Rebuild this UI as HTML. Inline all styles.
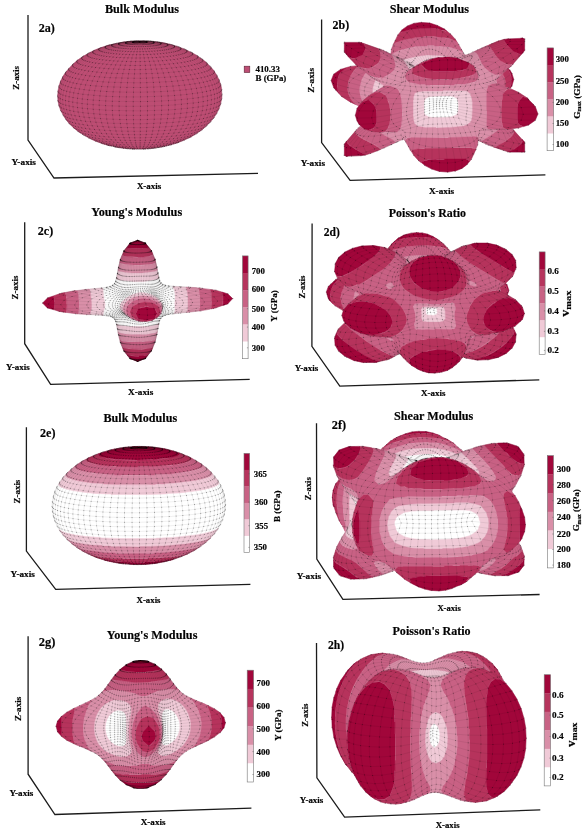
<!DOCTYPE html><html><head><meta charset="utf-8"><style>html,body{margin:0;padding:0;background:#fff}svg{display:block}</style></head><body><svg width="587" height="835" viewBox="0 0 587 835"><rect width="587" height="835" fill="#fff"/><path d="M60.6 81.1 59.1 85.4 57.9 91.1 57.9 93.6 57.6 93.9 57.9 100.9 58.9 105.4 60.6 110.4 64.9 118.1 68.6 122.9 73.6 127.9 79.4 132.4 88.9 138.1 94.9 140.9 103.1 143.9 110.1 145.9 112.4 146.1 117.1 147.4 126.1 148.6 133.9 148.9 134.1 149.1 143.1 149.1 143.4 148.9 150.9 148.6 161.4 147.1 170.1 145.1 177.4 142.9 184.4 140.1 191.1 136.9 196.6 133.6 202.6 129.4 210.4 122.1 213.6 118.1 216.6 113.6 219.1 108.6 220.6 104.1 221.9 97.6 221.6 88.6 220.9 85.1 218.9 79.4 216.6 74.9 213.9 70.6 211.6 67.9 205.4 61.6 196.9 55.4 191.6 52.4 184.1 48.9 177.4 46.4 169.4 44.1 162.4 42.6 153.4 41.4 145.9 41.1 145.6 40.9 136.4 40.9 136.1 41.1 131.9 41.1 122.9 42.1 108.6 45.1 100.9 47.6 94.6 50.1 83.4 56.1 77.6 60.1 73.1 63.9 68.4 68.9 65.4 72.6 63.1 76.1Z" fill="#bd4d73" stroke="#bd4d73" stroke-width="0.4"/>
<path transform="scale(0.1)" d="M1469 420l-25-7-53-1-47 3-18 7 22 7 53 2 52-4M1540 424l-17-7-34-6-102-3-91 7-31 7-10 7 13 8 30 5 105 5 105-8 27-7M1610 433l-28-12-56-8M1521 412l-23-1M1487 410l-29-1M1360 409l-22 1M1318 411l-17 1M1290 413l-77 12-21 7-7 9 13 9 26 6 85 9 109 1 103-6 71-12 16-8 2-7M1678 445l-16-10-40-9M1615 425l-5-1M1598 422l-5 0M1577 420l-3-1M1212 424l-6 1M1195 427l-3 0M1184 428l-8 2M1171 431l-29 7-22 10-2 10 16 10 72 14 121 8 138-2 116-9 76-15 19-9 2-10M1744 461l-20-12-31-8M1687 440l-3-1M1115 444l-3 1M1104 447l-3 0M1095 449l-34 11-10 11 5 10 28 12 96 16 160 8 150-3 141-12 53-9 42-11 19-13-1-8M1808 481l-13-10-21-7M1770 462l-3 0M1029 469l-3 1M1021 471l-29 14-5 8 1 7 15 10 40 13 121 16 165 8 178-3 162-14 68-11 49-13 19-12 5-8-2-5M1868 505l-21-14M1843 489l-8-2M951 499l-24 16 1 10 6 7 21 10 58 15 152 17 195 6 203-5 171-17 75-15 34-10 25-16 0-12M1925 531l-13-10M1908 519l-7-3M895 526l-2 1M888 529l-17 14-1 8 8 11 36 16 53 12 170 19 219 7 227-6 192-19 83-16 39-12 24-14 6-11-2-7M1978 561l-13-10M837 559l-4 2M829 564l-11 10-2 7 9 14 37 16 62 15 187 21 240 8 250-7 212-21 73-14 60-17 26-14 8-14-2-7M2026 594l-12-9M778 599l-11 17 11 15 29 14 77 19 92 13 111 10 260 9 271-8 229-23 70-12 75-21 16-7 19-15-1-16M2069 630l-8-8M733 637l-7 8-1 11 10 13 13 8 45 16 92 18 122 14 110 8 247 6 269-9 245-24 96-18 59-18 34-20 5-12-3-8M2108 668l-2-1M2101 661l-2-1M694 677l-9 16 3 8 23 17 53 18 91 18 89 11 157 12 302 6 301-13 132-12 111-16 71-15 61-20 22-13 8-9 2-8-3-9M2141 709l-3-3M657 722l-5 12 3 9 24 17 65 22 86 16 144 16 113 8 316 6 315-13 233-26 96-19 54-17 19-9 19-14 5-12-3-9M2168 751l-3-3M630 765l-6 12 4 9 24 18 74 24 83 15 114 14 153 11 327 7 327-14 125-11 139-20 77-16 69-23 21-12 8-10 3-9-4-9M607 810l-4 11 3 10 25 18 76 25 86 16 98 12 176 13 165 6 172 1 205-6 130-8 138-13 134-19 78-16 58-18 21-9 23-20 2-9-3-10M590 857l-3 10 4 9 23 18 24 10 61 17 114 20 248 22 179 6 164 0 298-11 166-14 107-14 97-17 90-25 35-20 9-9 2-12M2206 841l-1-2M580 906l2 17 9 9 38 19 88 22 105 17 110 11 180 11 292 4 189-5 157-9 232-25 91-16 98-27 36-20 8-9 2-12M575 957l3 12 10 10 38 18 62 17 132 22 246 21 195 6 143 0 325-13 255-26 92-17 98-27 36-19 9-10 2-12M578 1004l4 11 9 10 38 18 75 20 118 19 257 21 325 6 302-11 167-15 109-13 91-17 71-17 50-21 21-18 3-10M587 1051l4 10 10 9 42 20 94 23 92 14 232 20 190 6 153 1 331-14 240-25 90-16 70-18 48-19 14-9 10-13M2208 1036l1-3M603 1098l13 17 15 9 49 17 70 16 90 14 227 19 187 6 150 1 293-11 162-14 105-14 89-15 68-17 47-19 14-9 9-13M627 1146l10 12 15 9 47 17 68 15 88 14 231 19 317 6 327-14 219-23 86-16 66-16 46-18 22-20M654 1188l10 12 15 9 45 16 66 15 84 13 234 19 295 5 255-9 118-9 145-17 91-16 64-16 44-17 22-18M688 1232l23 16 43 16 63 14 88 13 254 19 244 3 244-8 213-20 158-28 52-16 18-8 18-14M731 1274l35 19 50 14 152 23 204 14 231 3 230-8 202-18 149-27 49-15 32-19M775 1310l32 17 47 13 142 22 191 13 215 3 216-8 189-17 139-25 46-14 29-16M824 1344l48 21 117 21 167 14 195 5 202-4 182-14 142-21 50-13 36-14M1967 1336l6-4M883 1378l59 20 119 18 160 11 181 2 181-6 158-15 117-20 55-20M945 1407l68 19 117 15 136 7 135 2 129-4 142-11 115-17 64-20M1005 1430l4 2M1012 1433l62 14 90 11 107 7 130 1 118-4 117-9 101-15 52-15M1070 1450l2 1M1078 1453l55 12 67 7 200 7 183-9 83-11 48-11M1718 1446l2 0M1144 1468l2 0M1153 1470l9 2M1166 1473l93 11 141 3 141-6 91-13M1636 1467l7-2M1648 1464l4-1M1219 1480l2 1M1234 1483l8 1M1251 1485l149 7 141-9M1550 1482l8-2M1568 1478l4 0M1324 1490l15 1M1432 1491l22-1M1481 1488l1 0M1398 419l142 5 93 13 111 24 124 44 101 51 57 38 43 36 39 38 37 48M2154 730l14 21M2186 787l4 7M2203 832l2 7M1398 419l94 1 116 10 132 27 63 19 115 49 53 30 69 50M2054 616l45 44M1398 419l138 2 89 10 108 22 120 41M1872 502l9 4M1899 515l35 19M1998 575l8 5M1398 419l123 0 77 6 95 17 91 25M1822 481l27 11M1876 505l9 4M1398 419l97-2 95 6 122 22 58 17M1398 419l123-3 61 5 78 13M1689 440l27 7M1398 419l117-4 57 4 65 10M1664 435l9 2M1398 419l109-5 71 5M1398 419l100-7 66 5M1398 419l91-8 52 4M1398 419l41-6 80-1M1398 419l35-7 47-2M1497 411l12 1M1398 419l40-8 49-1M1398 419l48-11 27 2M1398 419l18-7 24-4M1398 419l12-7 16-4M1398 419l12-11M1398 419l-1-11M1398 419l-16-11M1398 419l-13-7-19-3M1362 409l-5 1M1398 419l-29-8-28-1M1398 419l-25-7-33-2M1398 419l-41-7-50 0M1398 419l-36-6-54-1M1290 413l-6 1M1398 419l-83-7-40 3M1398 419l-93-6-45 4M1398 419l-102-4-90 10M1398 419l-110-3-107 13M1398 419l-118-2-57 6-66 11M1398 419l-62-2-123 8-60 10-85 22M1398 419l-76-1-118 9-62 11-99 27M1398 419l-135 3-66 8-127 26-69 23M982 487l-19 7M908 520l-9 4M1398 419l-138 5-134 20-126 36-68 28M913 517l-36 18M1398 419l-71 1-139 15-133 30-63 20-78 33-90 49-48 34-62 55M1398 419l-142 8-139 24-129 39-108 48-62 36-92 71-39 39-33 41-27 43-22 44M592 849l-2 8M1398 419l-155 12-127 23-66 19-64 22-98 45-72 41-49 35-43 37-61 67-39 57-21 44-16 46-9 46-3 46 6 62M584 1036l8 30M1398 419l-95 7-117 16-123 32-75 26-88 41-82 47-91 73-39 40-51 71-31 59-15 45-8 39-5 54 5 54 8 38 15 45 22 43 49 69M688 1232l7 6M1398 419l-94 8-116 18-132 36-112 46-66 35-100 69-43 38-38 40-33 43-27 43-21 45-15 46-10 46-3 47 3 46 10 45 15 45 21 43 27 42 33 40 38 38 75 57M825 1345l27 15M1398 419l-138 15-78 16-119 35-120 52-106 65-82 68-44 48-32 42-27 44-21 45-15 46-9 54-3 39 3 46 9 46 15 44 21 43 27 42 32 39 37 37 42 35 47 32 60 33M915 1394l9 4M1398 419l-134 17-130 32-122 46-65 34-95 60-86 76-36 42-31 43-26 44-20 45-15 46-9 47-2 54 2 38 9 46 15 44 20 43 26 41 31 39 36 37 41 34 95 60 72 32M1012 1433l10 3M1062 1448l20 5M1398 419l-129 18-125 34-118 47-106 62-92 72-74 81-30 44-25 44-22 53-20 86-3 46 3 46 9 45 14 44 19 43 25 41 30 39 35 36 83 65 99 52 113 38M1124 1463l20 5M1398 419l-123 20-120 34-112 50-101 62-88 73-71 82-52 89-19 46-13 46-8 47-3 46 3 46 8 46 13 44 19 42 24 41 28 38 33 36 38 33 88 58 101 44 64 18M1136 1466l19 5M1398 419l-117 21-112 36-106 51-96 63-83 74-67 83-50 89-30 93-7 47-3 46 3 46 7 45 13 44 17 42 23 41 27 38 67 68 83 57 96 43 106 27M1398 419l-109 22-105 38-99 51-90 65-77 75-63 84-46 89-28 93-10 94 10 91 28 85 46 78 63 68 77 56 90 41 48 16 68 13M1398 419l-100 23-98 39-91 53-83 65-71 76-58 85-42 90-26 93-9 93 9 91 26 86 42 77 58 67 71 55 83 41 45 14 86 17M1398 419l-91 25-88 39-83 54-75 66-65 77-52 85-39 90-25 102-7 85 2 46 16 89 31 81 46 72 59 61 70 47 79 32 86 16M1398 419l-81 25-40 19-58 35-55 41-34 32-62 73-53 82-41 88-27 93-15 94 0 93 15 88 27 81 41 71 53 60 62 47 70 31 38 10 52 6M1398 419l-71 26-68 41-64 56-63 74-45 71-22 43-35 89-25 93-12 94 0 92 12 88 25 81 35 71 46 60 54 45 61 31 33 10 40 5M1322 1490l5 0M1398 419l-59 27-58 42-54 56-26 32-42 68-42 89-30 89-20 93-10 95 0 92 10 88 20 81 14 36 28 55 27 38 22 25 49 38 54 22 58 6M1398 419l-48 27-46 43-44 56-48 88-40 102-24 90-17 93-8 95 0 92 8 88 17 80 24 71 31 59 37 44 41 30 23 9 34 5M1398 419l-36 28-35 43-33 56-32 76-34 115-18 90-12 93-7 95 0 92 7 88 12 80 18 71 23 58 28 45 31 29 17 9 23 5M1398 419l-24 28-23 43-22 57-21 76-22 115-12 90-13 188 4 180 9 81 12 70 15 58 18 44 21 30 11 8 15 5M1398 419l-23 71-24 165-13 174-6 188 2 180 10 150 16 103 10 29 13 13M1398 419l6 597-5 476M1398 419l18 41 15 56 22 138 15 173 7 188-2 180-11 151-20 103-11 29-15 14M1398 419l26 28 25 42 23 56 28 95 20 96 13 89 13 188-4 180-9 81-13 70-17 59-20 45-22 29-12 9-21 5M1398 419l38 27 37 42 34 56 36 81 34 108 19 90 13 93 7 94 0 93-8 94-21 111-21 65-27 52-32 38-34 22-18 5-22 1M1398 419l50 26 48 42 46 55 41 68 50 120 25 89 17 93 9 95 0 92-9 88-17 81-25 71-32 59-38 46-44 30-23 10-28 5M1456 1490l-8 0M1398 419l61 26 60 40 56 55 50 67 50 92 43 116 21 93 11 94 0 93-11 88-21 81-31 71-39 60-47 46-54 32-28 9-40 7M1398 419l72 25 71 39 65 54 64 73 47 71 22 41 37 88 24 93 13 94 0 92-13 89-24 81-37 72-46 60-56 47-63 32-33 11-41 6M1488 1488l-6 0M1398 419l83 24 80 38 81 58 63 61 30 37 54 80 41 88 29 92 14 94 0 92-14 89-29 82-41 72-54 61-63 48-72 33-39 11-53 7M1398 419l93 23 90 37 84 52 76 64 66 76 53 84 39 89 25 93 8 94-8 91-25 85-39 78-53 68-66 55-76 42-41 15-58 14M1536 1483l-7 1M1398 419l102 21 98 37 93 50 84 64 72 74 59 83 43 90 15 46 16 77 4 63-2 46-18 88-35 83-51 74-65 62-79 50-88 35-96 20M1398 419l110 20 107 35 100 49 91 63 78 73 63 83 47 88 29 93 9 93-9 91-29 86-47 79-63 69-78 58-91 43-49 17-60 14M1398 419l118 18 114 34 107 48 97 61 83 73 68 81 50 89 30 91 8 47 3 46-3 46-8 46-12 44-18 42-23 41-27 39-68 70-83 58-97 45-107 30M1398 419l124 17 121 32 113 47 102 60 88 71 72 81 53 87 18 46 14 46 8 46 3 47-3 46-8 45-14 44-18 43-24 41-29 39-34 37-38 34-88 60-102 46-113 31M1398 419l130 15 126 31 118 45 64 33 91 60 84 75 65 84 25 44 20 45 14 46 9 46 3 47-3 46-9 45-14 45-20 43-25 41-30 40-35 37-84 66-100 54-93 35M1714 1448l-10 2M1398 419l68 5 133 21 127 37 117 51 103 63 87 74 37 41 31 42 26 44 20 45 15 46 9 46 3 46-3 46-9 46-15 44-20 44-26 42-31 39-37 38-41 35-95 62-64 30M1795 1421l-29 10M1398 419l138 12 101 20 98 27 120 49 55 30 98 68 43 37 37 40 32 42 27 44 21 45 15 45 9 54 3 39-3 46-9 45-15 45-30 58-50 68-37 38-43 36-72 48M1919 1365l-36 18M1398 419l129 9 81 12 133 34 83 30 96 46 100 67 43 37 38 40 33 41 30 51 18 37 15 45 10 46 3 47-8 69-20 68-21 44-27 42-46 53-68 62M2004 1310l-16 12M1972 1333l-9 5M1398 419l95 5 117 14 69 14 119 35 71 29 56 28 102 66 43 36 44 46 28 35 27 42 22 44 15 46 9 46 3 54-3 38-9 46-15 45-26 51M2155 1154l-30 42M1398 419l72 2 129 13 81 14 66 17 124 45 57 28 61 36 84 64 39 39 33 41 28 42 24 51 13 38 9 46 3 46-3 46M2210 1026l-1 7" fill="none" stroke="#000" stroke-opacity="0.13" stroke-width="0.5" vector-effect="non-scaling-stroke"/>
<path transform="scale(0.1)" d="M1246 418h1m13-1h1m13 2h1m0-4h1m4 2h1m7-1h1m1-3h1m5 2h1m8-2h1m1-1h1m7 0h1m10-1h1m2 9h1m0-1h1m2-1h1m2-1h1m0-7h1m1 6h1m1-6h1m1 6h1m3-1h1m0-5h1m2 4h1m4 0h1m3-5h1m-1 0h1m1 4h1m4 0h1m4-5h1m0 4h1m5 0h1m5-4h1m-1 4h1m5 0h1m5-4h1m-1 4h1m0 7h1m5-7h1m4-4h1m0 4h1m5 0h1m5-4h1m-1 4h1m5 0h1m4 0h1m0-4h1m4 5h1m4 0h1m1-5h1m1 6h1m4 0h1m2 1h1m0-6h1m2 7h1m2 1h1m1 0h1m1 1h1m1 1h1m-1-9h1m-1 10h1m-1-11h1m9 1h1m7 0h1m1 1h1m8 1h1m4-1h1m3 3h1m7 1h1m3-3h1m1 4h1m5 2h1m4 1h1m1-5h1m13 1h1m11 2h1m11 2h1m4 1h1m-508 36h1m11-4h1m12-3h1m16-4h1m3 9h1m0-3h1m0 7h1m1-10h1m5-4h1m6-3h1m8-3h1m10-3h1m12-3h1m14-3h1m3 11h1m0-3h1m-1 5h1m1-7h1m-1 10h1m3-13h1m0 15h1m3-17h1m0 20h1m5-23h1m1 25h1m6-27h1m0 29h1m8-31h1m0 33h1m9-36h1m1 38h1m11 2h1m6-31h1m0-2h1m-1 4h1m0-5h1m-1 6h1m2-8h1m-1 10h1m2-12h1m0 14h1m3-15h1m0 16h1m5 2h1m5 1h1m7 1h1m8 1h1m8 2h1m9 0h1m8-22h1m-1-1h1m0 2h1m-1-3h1m-1 25h1m-1-21h1m1 1h1m1 1h1m1 0h1m2 1h1m2 19h1m0-18h1m2 0h1m4 1h1m1 17h1m1-17h1m4 1h1m4 17h1m0-17h1m4 1h1m5 0h1m-1 16h1m5-16h1m5 0h1m0 16h1m4-16h1m6 0h1m-1 16h1m5-16h1m5 0h1m-1 16h1m5-16h1m5-1h1m0 17h1m4-17h1m4 0h1m1 16h1m3-17h1m4-1h1m2 17h1m0-17h1m3-1h1m3-1h1m1 19h1m0-19h1m2-1h1m2-1h1m0-1h1m1-1h1m0-1h1m-1 0h1m-1 23h1m10-1h1m9-1h1m8-2h1m7-1h1m7-2h1m5-1h1m5-2h1m4-1h1m2-12h1m-1 37h1m-1-27h1m2-8h1m-1 6h1m0-5h1m-1 4h1m0-2h1m8 31h1m11-2h1m10-3h1m8-31h1m0 29h1m6-27h1m1 25h1m3-26h1m1 3h1m0 20h1m3-17h1m0 15h1m3-13h1m-1 10h1m1-7h1m-1 5h1m0-3h1m0-11h1m14 3h1m13 2h1m10 3h1m9 3h1m6 3h1m0 20h1m4-16h1m0 13h1m1-10h1m0 7h1m0-4h1m17-6h1m13 3h1m11 4h1m8 4h1m6 4h1m-755 38h1m1-5h1m-1 10h1m3-15h1m7-5h1m9-5h1m39-2h1m0-4h1m0 8h1m2-12h1m0 16h1m4-21h1m1 25h1m8 4h1m11 4h1m13 3h1m15 4h1m6-39h1m5 3h1m6 4h1m9 3h1m10 2h1m13 3h1m14 3h1m15 2h1m18 2h1m18 2h1m20 1h1m2-25h1m14 2h1m3 25h1m11-24h1m10 25h1m4-24h1m17 1h1m-1 24h1m16-24h1m6 24h1m10-23h1m12 23h1m5-23h1m18 0h1m-1 23h1m17-24h1m6 24h1m10-24h1m12 23h1m5-24h1m16-1h1m0 24h1m15-25h1m6 24h1m9-25h1m12 23h1m1-25h1m19 23h1m19-2h1m19-2h1m16-2h1m16-3h1m14-3h1m12-3h1m10-3h1m8-3h1m2 35h1m17-4h1m16-3h1m12-4h1m11-4h1m8-4h1m5-4h1m2-13h1m0 8h1m0-4h1m23-3h1m13 5h1m10 4h1m7 5h1m0 20h1m3-15h1m-1 10h1m1-5h1m30 2h1m11 6h1m8 5h1m-987 38h1m9-7h1m12-6h1m26-3h1m0-6h1m0 11h1m3-17h1m1 23h1m6-28h1m1 33h1m49-32h1m7 4h1m10 5h1m13 4h1m16 5h1m19 4h1m21 3h1m23 4h1m23-31h1m2 34h1m17-31h1m9 33h1m11-31h1m23 2h1m25 2h1m26 2h1m27 1h1m28 1h1m29 1h1m29 0h1m29 0h1m30-1h1m29 0h1m28-2h1m28-1h1m27-2h1m26-2h1m0 31h1m24-34h1m5 31h1m17-34h1m11 31h1m9-34h1m18 31h1m25-4h1m23-4h1m21-4h1m18-4h1m15-5h1m13-4h1m9-5h1m30 37h1m15-5h1m11-6h1m8-5h1m3-17h1m0 11h1m0-6h1m37 9h1m9 6h1m6 6h1m1 7h1m-1110 36h1m5-7h1m10-7h1m33-11h1m1-6h1m-1 13h1m6 6h1m9 6h1m13 6h1m17 6h1m34-38h1m15 5h1m19 5h1m21 5h1m24 4h1m27 4h1m30 3h1m32 3h1m34 3h1m29-32h1m5 34h1m25-32h1m12 34h1m19-33h1m18 34h1m14-33h1m34 1h1m35 0h1m35 0h1m35-1h1m4 34h1m29-35h1m10 33h1m23-34h1m15 33h1m18-35h1m20 33h1m37-3h1m35-3h1m34-3h1m31-4h1m29-4h1m27-5h1m24-5h1m21-5h1m48 32h1m20-6h1m17-6h1m12-6h1m9-7h1m4-6h1m45 11h1m6 6h1m-1 14h1m1-7h1m25 12h1m-1240 36h1m1-8h1m6-7h1m39-20h1m1 7h1m6 7h1m11 7h1m14 6h1m19 6h1m69-29h1m24 5h1m27 5h1m30 4h1m34 4h1m36 3h1m38 3h1m40 3h1m42 2h1m43 1h1m44 1h1m8-36h1m36 36h1m3-36h1m40 0h1m0 36h1m45-1h1m45-1h1m44-2h1m43-2h1m41-3h1m40-3h1m38-4h1m35-5h1m33-4h1m30-5h1m27-6h1m42 35h1m26-6h1m22-6h1m18-7h1m14-7h1m10-7h1m45 5h1m1 30h1m5-23h1m0 16h1m1-8h1m-1306 51h1m1-8h1m6-8h1m36-14h1m7 8h1m11 7h1m16 7h1m20 7h1m25 6h1m41-38h1m27 6h1m30 5h1m33 5h1m37 4h1m40 4h1m42 3h1m44 3h1m46 2h1m47 2h1m49 1h1m49 0h1m50 0h1m50-1h1m49-2h1m49-2h1m47-2h1m46-3h1m44-4h1m41-4h1m39-5h1m37-5h1m33-6h1m36 38h1m32-6h1m28-7h1m24-7h1m20-7h1m15-7h1m52-3h1m1 32h1m5-24h1m0 16h1m1-8h1m26 22h1m-1415 33h1m1-9h1m39-23h1m7 8h1m12 8h1m17 7h1m22 8h1m26 6h1m67-34h1m33 6h1m36 5h1m40 5h1m43 4h1m46 3h1m48 3h1m50 3h1m51 1h1m53 1h1m53 1h1m54 0h1m54-1h1m54-2h1m53-2h1m51-3h1m50-3h1m47-4h1m45-5h1m43-5h1m39-6h1m70 35h1m34-7h1m30-7h1m26-8h1m21-8h1m17-8h1m49 32h1m6-26h1m0 17h1m1-8h1m-1460 57h1m1-9h1m7-9h1m25-15h1m8 8h1m13 9h1m18 8h1m23 7h1m93-28h1m36 6h1m39 5h1m42 5h1m46 5h1m49 4h1m51 3h1m54 2h1m55 2h1m57 1h1m57 1h1m58-1h1m58-1h1m57-1h1m56-3h1m55-3h1m53-4h1m51-4h1m49-5h1m45-5h1m42-6h1m106 28h1m32-7h1m27-8h1m23-8h1m17-9h1m45 33h1m6-26h1m0 18h1m1-9h1m-1521 59h1m2-9h1m27-25h1m8 9h1m14 8h1m19 9h1m24 8h1m58-37h1m33 7h1m37 7h1m41 6h1m46 5h1m48 4h1m52 4h1m54 4h1m57 2h1m367 1h1m59-3h1m59-3h1m56-4h1m54-4h1m51-6h1m48-5h1m45-7h1m40-6h1m64 36h1m34-8h1m28-8h1m24-9h1m18-9h1m40 35h1m6-28h1m0 18h1m2-9h1m-1568 52h1m22-26h1m8 9h1m14 9h1m20 9h1m81-29h1m34 7h1m39 7h1m43 6h1m47 6h1m51 4h1m55 5h1m187-38h1m60 2h1m61 0h1m61 0h1m61-1h1m192 37h1m59-4h1m57-5h1m53-5h1m51-6h1m46-7h1m43-7h1m97 29h1m29-8h1m25-9h1m19-9h1m42 6h1m0 19h1m1-9h1m-1604 53h1m12-36h1m2 10h1m9 9h1m14 9h1m21 9h1m45-37h1m31 8h1m35 7h1m41 7h1m45 7h1m49 5h1m181-33h1m60 3h1m61 2h1m63 1h1m63 1h1m64-1h1m64-1h1m64-2h1m62-2h1m193 33h1m55-5h1m52-7h1m49-6h1m44-8h1m40-7h1m53 37h1m31-9h1m25-9h1m20-9h1m13-10h1m22 16h1m0 20h1m2-10h1m-1623 18h1m3 9h1m9 10h1m14 9h1m63-28h1m31 8h1m37 7h1m42 8h1m46 6h1m118-36h1m56 5h1m59 3h1m62 3h1m63 2h1m65 2h1m66 0h1m66 0h1m67-1h1m66-2h1m65-3h1m63-4h1m61-4h1m128 36h1m53-6h1m50-7h1m46-8h1m41-8h1m81 29h1m26-9h1m20-10h1m13-10h1m20 27h1m-1641 18h1m3 10h1m8 9h1m46-28h1m27 9h1m32 8h1m37 8h1m43 7h1m109-34h1m55 5h1m57 5h1m61 3h1m63 3h1m66 2h1m66 2h1m68 0h1m69 0h1m68-1h1m68-2h1m66-3h1m65-4h1m63-4h1m60-5h1m123 34h1m50-7h1m47-7h1m41-9h1m37-8h1m67 28h1m20-10h1m14-10h1m7-9h1m-1641 54h1m2 10h1m9 10h1m18-37h1m21 9h1m27 9h1m33 8h1m38 8h1m98-33h1m51 6h1m56 5h1m59 5h1m62 4h1m64 3h1m67 2h1m68 1h1m69 1h1m70-1h1m69-1h1m69-2h1m68-3h1m67-4h1m64-4h1m61-5h1m59-6h1m113 33h1m47-8h1m42-8h1m37-9h1m32-9h1m50 28h1m14-10h1m8-10h1m1-10h1m-1644 64h1m3 10h1m21-27h1m21 9h1m27 9h1m33 8h1m85-31h1m47 7h1m52 6h1m56 5h1m60 5h1m63 4h1m65 3h1m67 2h1m69 1h1m70 1h1m71-1h1m70-1h1m70-2h1m69-3h1m67-3h1m65-5h1m62-5h1m59-6h1m56-7h1m101 32h1m43-9h1m37-8h1m32-9h1m26-10h1m17 37h1m14-10h1m7-10h1m2-10h1m-1632 64h1m3-26h1m15 9h1m21 9h1m27 9h1m69-30h1m43 8h1m48 6h1m52 6h1m57 6h1m59 4h1m63 4h1m66 3h1m424 1h1m69-3h1m67-4h1m65-4h1m63-6h1m59-6h1m56-6h1m51-7h1m88 29h1m37-8h1m32-9h1m26-10h1m25 27h1m8-10h1m2-10h1m-1619 28h1m9 9h1m14 10h1m21 9h1m27 8h1m24-37h1m38 8h1m43 8h1m47 6h1m52 6h1m56 6h1m60 4h1m197-36h1m69 1h1m70 0h1m71 0h1m71-1h1m207 37h1m65-4h1m62-6h1m59-6h1m56-6h1m51-7h1m47-8h1m34 37h1m37-9h1m31-9h1m26-9h1m19 26h1m0-36h1m7 26h1m-1586 18h1m9 9h1m14 9h1m21 9h1m45-27h1m37 7h1m43 8h1m47 6h1m51 6h1m56 5h1m118-36h1m65 3h1m67 2h1m69 2h1m70 0h1m71 0h1m70-1h1m70-2h1m69-3h1m129 36h1m61-5h1m59-6h1m55-6h1m50-7h1m47-8h1m65 27h1m31-8h1m25-10h1m20-9h1m0 25h1m-1542 17h1m8 9h1m14 9h1m20 9h1m6-35h1m31 9h1m37 7h1m42 7h1m46 7h1m50 6h1m106-34h1m62 4h1m64 3h1m67 2h1m68 1h1m69 1h1m70 0h1m69-2h1m69-2h1m68-3h1m67-3h1m118 34h1m58-6h1m53-7h1m50-7h1m46-7h1m41-8h1m17 34h1m29-8h1m25-9h1m14 15h1m4-24h1m13-9h1m-1507 49h1m8 9h1m14 9h1m19 8h1m-1-33h1m31 8h1m35 7h1m41 7h1m45 7h1m49 5h1m41-36h1m57 4h1m61 4h1m63 3h1m66 2h1m66 1h1m68 1h1m69 0h1m68-2h1m68-2h1m66-2h1m65-4h1m63-4h1m50 36h1m55-5h1m52-7h1m49-6h1m44-8h1m40-8h1m11 33h1m28-8h1m24-8h1m7 14h1m10-23h1m13-9h1m-1447 48h1m8 8h1m13 8h1m12-23h1m5 31h1m24-23h1m34 7h1m39 6h1m43 7h1m47 5h1m36-35h1m56 5h1m59 3h1m62 3h1m63 2h1m65 2h1m66 0h1m66 0h1m67-1h1m66-2h1m65-3h1m63-4h1m61-4h1m45 35h1m53-5h1m51-7h1m46-6h1m43-7h1m38-8h1m5 31h1m27-7h1m23-9h1m-1 14h1m17-22h1m12-8h1m-1367 53h1m12 7h1m5-21h1m11 29h1m16-22h1m33 7h1m37 6h1m41 6h1m46 5h1m29-32h1m55 4h1m56 4h1m60 2h1m61 2h1m63 2h1m63 0h1m64 0h1m64-1h1m64-2h1m62-3h1m61-3h1m59-4h1m40 32h1m51-5h1m48-6h1m45-6h1m40-7h1m36 22h1m0-29h1m25 22h1m8 12h1m12-20h1m17-8h1m11-8h1m-1286 50h1m10-13h1m0 20h1m16 7h1m8-20h1m11 27h1m19-20h1m36 6h1m39 5h1m42 5h1m24-30h1m21 34h1m30-30h1m18 34h1m35-31h1m57 3h1m58 2h1m60 1h1m61 1h1m61-1h1m61-1h1m61-2h1m59-2h1m45 31h1m13-34h1m39 30h1m16-34h1m34 30h1m49-5h1m45-5h1m42-6h1m38 20h1m0-27h1m27 20h1m6-27h1m7 39h1m9-19h1m0 12h1m19-19h1m15-7h1m-1184 38h1m11 7h1m14 7h1m1-19h1m17 25h1m11-19h1m11 25h1m21-19h1m5 24h1m30-19h1m40 5h1m43 4h1m46 4h1m29-29h1m18 32h1m35-29h1m14 31h1m40-29h1m10 31h1m46-30h1m6 31h1m50-31h1m2 31h1m54 0h1m0-31h1m53 30h1m4-31h1m49 29h1m7-31h1m45 29h1m10-31h1m40 28h1m50-3h1m47-4h1m45-5h1m43-5h1m5 24h1m33-5h1m-1-25h1m29 19h1m6-25h1m12 35h1m6-16h1m5 10h1m16-17h1m18-6h1m-1059 34h1m13 6h1m17 5h1m21 6h1m12-17h1m-1 31h1m11-9h1m3 14h1m17-31h1m5 22h1m30 4h1m0-21h1m33 25h1m6-22h1m29 25h1m12-21h1m44 2h1m46 3h1m47 1h1m49 1h1m49 0h1m50 0h1m50-1h1m49-1h1m49-2h1m47-3h1m23 22h1m22-25h1m17 22h1m26-26h1m11 22h1m29-26h1m5 21h1m33-4h1m-1-22h1m11 36h1m18-19h1m2 14h1m17-6h1m6-14h1m8 9h1m14-14h1m20-6h1m-889 40h1m20 11h1m0-7h1m12 12h1m11-8h1m4 12h1m19 4h1m2-12h1m5 17h1m11 4h1m0-6h1m11-11h1m0 20h1m10-5h1m20-12h1m5 15h1m0-34h1m26 36h1m0-15h1m12-18h1m22 21h1m19-19h1m18 20h1m24-19h1m13 21h1m30-20h1m8 20h1m36-20h1m3 21h1m40 0h1m0-21h1m39 20h1m5-21h1m34 20h1m10-21h1m28 19h1m15-21h1m23 19h1m11 15h1m7-36h1m17 18h1m4 15h1m29-3h1m0-15h1m27 12h1m0 9h1m5-24h1m11 20h1m6-9h1m9 5h1m2-20h1m9 17h1m0-6h1m18-15h1m2 11h1m18-4h1m5-12h1m9 7h1m13-4h1m-673 36h1m18 4h1m10 3h1m9-1h1m0 4h1m13 2h1m6-3h1m7 6h1m10-15h1m4 17h1m-1-6h1m18 8h1m6-6h1m0-11h1m8 20h1m1-1h1m14-6h1m5 8h1m0-20h1m1 22h1m14 2h1m3-3h1m-1-8h1m11 12h1m0-24h1m9 21h1m4 4h1m0-12h1m16 13h1m-1-4h1m-1 3h1m1-24h1m9 25h1m0-12h1m3 12h1m6-4h1m10 5h1m2-26h1m4 13h1m4 8h1m5 5h1m18 0h1m-1-5h1m-1-8h1m0-13h1m16 25h1m6-4h1m5-9h1m4 13h1m-1 0h1m0-26h1m10 25h1m0-4h1m5 4h1m5-13h1m10 12h1m-1-25h1m0 21h1m7 3h1m7 0h1m0-12h1m5 8h1m9 3h1m0-24h1m11 19h1m-1-8h1m1 11h1m14-2h1m4-2h1m0-20h1m4 12h1m2 9h1m10-3h1m12-9h1m6 6h1m1-1h1m14-1h1m1-6h1m14 3h1m8-6h1m5 3h1m12-3h1m2-3h1" fill="none" stroke="#000" stroke-opacity="0.4" stroke-width="0.9" vector-effect="non-scaling-stroke" stroke-linecap="round"/>
<path d="M173.4 287.9 172.4 286.4 168.9 286.1 165.1 285.4 162.4 284.1 159.9 281.1 159.1 278.6 156.1 279.6 142.9 281.9 134.4 281.9 119.1 280.1 116.1 279.4 115.9 280.9 114.4 283.6 112.4 285.4 109.9 286.6 106.9 287.4 102.6 287.9 103.1 288.6 103.6 295.9 105.1 304.1 104.6 309.1 103.1 315.4 109.4 316.1 112.6 317.4 114.6 319.1 115.9 321.4 116.4 323.6 117.6 324.4 122.4 325.6 129.4 326.4 146.4 326.1 146.6 325.9 151.9 325.6 156.9 324.4 158.9 323.1 159.6 320.4 160.9 318.1 162.9 316.4 166.1 314.9 169.4 314.1 172.9 313.9 174.1 312.9 174.9 310.9 174.9 304.4 174.6 304.1 174.9 293.6ZM120.4 304.1 121.6 302.1 124.4 299.4 127.4 297.1 131.4 294.9 138.1 292.6 143.1 292.4 147.6 293.1 149.1 293.9 150.6 294.1 155.1 296.4 158.1 298.4 161.6 302.1 162.4 303.4 162.9 305.9 162.4 309.6 161.1 313.6 157.1 317.9 152.1 320.6 144.1 321.9 143.9 321.6 138.9 321.4 133.4 319.6 127.6 316.4 124.1 313.6 121.6 311.1 120.4 309.1 119.9 307.4 119.9 305.9Z" fill="#ffffff" stroke="#ffffff" stroke-width="0.5" fill-rule="evenodd"/>
<path d="M158.9 323.4 156.9 324.6 153.4 325.6 146.4 326.4 129.4 326.6 119.9 325.4 117.6 324.6 116.6 323.9 116.6 324.9 117.9 331.6 118.6 332.4 119.9 332.9 127.6 334.1 140.9 334.4 141.1 334.1 145.9 334.1 150.6 333.6 155.4 332.6 156.9 331.9 157.6 330.4ZM162.1 303.4 160.9 301.4 158.1 298.6 155.1 296.6 150.6 294.4 145.1 292.9 140.4 292.6 138.1 292.9 133.1 294.4 128.6 296.6 125.6 298.6 121.9 302.1 120.6 304.1 120.1 305.9 120.1 307.4 120.6 309.1 121.9 311.1 127.6 316.1 125.4 314.4 123.4 311.4 122.9 309.4 122.9 307.6 123.4 305.6 124.1 304.4 127.4 300.9 130.6 298.6 134.4 296.9 137.9 295.9 141.6 295.4 147.1 295.6 150.6 296.4 155.9 298.6 160.6 302.6 162.1 305.1 162.4 307.1 162.6 305.4ZM102.4 287.9 89.4 289.1 90.1 290.1 90.6 292.4 91.9 303.9 91.6 309.1 91.1 312.4 90.4 314.6 101.6 315.1 101.9 315.4 102.9 315.4 103.1 314.9 103.1 313.4 104.6 307.6 104.9 304.1 103.4 295.9 102.9 288.6ZM172.6 286.4 174.4 289.9 175.1 293.6 175.1 302.1 174.9 302.4 175.1 310.9 174.4 312.9 173.6 313.6 186.4 312.4 187.4 310.4 187.6 308.4 187.6 296.1 186.9 290.6 185.6 287.1ZM158.9 277.6 157.4 270.4 156.4 271.1 153.9 271.9 142.4 273.4 133.1 273.4 132.9 273.1 126.6 272.9 120.1 271.9 117.9 270.9 116.4 279.1 119.1 279.9 134.4 281.6 142.9 281.6 156.1 279.4 158.6 278.6Z" fill="#f0cad7" stroke="#f0cad7" stroke-width="0.5" fill-rule="evenodd"/>
<path d="M157.4 331.6 155.4 332.9 152.1 333.6 145.9 334.4 141.1 334.4 140.9 334.6 131.9 334.6 131.6 334.4 125.1 334.1 119.9 333.1 118.6 332.6 117.9 331.9 119.6 339.6 120.9 340.4 127.9 341.6 141.9 341.9 142.1 341.6 145.9 341.6 150.1 341.1 153.6 340.4 155.4 339.6 155.9 338.6ZM161.4 304.1 160.4 302.6 156.6 299.4 151.4 296.9 147.1 295.9 144.6 295.9 144.4 295.6 139.4 295.9 134.4 297.1 130.6 298.9 127.4 301.1 125.1 303.4 123.6 305.6 123.1 307.6 123.1 309.4 123.6 311.4 125.6 314.4 129.9 317.6 132.9 319.1 129.9 317.4 126.6 313.9 125.9 311.1 125.9 309.6 127.1 306.1 130.6 302.6 133.4 300.9 137.9 299.1 142.6 298.4 150.1 298.9 153.9 300.1 157.9 302.4 161.4 306.1 162.1 309.6 162.4 307.4ZM89.1 289.1 77.1 290.6 77.6 290.9 78.6 294.9 79.4 302.6 79.1 310.1 78.6 312.9 78.1 313.9 86.1 314.4 86.4 314.6 90.1 314.6 91.4 309.1 91.6 303.9 90.4 292.4 89.9 290.1ZM185.9 287.1 187.1 290.6 187.9 296.1 187.9 308.4 187.6 310.4 186.6 312.4 198.6 311.1 199.6 307.6 199.9 301.9 199.6 301.6 199.4 293.6 198.1 288.4 197.6 287.9 196.4 287.6ZM155.9 262.6 154.1 263.6 150.9 264.4 140.6 265.4 133.9 265.4 133.6 265.1 126.9 264.9 121.1 263.9 119.6 262.9 118.4 267.4 117.9 270.6 120.1 271.6 126.6 272.6 132.9 272.9 133.1 273.1 142.4 273.1 153.9 271.6 156.9 270.6 157.4 270.1Z" fill="#d98fa8" stroke="#d98fa8" stroke-width="0.5" fill-rule="evenodd"/>
<path d="M155.6 339.6 154.4 340.4 151.6 341.1 141.9 342.1 127.9 341.9 121.6 340.9 120.1 340.1 119.9 340.6 121.6 345.6 122.4 347.1 123.4 347.9 126.9 348.6 132.1 348.9 132.4 349.1 141.6 349.1 149.1 348.4 152.9 347.1 154.6 343.1ZM126.1 309.6 126.1 311.1 126.9 313.9 129.9 317.1 133.6 319.4 138.9 321.1 143.6 321.4 139.1 321.1 136.1 319.9 132.9 317.9 131.1 316.1 129.6 312.1 131.1 307.9 132.6 306.4 136.9 303.6 139.6 302.6 144.4 301.9 150.9 302.4 153.9 303.4 157.9 305.9 159.6 307.9 160.6 310.9 160.6 312.1 159.4 315.4 160.9 313.6 161.9 310.1 161.1 306.1 157.9 302.6 153.9 300.4 149.1 298.9 146.1 298.9 145.9 298.6 142.6 298.6 138.9 299.1 133.4 301.1 130.6 302.9 127.4 306.1ZM77.4 290.9 75.6 290.6 64.9 292.6 65.6 293.1 66.1 294.4 66.9 299.4 67.1 305.4 66.9 305.6 66.9 309.4 66.1 312.4 77.9 313.9 78.4 312.9 78.9 310.1 79.1 302.6 78.4 294.9ZM197.9 287.9 198.9 289.6 199.9 295.9 199.9 301.6 200.1 301.9 199.9 307.6 198.9 311.1 210.4 309.1 210.9 308.6 211.4 306.4 211.6 301.1 211.4 300.9 211.4 295.9 210.9 292.1 209.9 289.4ZM155.6 261.6 154.9 258.9 153.1 254.9 151.6 255.9 148.1 256.6 143.6 257.1 137.9 257.1 137.6 257.4 126.1 256.6 123.1 255.9 122.1 255.1 120.4 259.4 119.6 262.6 121.1 263.6 126.9 264.6 133.6 264.9 133.9 265.1 140.6 265.1 140.9 264.9 147.4 264.6 152.1 263.9 155.6 262.6Z" fill="#c86184" stroke="#c86184" stroke-width="0.5" fill-rule="evenodd"/>
<path d="M122.4 347.4 123.9 350.9 127.1 354.9 129.6 355.6 135.4 355.9 135.6 356.1 143.1 355.9 146.4 355.4 148.4 354.6 151.4 350.9 152.9 347.4 149.1 348.6 141.6 349.4 128.9 349.1 123.4 348.1ZM129.9 312.1 131.4 316.1 132.9 317.6 136.1 319.6 139.1 320.9 146.4 321.4 152.1 320.4 157.9 316.9 159.1 315.6 160.4 312.1 160.4 310.9 159.1 307.4 157.9 306.1 153.9 303.6 150.9 302.6 144.4 302.1 138.6 303.1 136.9 303.9 132.6 306.6 131.4 307.9ZM135.6 313.4 138.1 308.9 139.4 308.1 145.6 306.6 147.4 306.6 153.9 307.9 155.1 308.9 157.4 313.1 156.4 315.6 154.4 318.6 146.9 320.6 138.9 319.1 137.9 318.4 135.6 314.1ZM65.1 292.9 64.6 292.6 60.1 293.6 53.4 295.9 54.4 298.6 54.4 301.9 54.6 302.1 54.4 309.1 53.6 309.6 59.1 311.4 65.9 312.4 66.6 309.4 66.9 304.4 66.6 304.1 66.6 299.4 66.1 297.4 66.1 295.6ZM210.1 289.6 211.1 292.1 211.6 295.9 211.6 300.9 211.9 301.1 211.6 306.4 210.9 308.9 214.9 308.1 222.6 305.4 222.9 296.4 221.9 292.1 216.4 290.4ZM152.9 254.1 151.4 250.6 148.6 247.1 148.4 247.6 147.1 248.1 142.6 248.9 131.9 248.9 127.6 248.1 126.6 247.4 123.9 250.9 122.4 255.1 123.9 255.9 127.9 256.6 137.6 257.1 137.9 256.9 143.6 256.9 149.6 256.1 152.6 255.1Z" fill="#b6335c" stroke="#b6335c" stroke-width="0.5" fill-rule="evenodd"/>
<path d="M148.1 354.9 147.4 355.4 145.1 355.9 138.9 356.1 138.6 356.4 131.4 356.1 127.1 355.1 130.1 358.6 137.6 361.4 145.4 358.4ZM135.9 313.4 135.9 314.1 138.1 318.4 139.6 319.1 146.1 320.4 154.4 318.4 157.1 313.6 154.6 308.6 153.9 308.1 147.4 306.9 145.6 306.9 138.9 308.6 138.1 309.1ZM47.6 297.9 42.6 303.1 47.4 307.9 53.4 309.6 54.1 309.1 54.4 302.1 54.1 301.9 54.1 298.6 53.4 296.1ZM222.1 292.1 223.1 296.4 223.1 304.1 222.9 304.4 222.9 305.4 227.6 303.9 232.6 298.6 227.9 293.9ZM148.4 246.9 145.4 243.1 137.6 240.4 130.1 243.1 126.9 247.4 127.6 247.9 131.9 248.6 142.6 248.6 147.1 247.9 148.4 247.4Z" fill="#a1063a" stroke="#a1063a" stroke-width="0.5" fill-rule="evenodd"/>
<path transform="scale(0.1)" d="M1456 2432l-11-4M1444 2427l-4 0M1315 2427l-1 0M1310 2428l-13 6 5 5 55 7 72-3 20-4 7-7M1515 2507l-4-3M1242 2506l-4 3 2 6 24 8 91 8 121-7 32-8 6-4 1-5M1550 2592l-1-1M1204 2594l-1 6 6 5 36 11 104 7 152-7 40-11 8-5 1-8M1569 2668l-1-1M1185 2671l-1 6 13 8 35 11 38 5 60 2 184-7 44-13 9-7 2-8M1579 2727l-1-1M1175 2731l-1 5 7 6 34 14 37 7 43 2 224-6 47-14 13-12 0-6M1167 2776l-1 5 8 7 37 15 38 8 44 2 229-7 23-4 27-11 15-13 0-7M1597 2803l-2-1M1157 2810l-1 3 10 8 41 18 40 8 29 2 124-7 125 0 23-4 29-12 18-15 2-8M1610 2826l-2-1M1145 2834l-1 3 10 8 47 21 43 9 29 1 128-9 128 3 23-5 33-13 22-17 3-9M1628 2843l-4-3M1127 2851l-2 3 13 9 55 24 46 10 30 1 134-12 107 6 36-2 25-7 36-18 17-13 4-9M1654 2854l-7-3M1102 2863l-3 4 16 10 68 27 49 11 31 1 143-14 111 8 37-3 27-7 44-20 23-15 6-11M1691 2861l-9-3M1072 2872l-10 4 7 5 78 31 60 16 49 4 153-16 52 1 67 8 37-2 47-14 37-17 32-18 10-13M1742 2866l-16-3M1023 2879l-12 4 10 6 103 36 71 18 51 4 169-18 58 2 68 8 37-2 102-34 46-21 13-10 3-6M1811 2869l-26-2M957 2886l-15 3 13 8 103 33 99 23 78 9 187-17 157 9 52-12 89-27 65-26 21-12 5-8M1905 2874l-26-3M869 2894l-21 4 19 9 94 26 177 36 102 9 192-12 163 3 89-20 132-36 80-29 9-10M2024 2883l-37-4M754 2907l-25 6 27 11 210 40 245 33 125 1 250-7 302-62 120-34 16-12M2160 2902l-20-2M619 2931l-26 8 40 12 87 14 443 47 121 20 105 7 70 0 105-9 25-5 26-17 26-7 416-66 77-19 26-14M2279 2937l-17-2M486 2976l-12 3 52 13 114 11 514 29 38 7 82 32 49 11 68 10 80 2 70-6 47-12 22-13 16-34 25-8 490-52 102-17 36-15M2328 2986l-10-1M432 3028l-7 2 58 11 125 6 477 2 66 3 38 9 82 49 49 20 72 16 84 6 74-9 47-20 21-21 7-33M1625 3066l5-15 9-6 40-8 496-26 112-11 41-14M480 3077l-6 2 52 8 114 1 450-19 64 2 38 10 82 62 49 24 68 21 80 7 70-11 47-23 23-30M1616 3116l2-7M1625 3073l10-9 40-7 466-3 102-6 36-10M593 3114l40 6 87-2 336-28 107-2 37 11 84 65 45 24 60 20 70 7 62-10 47-27M1625 3082l16-5 54-3 362 13 77-1 26-8M738 3135l18 3 62-3 261-29 95-4 37 11 84 61 41 21 51 16 29 3M1435 3216l18-1M1624 3093l51-4 282 20 57-1M861 3145l47-1 196-26 61-5 42 5 39 20M1622 3103l62 1 179 18 37-1M952 3150l31-1 198-25 38 4 30 13M1620 3114l187 16M1018 3153l22 0 155-19 35 4 27 10M1615 3125l111 13 14-2M1067 3158l140-14 33 4 35 12M1612 3137l69 8 9-2M1100 3164l15 2 102-9 31 3 48 16M1598 3149l56 4M1125 3174l13 4 101-4 120 29M1585 3164l43 0M1143 3189l11 5 90 0 116 24 41 2 36-3M1563 3184l39 0 8-3M1156 3210l10 7 81 3 96 18 57 4 54-7 83-22 54-4 6-4M1165 3243l4 5 80 7 95 15 55 3 53-6 82-18 50-7 4-6M1173 3285l4 7 18 5 150 17 53 2 82-10 92-18 8-6M1184 3344l3 7 25 7 168 16 50-2 59-8 78-17 2-6M1202 3421l7 8 36 8 135 10 59-3 62-8 48-13 1-6M1238 3508l9 7 33 7 99 6 97-8 32-7 7-8M1456 3581l-1-1M1297 3582l3 4 17 5 61 4 56-4 18-5 4-5M1377 2403l79 29 59 75 35 85 47 211 13 23 18 17 26 11 37 7 333 22 136 19 119 35 49 49-49 52-60 20M2180 3072l-20 6M1475 3555l-19 26M1403 3603l-26 11M1377 2403l78 28 58 74M1609 2827l12 10M1628 2842l21 9 35 7 202 12 152 15M1403 3603l-26 11M1377 2403l76 27 38 49M1389 3608l-12 6M1377 2403l74 26M1389 3608l-12 6M1377 2403l71 25M1388 3608l-11 6M1377 2403l56 20M1388 3608l-11 6M1377 2403l42 16M1377 2403l30 11M1377 2403l27 11M1377 2403l16 7M1377 2403l14 7M1377 2403l12 7M1377 2403l10 7M1377 2403l8 6M1377 2403l6 6M1377 2403l2 3M1377 2403l1 3M1377 2403l-1 3M1377 2403l-2 3M1377 2403l-3 3M1377 2403l-8 6M1377 2403l-10 7M1377 2403l-12 7M1377 2403l-14 7M1377 2403l-16 7M1377 2403l-26 11M1377 2403l-29 12M1377 2403l-42 16M1366 3608l11 6M1377 2403l-55 21M1366 3608l11 6M1377 2403l-70 26M1365 3608l12 6M1377 2403l-73 27M1365 3608l12 6M1377 2403l-75 28-10 12M1364 3608l13 6M1377 2403l-77 29-58 74M1351 3603l26 11M1377 2403l-79 30-59 75-5 14M1350 3603l27 11M1377 2403l-80 31-59 75-35 87-29 136M1166 2777l-4 16M1154 2817l-4 8M1137 2842l-5 5M1125 2852l-8 5M1100 2864l-11 3M1337 3598l40 16M1377 2403l-80 32-59 76-36 87-46 213-13 24-18 17-26 12-36 9-318 34-126 24M1147 3195l9 15 9 33 18 103 19 76 36 86 59 75M1337 3599l40 15M1377 2403l-79 33-60 77-35 87-47 213-12 24-19 17-26 13-37 9-333 37-136 26-119 40-49 51 49 49 119 35 45 7M1108 3167l8 4M1125 3174l19 16 12 24 47 211 35 85 60 74M1337 3599l40 15M1377 2403l-78 34-59 78-35 87-45 215-13 24-17 17-26 13-35 10-313 43-123 27-107 41-43 49 43 46 107 33 123 18 313 20 35 8 26 11 17 16 13 23 45 211 35 85 59 73 78 29M1377 2403l-77 35-57 79-34 88-43 216-12 24-16 18-23 14-32 11-265 50-98 27-80 38-32 44 32 41 80 30 98 17 265 24 32 7 23 12 16 16 12 23 43 212 34 85 57 72 77 28M1377 2403l-75 36-55 79-33 89-17 78-23 140-10 25-15 19-20 15-27 12-209 56-70 26-55 34-21 38 21 34 55 27 70 17 209 28 27 9 20 12 15 17 10 24 23 137 17 76 33 84 55 72 75 27M1377 2403l-72 37-53 80-32 90-16 78-21 142-8 26-12 19-17 16-22 13-158 60-48 25-36 29-14 32 14 29 36 23 48 17 158 34 22 10 17 13 12 18 8 24 21 139 16 75 32 85 53 71 72 26M1377 2403l-68 38-51 81-31 90-15 79-17 143-17 47-31 31-119 62-32 22-24 26-9 27 9 25 24 21 32 17 119 38 18 11 13 13 10 19 7 25 17 140 15 76 31 84 51 71 68 25M1377 2403l-65 39-48 81-28 91-14 80-15 145-14 48-25 32-89 62-23 21-16 23-7 24 7 22 16 19 23 16 89 41 25 26 14 45 15 141 14 77 28 84 48 70 65 24M1377 2403l-60 40-45 82-27 91-13 80-12 146-11 49-21 33-69 62-17 20-12 21-5 22 5 20 12 18 17 15 69 43 21 27 11 46 12 143 13 76 27 84 45 70 60 23M1377 2403l-56 40-41 83-24 92-12 80-11 147-9 49-17 34-71 81-9 20-4 21 4 19 9 17 14 15 57 43 17 28 9 47 11 143 12 76 24 84 41 70 56 22M1377 2403l-50 41-38 83-22 93-11 80-9 147-8 50-15 34-61 81-9 20-3 20 3 19 9 17 61 57 15 29 8 46 9 144 11 76 22 83 38 69 50 22M1377 2403l-45 42-33 83-20 93-9 80-9 147-7 50-14 34-57 83-10 41 2 19 8 17 57 56 14 28 7 46 9 143 9 76 20 83 33 69 45 21M1377 2403l-39 42-29 84-17 93-8 80-8 147-7 49-13 34-56 85-11 44 3 20 8 18 11 14 45 40 13 26 7 46 8 142 8 75 17 83 29 68 39 21M1377 2403l-33 42-24 85-14 92-15 226-7 49-12 34-45 67-20 46-3 24 3 22 8 19 18 19M1237 3132l3 2M1244 3136l2 2M1272 3159l12 25 4 18 18 242 14 82 24 68 33 20M1377 2403l-26 43-20 84-11 93-13 224-6 49-12 33-45 70-21 52-4 28 4 24 13 24M1242 3134l4 4M1294 3173l11 34 15 238 11 82 20 67 26 20M1377 2403l-20 43-14 85-24 362-10 33-43 73-23 61-3 33 3 28 10 20 15 14M1316 3186l9 49 9 211 9 81 14 67 20 20M1377 2403l-13 43-9 85-17 360-7 32-36 76-21 72-3 39 3 33 12 23M1289 3169l10 7M1337 3196l6 42 12 290 9 67 13 19M1377 2403l-10 128-8 358-30 147-9 94 3 37 6 21 9 7M1359 3203l8 325 4 67 6 19M1377 2403l4 484 11 259-5 65M1381 3211l-4 403M1377 2403l8 43 6 85 12 355 6 30 35 80 15 43 12 55 5 58-5 43-12 20-17 1M1402 3213l-11 315-6 67-8 19M1377 2403l15 43 11 84 16 311 6 45 11 30 61 78 24 42 20 52 9 55-9 41-20 21-8 1M1422 3217l-19 311-11 66-15 20M1377 2403l21 43 17 84 10 91 12 221 8 45 16 30 76 76 27 37 24 46 9 47-9 38-24 22M1440 3220l-15 225-10 82-17 67-21 20M1377 2403l28 42 21 84 13 92 15 221 10 46 18 31 80 74 27 32 21 38 8 39-12 37M1458 3216l-19 228-13 82-21 68-28 20M1377 2403l34 42 26 84 16 91 18 223 10 47 19 31 77 71 23 27 18 32 5 37M1619 3107l-1 5M1473 3215l-20 228-16 82-26 68-34 21M1377 2403l40 41 31 84 18 91 20 224 10 48 19 32 71 68 19 24 15 27 5 27M1489 3211l-23 230-18 83-31 69-40 21M1377 2403l46 41 35 83 21 91 10 80 11 146 10 48 18 33 65 65 16 21 12 24 5 24M1502 3210l-13 154-10 76-21 83-35 69-46 22M1377 2403l52 40 39 83 22 91 12 80 11 146 9 49 18 33 75 83 11 21 4 22-4 20M1515 3206l-13 156-12 76-22 84-39 69-52 23M1377 2403l57 39 42 82 25 92 13 80 11 146 9 49 18 34 59 61 24 39 4 20-4 19-10 18M1527 3203l-13 156-13 77-25 84-42 71-57 23M1377 2403l61 38 46 82 27 91 14 80 12 147 9 49 19 33 61 60 25 38 3 20-3 19-10 17-18 17M1539 3196l-14 161-14 77-27 85-46 71-61 24M1377 2403l65 37 50 81 28 91 15 80 13 146 11 49 20 33 68 59 28 38 4 20-4 20-12 17-16 15-28 19M1551 3194l-16 161-15 77-28 85-50 72-65 25M1377 2403l69 37 52 80 30 90 16 79 14 145 13 49 23 32 81 58 20 19 14 21 5 21-5 21-14 19-20 15-61 34M1563 3184l-19 170-16 76-30 86-52 72-69 26M1377 2403l72 36 54 79 32 89 16 79 17 144 15 48 29 31 101 57 25 20 19 22 7 24-7 22-19 21-25 16-81 35-28 17M1580 3171l-12 39-17 142-16 77-32 85-54 73-72 27M1377 2403l75 35 56 78 33 89 17 78 19 143 8 26 11 20 14 16 20 13 131 56 36 21 26 24 10 27-10 26-26 22-36 18-131 44-20 11-14 15-11 19-8 25-19 141-17 77-33 86-56 73-75 28M1377 2403l77 34 57 77 35 88 17 78 22 141 9 25 13 19 18 15 24 12 171 53 51 22 39 27 15 31-15 30-39 26-51 19-171 41-24 11-18 14-13 18-9 25-22 140-17 76-35 86-57 74-77 29M1377 2403l78 33 59 76 35 88 18 76 24 140 11 24 15 18 21 14 29 11 221 46 74 23 58 31 23 37-23 35-58 29-74 21-221 39-29 9-21 13-15 18-11 25-24 138-18 76-35 86-59 75M1429 3594l-52 20M1377 2403l79 31 59 76 36 87 18 76 26 138 12 24 17 17 24 13 33 9 276 38 100 23 84 34 34 42-34 43-84 33-100 22-276 36-33 9-24 12-17 18-12 24-26 137-18 76-36 86-59 76-79 31M1377 2403l79 30 59 75 36 87 46 212 13 23 18 17 26 11 36 9 318 28 126 21 109 36 44 48-44 48-109 38-126 23-318 35-36 9-26 12-18 17-13 24-46 213-36 87-59 76M1416 3598l-39 16" fill="none" stroke="#000" stroke-opacity="0.13" stroke-width="0.5" vector-effect="non-scaling-stroke"/>
<path transform="scale(0.1)" d="M1377 2403h1m-81 32h1m-1-1h1m0 2h1m-1-3h1m0 4h1m0-5h1m-1 6h1m1-7h1m-1 8h1m1-9h1m0 10h1m1-11h1m1 12h1m2 1h1m2-15h1m1 16h1m3 0h1m5 1h1m4 1h1m5 0h1m5 0h1m6 1h1m5 0h1m6 0h1m6 0h1m6 0h1m6 0h1m6 0h1m5 0h1m6-1h1m5 0h1m5-1h1m5 0h1m5-1h1m4-1h1m3-1h1m2-14h1m0 13h1m3 0h1m1-12h1m0 11h1m1-10h1m0 9h1m0-8h1m0 7h1m0-6h1m-1 5h1m0-4h1m-1 2h1m-1-1h1m-219 78h1m-1-2h1m-1 4h1m0-5h1m0 7h1m1-9h1m0 11h1m3 1h1m4 2h1m5 2h1m5 1h1m7 2h1m7 1h1m8 1h1m9 1h1m9 1h1m10 1h1m10 0h1m11 1h1m11 0h1m11 0h1m11 0h1m11 0h1m11-1h1m11 0h1m10-1h1m10 0h1m10-1h1m9-1h1m9-1h1m7-2h1m7-1h1m7-2h1m5-1h1m4-2h1m4-2h1m2-2h1m1-9h1m0 7h1m0-5h1m-1 3h1m-1-2h1m-314 90h1m0-2h1m-1 4h1m0-6h1m0 8h1m3 3h1m4 2h1m5 3h1m6 2h1m8 2h1m8 2h1m10 2h1m10 2h1m198-1h1m12-1h1m10-1h1m10-1h1m9-2h1m8-2h1m7-2h1m6-3h1m5-2h1m4-3h1m1-12h1m0 10h1m0-8h1m0 5h1m-1-2h1m-273 26h1m12 1h1m13 0h1m13 1h1m13 0h1m14 0h1m14 0h1m15 0h1m14-1h1m14 0h1m14-1h1m13 0h1m13-1h1m-271 54h1m0-2h1m-1 5h1m2 2h1m3 3h1m5 3h1m6 3h1m7 3h1m9 3h1m9 2h1m11 2h1m11 2h1m204 0h1m13-1h1m13-1h1m12-1h1m11-1h1m10-2h1m9-2h1m8-3h1m6-3h1m6-3h1m4-3h1m3-4h1m1-8h1m-1 5h1m0-3h1m-398 64h1m0 2h1m-1-4h1m2 7h1m92-38h1m13 1h1m14 1h1m14 0h1m15 0h1m15-1h1m16 0h1m16 0h1m16-1h1m15 0h1m16-1h1m15 0h1m130 37h1m1-4h1m-1-6h1m0 3h1m-416 48h1m0-1h1m14-35h1m6 4h1m6 3h1m9 4h1m9 3h1m10 3h1m12 2h1m12 2h1m12 1h1m14 1h1m14 0h1m15 0h1m16 0h1m16-1h1m16-1h1m17 0h1m17-1h1m16 0h1m17 0h1m15 0h1m15 0h1m14-1h1m13 0h1m12-1h1m11-1h1m11-2h1m9-3h1m9-2h1m7-4h1m6-3h1m5-4h1m14 37h1m-1-7h1m0 3h1m-433 37h1m-1 2h1m3 4h1m5-36h1m2 3h1m4 4h1m6 3h1m8 5h1m9 4h1m10 3h1m11 4h1m12 2h1m12 2h1m13 1h1m14 1h1m14 0h1m15-1h1m16-1h1m17-1h1m17-1h1m17-1h1m18 0h1m17 0h1m17 0h1m16 0h1m15 0h1m14 0h1m13 0h1m12 0h1m11-2h1m11-1h1m10-3h1m9-3h1m8-4h1m7-4h1m5-4h1m5-5h1m6 34h1m3-5h1m1-8h1m-1 4h1m-473 45h1m-1 2h1m4 4h1m12-23h1m0 2h1m2 4h1m6 4h1m9 5h1m1-29h1m7 4h1m0 31h1m7-26h1m11 4h1m11 5h1m12 3h1m12 3h1m13 2h1m13 1h1m14 1h1m14-1h1m15-1h1m17-1h1m17-1h1m17-2h1m18-1h1m19 0h1m18-1h1m17 1h1m16 0h1m16 1h1m14 0h1m13 1h1m12-1h1m11-1h1m11-1h1m10-3h1m9-4h1m9-4h1m5 27h1m2-31h1m7 26h1m-1-31h1m8 25h1m7-6h1m4-5h1m2-9h1m-1 4h1m6 28h1m6-6h1m3-9h1m-1 4h1m20 4h1m4 7h1m-1-4h1m29 4h1m-837 40h1m9-4h1m83-5h1m4-3h1m7 11h1m55-14h1m2-4h1m6 10h1m18 8h1m21-21h1m0-3h1m5 8h1m2-9h1m10 16h1m15-21h1m-1-3h1m2 32h1m1-25h1m10 6h1m13 7h1m8-21h1m7 28h1m2-22h1m13 6h1m1 23h1m12-17h1m9-20h1m4 26h1m7-21h1m7 25h1m5-21h1m8 24h1m4-21h1m9 24h1m4-22h1m9 23h1m3-22h1m10 22h1m3-22h1m10 21h1m3-21h1m12 20h1m3-22h1m13 19h1m2-20h1m15 18h1m2-20h1m17 18h1m0-20h1m20-1h1m-1 19h1m19-20h1m1 19h1m17-19h1m3 19h1m14-19h1m4 20h1m12-19h1m5 20h1m10-19h1m5 21h1m8-20h1m5 21h1m7-20h1m5 21h1m6-21h1m4 21h1m6-22h1m4 21h1m6-23h1m4 22h1m5-25h1m6 22h1m3-25h1m7 21h1m9 17h1m1-22h1m12 16h1m-1-22h1m10-7h1m2 23h1m14-8h1m12-8h1m9-7h1m0 27h1m17-9h1m13-9h1m8-7h1m0-6h1m13 31h1m20-10h1m6-19h1m5 9h1m2-6h1m42 23h1m13-23h1m6 11h1m4-8h1m51 29h1m22-28h1m9 14h1m8-10h1m91 5h1m10 16h1m15-12h1m95 14h1m-1528 42h1m25-8h1m109-18h1m15-6h1m10 17h1m61 14h1m48-31h1m40 13h1m52 13h1m21-26h1m35 12h1m38 11h1m7-23h1m28 10h1m0 22h1m27-14h1m-1-21h1m22 8h1m2 21h1m17-14h1m5 20h1m8-35h1m4 20h1m11-15h1m6 19h1m9-16h1m6 19h1m7-16h1m7 17h1m7-16h1m7 16h1m6-16h1m8 15h1m6-16h1m9 14h1m6-16h1m12 13h1m5-15h1m8 26h1m6-14h1m3-15h1m16 26h1m2-15h1m1-14h1m23-2h1m0 14h1m0 14h1m22-29h1m2 14h1m5 13h1m13-27h1m6 14h1m9 13h1m5-26h1m8 14h1m9-12h1m1 26h1m8-12h1m6-12h1m6 26h1m3-12h1m3-13h1m9 28h1m0-13h1m1-13h1m10 15h1m-1 13h1m1-28h1m9 15h1m0 14h1m0-30h1m9 16h1m-1 15h1m1-33h1m9 32h1m0-16h1m1-19h1m10 33h1m0-17h1m13 14h1m0-19h1m16 13h1m0-19h1m17-8h1m1 21h1m22-9h1m0 22h1m23-32h1m5 23h1m33-11h1m1 25h1m32-38h1m11 26h1m48-15h1m71 16h1m68-17h1m99 23h1m76-19h1m25-14h1m118 35h1m-1806 42h1m158-28h1m86 14h1m102 13h1m69-26h1m72 12h1m48-19h1m12 29h1m34-19h1m40 8h1m24-16h1m8 22h1m18-16h1m7 20h1m15-16h1m6 19h1m6-33h1m5 17h1m5 18h1m6-33h1m4 17h1m3 17h1m6-32h1m4 15h1m4 16h1m5-31h1m5 14h1m4 16h1m5-31h1m6 13h1m8 17h1m0-32h1m10 13h1m9-16h1m5 32h1m9-20h1m24 17h1m5-20h1m35-3h1m0 20h1m36-22h1m9 21h1m25-21h1m16 20h1m13-19h1m21 20h1m2-17h1m17 2h1m3 17h1m8-15h1m7 16h1m3-15h1m7 16h1m1-15h1m6 16h1m4-17h1m4 16h1m8-19h1m1 18h1m14-3h1m-1-18h1m17 14h1m2-20h1m15 37h1m5-22h1m21 16h1m8-24h1m28 17h1m47-9h1m35 21h1m22-33h1m50 22h1m90-15h1m178 17h1m101-17h1m-1718 40h1m113 11h1m127 9h1m113 6h1m35-29h1m77 7h1m59 6h1m22-21h1m22 25h1m16-20h1m16 23h1m13-19h1m12 22h1m10-19h1m8 22h1m10-20h1m5 22h1m10-20h1m15 1h1m16 1h1m21 0h1m28 0h1m40-1h1m50-1h1m56-1h1m52-2h1m39-1h1m24 0h1m14-1h1m8-1h1m6-1h1m6 29h1m-1-31h1m4 27h1m3-4h1m1-25h1m3 22h1m9-4h1m0-21h1m14 18h1m21-4h1m11 20h1m19-25h1m13 21h1m28-27h1m18 22h1m65-6h1m86-8h1m109-11h1m22 37h1m131-9h1m111-11h1m40-14h1m-1904 44h1m57 11h1m124 6h1m138 3h1m120 0h1m94-1h1m8-27h1m60 27h1m6-24h1m44 24h1m4-22h1m32 23h1m3-21h1m23 23h1m2-20h1m18 24h1m1-21h1m16 4h1m14 5h1m7-24h1m7 31h1m8-27h1m10 36h1m9-33h1m30 5h1m44 4h1m59 3h1m69 0h1m61-3h1m42-6h1m24-5h1m28 26h1m1-9h1m0-7h1m4 24h1m-1-30h1m3 22h1m4-26h1m3 20h1m11-24h1m-1 39h1m2-19h1m20 16h1m3-20h1m29 18h1m4-21h1m42 20h1m6-22h1m58 23h1m9-26h1m76 26h1m14-30h1m94 30h1m120-1h1m101-6h1m35-10h1m-1806 41h1m51 8h1m113 1h1m127-4h1m113-5h1m89-5h1m23 21h1m43-24h1m15 19h1m33-21h1m11 18h1m24-18h1m8 17h1m17-15h1m8 17h1m11-13h1m7 17h1m5-31h1m2 20h1m7 18h1m3-31h1m2 22h1m11-11h1m20 14h1m33-22h1m48 11h1m67 10h1m79 2h1m69-6h1m46-12h1m21-13h1m13 21h1m0-15h1m-1 13h1m0-11h1m-1 21h1m8-28h1m5 13h1m5 12h1m15-15h1m11 15h1m19-15h1m17 17h1m24-16h1m22 20h1m35-18h1m22 23h1m50-19h1m90 3h1m94 3h1m76-1h1m25-8h1m-1568 36h1m39 6h1m86-2h1m35 20h1m61-3h1m4-24h1m69 17h1m24-26h1m42 36h1m4-19h1m48 12h1m12-19h1m29 27h1m4-16h1m15-17h1m16 27h1m7-15h1m14-16h1m9 26h1m8-14h1m11-13h1m-1 36h1m6-12h1m7-12h1m8 22h1m-1-33h1m6 22h1m6-10h1m5-8h1m0 28h1m5-9h1m5-7h1m3-5h1m2 22h1m0-26h1m3 19h1m3-25h1m-1 21h1m3-1h1m2 15h1m1-15h1m2 11h1m4 0h1m2-13h1m0 16h1m26-27h1m48 20h1m276-7h1m12 12h1m1 2h1m5-25h1m-1-10h1m9 0h1m1 37h1m0-25h1m0 12h1m20-24h1m1 27h1m0-13h1m23 16h1m3-28h1m1 15h1m18 16h1m14-12h1m1-15h1m3 30h1m12-1h1m15-9h1m11-15h1m17 18h1m20 0h1m9-13h1m46 4h1m24-17h1m7 18h1m60-14h1m50 0h1m-1142 38h1m40-3h1m46 7h1m27-2h1m35-4h1m1 9h1m18-1h1m25-3h1m2 8h1m13 1h1m11-13h1m6 10h1m1 10h1m10 0h1m8-25h1m-1 12h1m0 21h1m3-9h1m0 12h1m7 1h1m7-15h1m0-13h1m1 27h1m13-1h1m1-15h1m2-14h1m9 27h1m4-16h1m4-13h1m4 28h1m6-16h1m6-13h1m1 28h1m7-15h1m6-12h1m-1 27h1m7-14h1m6 16h1m0-26h1m5-5h1m1 17h1m4-19h1m0 35h1m1-23h1m6 11h1m2-10h1m2 25h1m2-20h1m1-16h1m4 27h1m4-6h1m10 10h1m0 2h1m26-9h1m68-21h1m83 6h1m73-9h1m37 18h1m7 4h1m10 1h1m2-16h1m6 16h1m6 0h1m0-14h1m2 13h1m9-12h1m9 1h1m0-13h1m4 12h1m12-9h1m13 1h1m8-1h1m-547 46h1m2 3h1m6 1h1m1 16h1m-1 4h1m3 2h1m3-22h1m1 23h1m7 1h1m0-24h1m7 24h1m4-25h1m6 25h1m5-26h1m5 26h1m7-26h1m4 26h1m8-26h1m3 27h1m10-25h1m13 2h1m14 3h1m10-15h1m3 18h1m12-13h1m3 18h1m13-13h1m2 17h1m6-23h1m6 7h1m1 4h1m2 16h1m17-12h1m0 15h1m20 2h1m5-9h1m1-3h1m1-20h1m29 31h1m22-2h1m14-2h1m11-20h1m41 24h1m7-14h1m3 11h1m11-3h1m3-29h1m6 28h1m9-2h1m4-26h1m0-1h1m3 27h1m5-26h1m2 25h1m7-25h1m-1 25h1m5 0h1m2-25h1m0 24h1m1-2h1m4-22h1m4 0h1m2-2h1m-446 61h1m0 3h1m2 2h1m4 2h1m6 1h1m8 1h1m9 0h1m10 0h1m11 1h1m12 1h1m10-34h1m1 35h1m11-33h1m1 35h1m12-32h1m1 34h1m12-31h1m15 3h1m17 4h1m17 3h1m17 2h1m18 1h1m19 1h1m0-22h1m17 21h1m17-3h1m16-3h1m16-4h1m14-4h1m10 30h1m2-34h1m9 31h1m11-3h1m11-2h1m10-2h1m9-2h1m8-1h1m7-1h1m5 0h1m5-1h1m2-2h1m0-2h1m-416 49h1m0 3h1m2 2h1m3 2h1m6 2h1m6 1h1m9 1h1m9 1h1m10 1h1m66-38h1m15 3h1m16 2h1m17 3h1m17 2h1m17 1h1m18 0h1m17-1h1m17-2h1m16-3h1m15-3h1m14-3h1m35 37h1m11-2h1m9-2h1m9-2h1m7-1h1m6-2h1m5-1h1m4-1h1m1-2h1m0-2h1m-342 18h1m12 1h1m12 2h1m14 2h1m14 2h1m15 2h1m16 2h1m16 2h1m16 1h1m17 1h1m17 0h1m16-1h1m17-1h1m15-3h1m15-2h1m14-3h1m13-3h1m12-2h1m-325 45h1m0 3h1m2 2h1m3 3h1m5 1h1m6 2h1m7 1h1m9 1h1m9 2h1m11 1h1m11 2h1m13 1h1m13 2h1m14 1h1m14 2h1m15 1h1m15 2h1m16 0h1m16 1h1m16 0h1m15-1h1m16-1h1m15-2h1m14-2h1m13-2h1m13-2h1m12-2h1m11-3h1m10-2h1m9-2h1m8-1h1m6-2h1m6-2h1m4-1h1m3-2h1m1-2h1m0-2h1m-20 76h1m-350 3h1m0 3h1m1 2h1m3 2h1m4 2h1m5 1h1m6 2h1m8 2h1m8 1h1m10 1h1m10 2h1m11 1h1m12 1h1m13 2h1m13 1h1m13 1h1m14 0h1m14 1h1m15 0h1m14 0h1m14-1h1m14-1h1m13-1h1m13-1h1m12-2h1m12-1h1m10-2h1m10-2h1m9-2h1m8-2h1m7-2h1m6-1h1m5-2h1m4-2h1m2-2h1m1-2h1m-314 87h1m-1 2h1m1 2h1m2 2h1m3 1h1m4 2h1m5 1h1m5 2h1m7 1h1m7 1h1m8 1h1m9 1h1m9 1h1m10 1h1m10 1h1m11 0h1m11 1h1m11 0h1m11 0h1m11 0h1m11 0h1m11-1h1m10-1h1m10-1h1m10-1h1m9-1h1m9-1h1m7-2h1m7-1h1m7-2h1m5-1h1m4-2h1m4-1h1m2-2h1m2-2h1m0-2h1m-1-1h1m-219 77h1m-1-1h1m0 2h1m0 1h1m0 1h1m1 1h1m2 1h1m3 1h1m2 1h1m4 1h1m3 1h1m5 0h1m4 1h1m5 0h1m5 1h1m6 0h1m5 0h1m6 1h1m6 0h1m5 19h1m0-19h1m6 0h1m6-1h1m5 0h1m6 0h1m5-1h1m5 0h1m5-1h1m5-1h1m4 0h1m3-1h1m3-1h1m3-1h1m2-1h1m2-1h1m1-1h1m0-1h1m0-3h1m-1 2h1m-1-1h1" fill="none" stroke="#000" stroke-opacity="0.4" stroke-width="0.9" vector-effect="non-scaling-stroke" stroke-linecap="round"/>
<path d="M424.9 99.9 424.1 102.9 424.4 112.6 425.1 114.4 425.9 115.1 428.9 116.6 433.1 117.4 444.9 117.4 451.1 116.6 455.1 115.4 456.9 113.9 457.9 111.6 458.4 107.4 457.9 101.1 456.6 98.4 453.4 96.6 450.1 96.1 439.6 96.1 439.4 96.4 430.9 96.6 426.9 97.6Z" fill="#ffffff" stroke="#ffffff" stroke-width="0.5" fill-rule="evenodd"/>
<path d="M470.4 94.1 467.1 91.1 464.4 90.6 451.9 90.6 451.6 90.9 443.1 90.9 442.9 91.1 424.9 91.1 424.6 91.4 419.6 91.6 417.6 92.1 415.1 93.4 414.6 93.9 414.6 94.6 413.6 96.9 413.6 99.9 413.4 100.1 413.4 117.1 413.6 117.4 413.6 120.1 414.4 121.6 414.4 122.9 417.4 125.6 419.1 126.1 425.9 127.1 435.9 127.4 436.1 127.6 448.9 127.4 449.1 127.1 455.6 126.9 463.9 125.6 467.4 124.4 469.9 122.6 471.1 120.4 472.1 114.6 472.1 110.6 472.4 110.4 472.1 102.6 471.4 97.4 470.4 95.4ZM424.6 99.9 426.9 97.4 430.9 96.4 439.4 96.1 439.6 95.9 450.1 95.9 453.4 96.4 456.6 98.1 458.1 101.1 458.6 105.4 458.1 111.6 457.1 113.9 455.1 115.6 451.1 116.9 444.9 117.6 433.1 117.6 428.9 116.9 425.9 115.4 424.9 114.4 424.1 112.6 423.9 102.9ZM375.9 80.4 373.6 85.4 372.9 88.9 372.6 93.1 383.1 86.6 383.1 85.9 382.1 84.6ZM458.1 58.4 461.6 59.4 463.6 60.4 463.1 59.6 461.9 58.9ZM403.1 59.9 405.4 62.4 408.4 67.6 410.1 69.4 419.9 63.1 426.1 60.4 430.1 59.1 440.4 57.1 443.4 57.1 443.6 56.9 451.6 57.1 441.4 55.6 427.1 55.4 416.1 56.6 410.1 57.9Z" fill="#f0cad7" stroke="#f0cad7" stroke-width="0.5" fill-rule="evenodd"/>
<path d="M361.4 81.4 360.1 86.6 359.9 90.6 360.4 94.9 361.1 97.9 362.4 100.9 363.4 100.4 368.6 95.6 372.4 93.4 372.6 88.9 373.4 85.4 374.6 82.1 375.9 80.1 382.9 85.1 383.4 85.9 383.4 86.6 382.6 87.1 383.6 86.9 384.6 85.9 391.4 86.1 394.4 87.4 396.1 87.6 398.1 89.6 400.1 92.6 401.4 97.9 402.1 104.9 402.1 108.9 402.4 109.1 402.4 116.1 402.1 116.4 401.9 123.1 401.4 124.6 401.4 126.4 400.4 129.1 399.6 130.4 397.6 131.4 397.4 132.1 381.1 132.4 380.9 132.6 379.1 132.4 383.9 134.4 393.9 140.4 395.6 142.6 400.1 140.4 403.1 139.4 405.1 140.4 405.4 139.6 406.4 138.6 407.4 138.4 407.9 137.6 410.4 137.6 410.6 137.4 448.1 137.6 448.4 137.4 464.1 136.9 471.4 136.1 473.6 136.4 476.6 136.1 477.6 136.6 478.6 137.9 478.4 140.4 479.1 140.9 480.6 140.9 483.4 139.6 487.9 136.9 498.6 129.6 488.9 129.9 487.4 128.6 486.4 126.9 486.6 110.9 486.4 110.6 486.1 94.1 486.4 93.9 486.6 88.9 487.9 87.1 487.9 85.9 491.9 83.9 496.6 83.4 495.9 79.6 501.9 74.1 500.9 74.4 500.1 75.1 498.1 74.9 497.4 75.4 491.9 73.1 485.6 68.9 483.9 67.1 483.1 65.6 481.6 63.9 477.6 55.1 476.1 52.9 474.6 51.6 473.1 51.9 469.4 53.9 465.6 55.1 463.6 53.6 462.4 51.6 457.9 49.6 448.9 47.4 444.1 46.6 439.1 46.4 438.9 46.1 434.4 46.1 434.1 45.9 427.4 45.9 427.1 46.1 422.9 46.1 415.9 46.9 407.6 48.4 398.9 50.9 393.6 53.1 391.9 54.6 391.1 54.1 392.9 56.1 394.9 60.6 395.6 66.1 394.4 70.1 389.6 74.4 385.1 76.9 383.9 77.1 382.6 78.1 381.1 77.9 378.6 78.4 377.4 77.9 375.6 77.9 371.1 76.4 368.6 75.1 365.9 73.1 363.6 76.4ZM470.6 94.1 470.6 95.4 471.6 97.4 472.4 102.6 472.6 110.4 472.4 110.6 472.1 117.1 471.4 120.4 470.1 122.6 467.4 124.6 463.9 125.9 455.6 127.1 449.1 127.4 448.9 127.6 436.1 127.9 435.9 127.6 425.9 127.4 419.1 126.4 417.4 125.9 414.1 122.9 414.1 121.6 413.4 120.1 413.4 117.4 413.1 117.1 413.1 100.1 413.4 99.9 413.4 96.9 413.9 96.1 414.4 93.9 415.1 93.1 417.6 91.9 419.6 91.4 424.6 91.1 424.9 90.9 442.9 90.9 443.1 90.6 451.6 90.6 451.9 90.4 464.4 90.4 467.1 90.9ZM402.9 59.9 403.4 59.4 416.1 56.4 427.1 55.1 441.4 55.4 451.6 56.9 457.4 58.1 461.1 58.4 463.1 59.4 464.1 60.6 471.1 63.6 474.1 66.1 478.4 73.9 478.6 78.1 477.9 79.1 477.9 80.4 477.4 80.9 476.4 80.9 474.4 82.4 473.1 82.4 470.1 83.4 466.6 83.6 465.1 84.1 457.6 84.9 449.6 85.1 449.4 85.4 430.4 85.4 430.1 85.1 421.6 84.9 418.1 84.1 414.4 83.9 411.1 82.6 409.1 82.4 407.1 80.9 405.4 78.1 404.9 76.1 406.1 72.4 409.9 69.4 408.1 67.6 405.1 62.4Z" fill="#d98fa8" stroke="#d98fa8" stroke-width="0.5" fill-rule="evenodd"/>
<path d="M478.4 137.9 477.6 136.9 476.6 136.4 475.6 136.6 471.4 136.4 464.1 137.1 448.4 137.6 448.1 137.9 410.6 137.6 410.4 137.9 407.9 137.9 407.4 138.6 406.4 138.9 405.1 140.6 409.9 149.4 411.6 151.9 411.9 150.4 412.4 149.9 417.6 148.9 424.4 148.6 424.6 148.4 453.1 147.9 453.4 147.6 471.1 147.6 476.1 148.6 477.6 145.1ZM355.4 130.9 355.1 132.1 355.9 133.6 359.4 136.6 363.6 139.1 372.6 143.6 378.4 147.1 380.6 149.1 382.4 148.6 395.4 142.6 394.6 141.4 393.1 140.1 381.4 133.4 380.1 133.1 378.9 132.4 371.6 131.6 364.4 129.1 360.6 125.9ZM384.6 86.1 383.6 87.1 380.9 88.1 373.4 92.9 379.9 91.6 385.4 94.9 387.4 98.1 387.6 99.6 389.4 104.1 390.4 109.4 390.4 112.4 390.6 112.6 390.6 117.4 389.6 123.9 388.6 126.9 386.9 130.1 385.6 131.4 381.4 132.1 397.4 131.9 397.6 131.1 399.4 130.4 400.4 128.6 401.1 126.4 401.9 120.4 402.1 109.1 401.9 108.9 401.9 104.9 401.1 97.9 400.4 95.1 400.4 93.9 397.9 89.6 396.1 87.9 394.4 87.6 390.4 86.1ZM405.1 76.1 405.6 78.1 407.4 80.9 409.6 82.4 411.1 82.4 414.4 83.6 418.1 83.9 419.6 84.4 425.1 84.6 425.4 84.9 430.1 84.9 430.4 85.1 449.4 85.1 449.6 84.9 454.4 84.9 454.6 84.6 465.1 83.9 466.6 83.4 470.1 83.1 473.1 82.1 474.4 82.1 476.4 80.6 477.4 80.6 477.6 79.1 478.4 78.1 478.1 73.9 475.6 69.1 476.4 71.9 475.9 72.6 472.9 74.9 469.4 76.4 465.6 77.1 464.6 77.6 455.9 78.9 448.9 79.1 448.6 79.4 436.6 79.4 436.4 79.1 432.1 79.1 429.9 78.6 425.6 78.4 423.6 77.6 418.9 76.9 411.9 73.4 412.1 68.4 409.9 69.6 406.4 72.4ZM488.4 45.1 474.4 51.4 476.4 52.9 477.9 55.1 481.9 63.9 483.4 65.6 484.1 67.1 485.6 68.6 490.1 71.9 495.1 74.4 497.4 75.1 498.1 74.6 500.1 74.9 500.9 74.1 501.9 74.4 496.1 79.6 496.9 82.6 496.6 83.6 491.9 84.1 488.1 85.9 488.1 87.1 486.9 88.9 486.6 93.9 486.4 94.1 486.6 110.6 486.9 110.9 486.6 126.9 487.6 128.6 488.9 129.6 496.4 129.6 496.6 129.4 498.9 129.6 490.6 135.4 483.4 139.9 481.4 140.9 479.6 141.1 489.6 145.6 492.9 146.6 495.1 146.6 499.9 144.4 505.9 140.6 510.4 137.1 512.1 135.4 513.6 133.1 513.9 131.4 513.4 129.9 512.4 128.9 507.6 129.6 504.4 128.9 503.4 128.1 502.6 126.4 501.6 121.9 501.4 116.6 501.1 116.4 501.4 104.1 502.1 97.9 503.4 92.9 505.4 90.6 507.9 88.6 512.6 89.6 504.9 86.4 505.1 82.1 504.6 78.6 502.6 73.4 509.9 67.4 513.6 63.6 512.4 64.6 510.9 64.9 506.4 64.4 500.1 60.6 494.6 54.6 493.4 52.1ZM462.9 51.9 456.9 41.6 449.6 38.9 441.6 37.6 433.6 37.1 433.4 36.9 423.6 36.9 412.4 38.1 402.4 40.1 395.1 42.9 393.9 43.9 392.6 46.1 391.4 49.4 391.1 52.6 390.6 54.1 383.4 50.4 378.4 48.6 379.4 49.6 380.1 51.4 380.9 55.9 380.9 57.9 378.9 62.4 376.9 64.4 372.4 67.4 369.1 68.1 366.6 68.1 366.4 68.4 362.1 68.1 359.4 67.4 357.6 66.4 358.1 67.1 356.1 68.4 353.4 71.4 350.1 77.1 348.4 82.1 347.9 85.9 347.9 89.1 348.4 92.9 350.6 98.4 353.6 102.6 355.6 104.4 358.6 105.9 362.4 101.1 361.1 98.6 360.1 94.9 359.6 90.6 359.9 86.6 361.6 80.1 363.4 76.4 365.1 73.6 366.1 72.9 368.6 74.9 371.1 76.1 375.6 77.6 377.4 77.6 378.6 78.1 381.1 77.6 382.6 77.9 383.9 76.9 385.1 76.6 389.6 74.1 394.1 70.1 395.4 66.1 394.6 60.6 392.6 56.1 391.1 54.4 391.4 54.1 391.9 54.4 393.6 52.9 398.9 50.6 408.6 47.9 415.9 46.6 422.9 45.9 427.1 45.9 427.4 45.6 434.1 45.6 434.4 45.9 438.9 45.9 439.1 46.1 444.1 46.4 448.9 47.1 457.9 49.4Z" fill="#c86184" stroke="#c86184" stroke-width="0.5" fill-rule="evenodd"/>
<path d="M476.1 148.9 471.1 147.9 453.4 147.9 453.1 148.1 424.6 148.6 424.4 148.9 417.6 149.1 412.4 150.1 411.9 151.1 411.9 152.1 413.9 155.4 418.4 160.4 420.9 162.4 424.4 160.6 428.1 159.6 436.4 159.4 436.6 159.1 444.1 159.1 444.4 158.9 465.6 158.9 467.9 159.6 469.6 161.4 471.4 159.1ZM346.9 141.1 347.4 142.9 351.6 146.6 365.6 154.9 371.4 153.1 380.6 149.4 378.4 147.4 372.6 143.9 363.6 139.4 359.4 136.9 355.6 133.6 354.9 132.1 355.1 131.4ZM522.1 140.4 521.6 138.9 513.6 130.1 514.1 131.4 513.9 133.1 512.4 135.4 510.4 137.4 505.9 140.9 499.9 144.6 495.1 146.9 493.4 146.9 507.4 151.6 512.9 149.9 518.4 146.1 521.6 142.9ZM374.9 92.6 371.6 93.9 368.6 95.9 363.1 100.6 360.1 104.1 362.9 101.9 367.1 100.1 368.6 99.9 373.1 103.6 375.6 106.9 376.4 109.9 376.9 114.9 376.6 122.1 375.9 125.6 373.4 128.4 368.6 130.4 371.6 131.4 379.6 132.4 385.6 131.1 387.6 128.4 389.4 123.9 390.1 120.1 390.4 112.6 390.1 112.4 390.1 109.4 389.1 104.1 388.1 101.9 387.1 98.1 385.6 95.4 379.9 91.9ZM507.9 88.9 505.4 90.9 503.6 92.9 503.1 94.1 501.9 101.6 501.6 107.6 501.4 107.9 501.4 116.4 501.6 116.6 501.9 121.9 503.1 127.1 503.6 128.1 504.4 128.6 508.1 129.4 516.4 128.1 518.4 128.1 522.6 126.6 520.1 125.4 517.9 122.9 517.4 119.1 517.4 107.9 517.9 103.6 519.4 100.6 522.9 96.1 527.4 98.1 528.9 99.6 527.1 97.9 518.9 92.6 513.6 90.1ZM507.6 69.4 503.4 72.9 502.9 73.9 504.9 78.6 505.4 82.1 505.1 86.4 509.9 88.1 510.6 86.6 511.4 81.6 511.4 79.4 510.6 74.4 509.1 70.9ZM412.1 73.4 418.9 76.6 423.6 77.4 425.6 78.1 429.9 78.4 432.1 78.9 436.4 78.9 436.6 79.1 448.6 79.1 448.9 78.9 453.1 78.9 460.1 78.1 469.4 76.1 473.4 74.4 475.9 72.4 476.1 71.6 475.4 68.9 473.9 66.1 471.1 63.9 469.6 63.4 469.1 65.6 466.9 68.6 464.6 69.9 461.4 70.6 449.1 71.9 439.4 71.9 428.4 70.6 425.1 68.9 421.1 64.4 425.1 61.9 428.9 60.4 430.6 59.4 430.1 59.4 421.9 62.4 412.4 68.1ZM362.6 43.1 364.4 44.6 365.6 47.4 365.6 48.9 362.4 55.1 358.1 57.1 354.1 58.4 352.1 58.4 349.9 57.6 347.6 55.9 356.6 65.4 356.1 65.9 350.6 66.4 346.4 67.6 341.6 71.6 339.4 74.6 337.9 79.1 337.4 83.1 337.9 89.9 339.4 93.9 341.6 96.4 350.1 101.9 355.4 104.4 353.4 102.6 350.4 98.4 348.1 92.9 347.6 89.1 348.1 82.1 350.4 76.1 353.1 71.4 356.1 68.1 357.9 67.1 357.6 66.6 357.9 66.4 361.1 67.6 364.1 68.1 369.1 67.9 372.4 67.1 376.9 64.1 378.6 62.4 380.6 57.9 380.6 55.9 379.9 51.4 379.1 49.6 378.1 48.6ZM488.6 45.1 493.6 52.1 494.9 54.6 500.1 60.4 506.4 64.1 509.4 64.6 512.9 64.1 521.4 54.4 520.9 54.6 517.9 53.6 513.6 51.6 506.9 44.9 503.4 39.6 498.1 41.1ZM393.4 44.4 394.6 42.9 402.4 39.9 415.6 37.4 423.4 36.9 423.6 36.6 433.4 36.6 446.9 38.1 449.6 38.6 456.6 41.4 455.4 39.4 451.1 34.6 447.9 31.9 437.4 28.9 420.4 28.6 410.6 29.6 399.6 32.9 397.9 34.9Z" fill="#b6335c" stroke="#b6335c" stroke-width="0.5" fill-rule="evenodd"/>
<path d="M421.4 162.6 425.1 165.6 431.9 169.1 439.4 171.4 447.9 172.1 453.4 171.1 455.1 171.1 461.9 168.4 466.6 164.9 469.4 161.6 467.9 159.9 465.6 159.1 444.4 159.1 444.1 159.4 436.6 159.4 436.4 159.6 428.1 159.9 424.4 160.9 422.6 161.6ZM344.4 144.1 344.4 155.4 346.6 156.4 347.6 156.4 347.9 156.1 361.4 155.6 365.4 154.9 354.9 148.9 349.6 145.4 347.1 142.9 346.6 141.6 346.9 140.9ZM524.6 142.1 521.9 139.1 522.4 141.4 521.9 142.9 519.9 145.1 513.9 149.6 510.1 151.1 507.6 151.6 509.4 152.1 524.6 152.1 524.9 151.1 524.6 150.9ZM367.9 100.1 362.9 102.1 359.4 105.1 357.1 108.4 355.4 115.4 356.9 120.4 359.1 124.4 364.4 128.9 367.9 130.1 368.9 130.1 373.4 128.1 375.4 126.1 376.4 122.1 376.6 114.9 376.1 109.9 375.4 106.9 373.1 103.9 368.6 100.1ZM522.9 96.4 519.6 100.6 518.1 103.6 517.6 107.9 517.6 119.1 518.1 122.9 520.1 125.1 523.4 126.6 528.6 124.9 534.9 120.6 535.6 119.6 537.9 113.9 535.4 106.9 533.4 104.4 527.4 98.4ZM508.1 68.9 507.9 69.4 509.4 70.9 510.9 74.4 511.6 79.4 511.1 85.1 510.1 88.4 511.9 86.1 513.6 79.9 513.6 78.9 511.9 73.4 509.9 70.1ZM345.9 67.9 340.6 69.4 334.1 73.9 333.4 74.9 331.4 79.9 331.4 81.1 333.9 87.9 339.1 93.6 337.9 90.9 337.1 86.1 337.1 83.1 337.9 78.1 339.1 74.6 341.1 71.9ZM421.4 64.4 425.1 68.6 428.4 70.4 439.4 71.6 449.1 71.6 449.4 71.4 456.1 71.1 464.6 69.6 466.9 68.4 469.1 65.1 469.4 63.1 457.1 58.1 449.6 57.1 443.6 57.1 443.4 57.4 438.1 57.6 431.9 58.9 427.9 61.1 425.1 62.1ZM344.4 42.4 344.4 52.1 347.4 55.6 348.9 56.9 352.1 58.1 355.4 57.9 362.4 54.9 365.4 48.9 365.4 47.4 364.1 44.6 361.4 42.6 359.9 42.4ZM524.6 50.4 524.6 39.4 524.9 39.1 522.6 38.1 520.6 38.1 520.4 38.4 507.4 38.9 503.6 39.6 507.1 44.9 513.6 51.4 520.9 54.4 522.4 53.4ZM399.9 32.6 410.6 29.4 420.4 28.4 437.4 28.6 441.1 29.9 443.4 30.1 447.4 31.6 444.4 29.1 437.1 25.4 429.9 23.1 420.9 22.4 413.9 23.4 407.6 25.9 402.6 29.4Z" fill="#a1063a" stroke="#a1063a" stroke-width="0.5" fill-rule="evenodd"/>
<path transform="scale(0.1)" d="M4316 589l-48 7-40 23M4149 663l-54-20 34 33M4720 561l-9-4-15 1-89 33M4455 570l-39-35-29-18-30-14-33-9-33-3-32 4-29 11-26 15-40 41-37 57-13 8-17 0-41-15M4048 608l-37-18M4004 586l-34-12 9 13 62 49 70 48M4683 622l31-38 7-14-1-9M4896 471l-14-5-26 3-37 12-179 80-38 14-30 3-24-11-70-88-33-34-39-31-44-25-48-15-48-5-47 7-42 17-35 27-28 32-21 35-36 91-16 12-24-1-17-6M3989 579l-5-2M3873 522l-18-8M3844 509l-50-18 0 5 40 36 173 115 91 47M4726 644l59-45 72-63 25-29 14-22 0-14M5102 394l-21-7-40 6-56 17-78 30M4692 537l-18 7M4659 549l-33 4-28-16-79-125-41-48-51-44-59-36-65-23-67-7-64 10-56 26-45 38-34 46-22 50-29 127-17 17-5-1M3620 428l-30-6-2 7 21 20 162 106 138 79 116 58 39 13 23-2M4139 671l11-7M4171 649l27-15M4212 626l51-21 59-18 66-12 66-5 64 2 56 9 45 16M4754 675l168-104 114-87 41-39 23-30 2-21M5249 390l-25-10-8 1M4656 550l-19-14-49-91-36-54-48-53-61-48-71-36-78-24-79-7-76 10-67 28-55 39-39 50-26 55-12 55-7 86M3462 422l-19-1-2 11 25 22 115 70 249 126 146 65 49 15 28-3 85-55 48-21 61-19 71-16 78-12 80-5 76 2 66 8 55 13 40 17 27 23M4744 669l6 10M4769 712l47-16 63-32 152-85 75-46 65-46 48-41 28-33 2-23M3931 449l-3 7M3922 472l-9 23-5 40M3442 510l0 6M3443 521l21 21 41 26 128 62 246 100 131 44 26-3 50-26 41-14 53-13 138-19 157-9 147 2 105 14 32 10 18 13 6 17M4786 755l7 1 123-50 153-73 67-38 55-35 38-32 19-27 0-13M3557 646l17 17 27 18 84 38 121 42 211 64 38-13 35-5 102-6 507-12 71 3 18 5M4807 800l113-41 116-49 42-23 31-22 19-20M3707 766l36 23 54 21 70 19 86 17 203 22 226 8 222-10 190-24 76-17 60-20 43-22 15-13M3833 867l339 51 108 9 142 2 142-8 109-14 236-43 59-14 20-8-5 0M3767 907l32 9 87 12 212 22 190 13 122 1 178-11 288-33 200-34 10-8-8-1M3522 664l-17 0 0 32 83 52 109 51 122 50M3687 958l30 11 108 11 138 7 216 4 223-2 524-24 156-14 103-15 0-13M3407 693l10 35 114 55 138 50 131 41M3618 1018l25 17 127 7 164-3 141-7 258-22 96-3 540 9 190-6 125-13-11-17M4970 823l71-33 79-55-21-34M3337 741l19 35 136 50 264 70M3570 1084l21 24 141 2 183-15 152-21 267-45 60-4 67 1 348 31 190 13 213 6 142-8-14-16M5034 846l104-52M3311 805l23 30 145 41 251 49M3552 1151l20 30 146-3 190-29 156-33 270-67 59-7 68 4 352 53 197 25 222 19 147-3-4-5M5094 871l26-11M3337 877l19 24 136 28 179 24M3570 1209l21 35 141-8 183-39 152-42 267-86 60-7 31 0 83 13 301 63 190 35 213 29 142 1-4-5M3415 962l2 3 114 15 115 9M3643 1289l127-10 164-42 141-47 221-87 37-11 64-5 67 2 46 9 286 75 173 40 190 34 125 4M3505 1019l101 9M3717 1315l108-9 138-40 123-46 208-87 38-8 70-4 71 1 44 6 409 116 156 33 103 4M3799 1324l87-6 110-31 244-97 48-12 122-9 80 0 98 13 288 84 119 26 81 3M3902 1321l45-1 81-18 144-40 57-11 99-9 188-5 99 5 58 8 154 34 92 13M4939 1297l29-1M4033 1322l178 15 228 3 216-13 96-12 89-18M5132 1296l-8-7M3574 1286l-12 13-8 18 4 16 16 13 27 9 37 7 104-1 64-9 130-30M4047 1355l8 12 35 31 47 27 55 21 62 15 67 11 138 6 67-3 64-9 59-14 50-18 41-23 30-28 16-33 2-12M4852 1298l130 27 96 7 31-4 19-8 8-10-4-14M5247 1422l-3-3M3461 1417l-19 26 1 20 21 13 41 4 58-4 70-13 80-19 83-26 158-55 56-12 26 25 21 43 29 46 41 46 53 41 65 34 73 26 78 15 79 3 77-7 70-18 59-29 46-37 32-43 18-47 6-54M4788 1346l5-13 51 9 225 70 122 26 38 2 19-5-1-13M3442 1543l-1 11 25 10 48-3 67-15 164-56 231-94 49-8 24 17M4102 1500l36 54 48 53 61 47 71 37 78 24 80 7 76-11 66-27 55-40 40-49 25-55M4788 1373l28 4 215 84 140 49 48 12 28 0M5248 1518l1-5M3609 1557l40-5 56-17 136-56 131-61 59-22M4786 1393l250 111 41 15 23 4M3886 1458l7-3M3914 1446l8-3M3953 1429l39-19M4785 1406l89 42M4657 598l63-37 176-90 206-77 147-4-1 76M5132 1296l115 126 2 91M4650 594l61-37 171-91 199-79 143-7M4638 594l58-36 160-89 185-76M4639 587l180-106 166-71M4618 594l158-96 95-42M4621 585l108-66M4608 588l92-54M4603 585l37-24 26-11M5015 756l26 34 11 49-3 18M4592 582l63-30M5080 698l40 37 18 59-18 66-16 23M4572 578l54-25 7 0M5090 693l9 8M4540 574l58-37 39-1 3 6M4504 569l23-26 49-39 39-8 9 15M4630 521l3 5M4469 566l36-53 46-53 37-15 3 6M4436 567l42-88 41-67 33-21 2 7M4408 561l37-116 33-81 26-26M4378 573l28-159 21-94 16-30M4353 579l15-295 4-30M4330 574l-27-313-9-31M4309 588l-43-219-30-115-21-31M4288 591l-69-215-47-112-33-31M4268 596l-91-203-61-103-44-29M4249 605l-45-84-62-101-71-92-54-28M4233 615l-51-75-68-88-77-78-59-24-3 9M4210 616l-46-54-71-75-78-63-63-19-21 44M4197 630l-47-46-71-62-77-49-62-13-27 35M4177 636l-109-82-74-37-59-6-23 26M4166 647l-39-28-70-41-71-27-45 1M4155 653l-41-26-73-37-72-22M3560 657l-55 7-98 29-70 48-26 64 26 72M4141 654l-44-27-94-42M3588 680l-83 16-88 32-61 48-22 59 22 66 61 64 88 56 66 31M4138 657l-78-44M3643 726l-55 22-57 35-39 43-13 50 13 53 39 51 68 54M4137 659l-71-41M3717 778l-48 55-20 37-7 39 7 41 13 27M4136 660l-75-43M3795 828l-16 68M4138 663l-60-35M3984 576l-24-11M3914 542l-47-23M4130 660l-141-81-156-76M3600 1264l-19 15M4139 667l-163-93-168-81-195-67M3604 1265l-42 34-101 118M4137 668l-167-94-176-83-204-69-147-1M3442 480l0 30M3600 1281l-46 36-112 126 0 30M4138 671l-167-93-177-82-206-67-147 3 2 91 77 83M3627 1276l-69 57-115 130-2 91M4129 668l-150-81-171-77-199-61-143 5-2 88 110 121 44 35M3685 749l22 17M3640 1289l-66 57-110 130 2 88 143-7M4123 667l-129-66-160-69-185-54-135 8-9 82 96 113 121 97 53 35M3662 1299l-61 56-96 125 9 81 135-9M4122 670l-106-53-145-59-166-43-124 9-18 73 75 102 105 90 31 22M3690 1308l-52 54-75 114 18 70 124-11M4120 674l-79-38-127-48-143-33-111 11-27 64 52 89 108 101M3713 1331l-28 33-52 99 27 58 111-12 72-31M4110 675l-41-19-108-38-120-22-96 13-32 55 29 76 70 89M3760 1332l-18 29-29 83 32 46 96-11 120-54M4109 680l-102-33-98-13-79 16-34 48 10 63 25 67M3814 1330l-8 22-10 66 34 38 79-9 16-7M3974 1418l17-8M4100 685l-50-13-78-5-63 19-30 44-4 53-8 46-35 38M3873 1324l6 66 30 32 63-4 13-6M4098 693l-73-1-49 23-22 43-6 47-40 33-144 70-77 50-69 60-48 66-18 67 18 58M3949 1326l5 37 22 33 49 1M4073 704l-9 1-39 25-15 44 7 51-64 21-74 29-80 41-82 53-74 66-52 73-19 73 19 63 52 45 74 26 82 9 40-1M4013 1333l-3 18 15 37 6 1M4066 719l-13 8-17 44-5 47-31 35-114 75-61 52-55 62-38 68-14 68 14 58 38 43 55 27 61 12 78 1M4034 1354l5 27M4082 709l-7 4-18 46-7 100-22 40-65 88-29 52-19 56-7 54 7 48 19 40 29 29 65 36 22 22 7 95 3 5M4139 671l-12 8M4102 694l-16 51 4 62 12 57 4 46-8 40-23 82-11 84 3 39 8 35 23 57 8 33-4 49-12 69-4 67 16 35M4171 649l-33 23-11 59 10 73 35 114 7 39-6 132 6 125-42 211-10 86 11 43M4212 626l-26 25-6 67 12 83 48 160 5 29 1 132-6 68-48 256-12 106 6 55M4263 605l-16 27-2 76 9 91 40 191 2 90-2 53-40 328-9 125 2 68 3-5M4322 587l-4 29 0 83 16 370-13 403-2 214M4388 575l8 29 0 89-6 103-26 248 32 583-2 83M4454 570l22 29-1 91-16 104-20 81-42 133-4 34 4 45 62 391 16 152 1 92-4-5M4518 572l34 29 0 89-26 102-31 81-66 134-5 36 5 44 66 251 31 137 26 148 0 88-6-5M4574 581l44 28 4 83-32 99-40 79-77 116-9 21-3 59 12 56 77 213 40 131 32 139-4 79M4619 597l9 4M4646 609l27 13 8 76-32 92-45 76-87 119-7 23-2 67 9 53 87 204 45 120 32 124-8 68M4713 639l14 67-28 83-44 73-67 91-12 30-2 27 2 133 12 39 67 145 44 107 28 105-14 56M4738 659l21 57-19 74-67 117-13 39 0 33 12 99-12 91 0 33 13 48 67 161 19 85-21 44M4764 704l13 25-7 63-19 57-7 46 13 40 39 80 13 42 4 42-4 39-13 35-39 59-13 33 7 50 19 68 7 66-4 6M4783 742l3 53 8 47 33 38 99 85 43 51 30 54 11 54-11 49-30 40-43 31-99 40-33 23-8 43-3 52M4819 823l15 11 161 68 87 49 77 59 53 66 20 67-20 59-53 45-77 30-87 15-161 7-37 13M4774 713l19 43-4 26M4856 822l112 28 108 36 109 50 99 61 70 71 25 72-25 63-70 48-99 30-109 14-108 1M4754 675l62 21 28 41 8 47 50 31 184 63 99 45 88 57 61 64M4852 1298l-8 44-28 35-21 1M4739 654l64-6 76 16 37 42 4 53 10 46 37 30M4924 1299l-8 67-37 34-76-1-16-5M4727 636l133-24 94 12 40 46-12 64-28 60-5 24M4973 1303l9 22 12 66-40 39-94-5-77-26M4703 628l82-29 137-28 109 8 38 54-33 77-81 92M5015 1303l21 28 33 81-38 49-109-7-137-48M4683 622l141-55 159-40 123 6 30 62-58 92-105 96M5048 1300l30 32 58 97-30 59-123-7-159-56M4682 611l175-75 179-52 135 3 20 73-82 105-75 63M5090 1311l19 17 82 110-20 72-135-6-179-63M4674 606l208-99 195-62 142 1 10 82-101 117M5107 1302l21 18 101 120-10 82-142-3-195-67M4658 605l63-35 175-85 204-70 147-2 1 88M5113 1292l23 18 112 125-1 88-147 0" fill="none" stroke="#000" stroke-opacity="0.13" stroke-width="0.5" vector-effect="non-scaling-stroke"/>
<path transform="scale(0.1)" d="M4139 233h1m75-10h1m20 31h1m57-24h1m77 24h1m-301 7h1m43 29h1m55-26h1m130-3h1m64 23h1m74 6h1m-427 10h1m53 28h1m355-8h1m76 18h1m-527 12h1m58 24h1m181 2h1m46-7h1m47 5h1m163-10h1m-527 41h1m189 15h1m34-27h1m184-4h1m43 25h1m112-2h1m32-21h1m432 19h1m55-17h1m39-6h1m18 28h1m1-21h1m121-14h1m22 33h1m1-23h1m-1809 42h1m1-11h1m22 33h1m121-25h1m1-7h1m18 27h1m3-23h1m317 23h1m8 11h1m74-36h1m98 28h1m330-7h1m142 0h1m330-10h1m157 10h1m141 1h1m-1706 40h1m134-8h1m144 18h1m-1-5h1m13 2h1m104 2h1m88-22h1m90 14h1m165 8h1m31-4h1m32 3h1m153-15h1m72-19h1m63 36h1m160 2h1m42-17h1m36-12h1m25-3h1m13 19h1m-1-14h1m139 13h1m134 3h1m-1730 23h1m0 13h1m137 1h1m123-9h1m102-5h1m24-7h1m0 29h1m32-13h1m67-8h1m58 6h1m84 5h1m124-1h1m25-15h1m126-3h1m29 14h1m28 18h1m88-22h1m70-9h1m21 33h1m34-11h1m3 10h1m91-17h1m127 17h1m24-29h1m100 20h1m122 6h1m122-5h1m18-27h1m-1785 41h1m40 26h1m154-2h1m110-11h1m99 3h1m97 10h1m0 6h1m0 4h1m4-4h1m7 3h1m1-26h1m2 28h1m67-1h1m10-24h1m95 8h1m17-22h1m205 35h1m51-19h1m13 14h1m63 2h1m8-29h1m20 24h1m23 11h1m29-3h1m23-22h1m13 8h1m8 12h1m25-10h1m7-21h1m12 16h1m14-1h1m8 4h1m0 9h1m102-3h1m97 4h1m108 8h1m159-19h1m-1629 37h1m181 12h1m95-13h1m72-8h1m46 30h1m17-31h1m14 14h1m21 16h1m0-28h1m11 10h1m11-9h1m85 29h1m10-15h1m11-20h1m82 31h1m15-10h1m13 0h1m4-9h1m19-5h1m20-3h1m8 28h1m3-29h1m73 17h1m79-5h1m75 2h1m21-20h1m43 28h1m0-12h1m1-12h1m79 17h1m12-18h1m70 15h1m74 13h1m275-17h1m-1579 53h1m74-18h1m196 20h1m78-16h1m97 13h1m33-11h1m27 20h1m5-35h1m19 22h1m0 3h1m0-19h1m-1 15h1m3 10h1m2-8h1m5 16h1m2-12h1m0-21h1m9 26h1m12 6h1m33-10h1m14 2h1m25-25h1m34 6h1m425-10h1m9 0h1m29 17h1m24 20h1m6-29h1m57 18h1m150-24h1m114 9h1m58 12h1m-1722 48h1m97-29h1m-1 32h1m68-33h1m26 18h1m36 18h1m74-35h1m82 34h1m112-12h1m62-19h1m52 25h1m24-20h1m37 19h1m8-16h1m4 19h1m19-24h1m15 2h1m0-1h1m178 28h1m77-6h1m78-3h1m76 0h1m69 2h1m58 6h1m68-19h1m3-4h1m61 21h1m62-32h1m114 6h1m83 17h1m30-22h1m-1693 63h1m267-9h1m56 21h1m136-10h1m96-15h1m48 15h1m27-3h1m10-22h1m10 8h1m51 18h1m52-13h1m64-10h1m481-2h1m31 10h1m14-3h1m2 16h1m66 8h1m71-31h1m65 28h1m53-24h1m62-9h1m20 34h1m-1784 6h1m18 35h1m231-28h1m118 18h1m14 12h1m83-17h1m147-3h1m55 16h1m25-3h1m20-12h1m28-14h1m696-3h1m9 14h1m126 3h1m66 13h1m-1677 33h1m219-22h1m165 16h1m45-10h1m24 11h1m28 10h1m77-27h1m72 22h1m82 13h1m23-6h1m34-5h1m46-3h1m54-3h1m61-2h1m66-2h1m68-1h1m68-2h1m66-2h1m63-1h1m58-1h1m49-1h1m40 1h1m29 2h1m15 3h1m65-11h1m49 31h1m27-10h1m23-11h1m18-11h1m67 7h1m96 4h1m-1805 41h1m157-9h1m176 7h1m125 6h1m34-19h1m36 9h1m40 9h1m44 8h1m46 7h1m16-28h1m32 34h1m653-3h1m46-7h1m42-7h1m39-8h1m35-9h1m97 25h1m19-8h1m63-3h1m-1716 38h1m141-1h1m169-6h1m136 0h1m45-3h1m8 2h1m37 6h1m67 11h1m80 13h1m73-35h1m53 4h1m54 4h1m56 2h1m56 1h1m56 1h1m56-1h1m55-2h1m54-3h1m53-4h1m50-4h1m88 33h1m82-15h1m81-16h1m166 22h1m9-8h1m33-18h1m-1765 41h1m135 28h1m149-20h1m121-1h1m34 8h1m86 12h1m109 12h1m109-30h1m65 8h1m56 6h1m50 3h1m47 2h1m46 0h1m46 0h1m46-2h1m46-3h1m47-3h1m50-6h1m57-8h1m83 28h1m118-15h1m118-18h1m189 21h1m-1 13h1m-1769 29h1m231-15h1m37 8h1m29 11h1m380-19h1m80 7h1m60 4h1m47 2h1m42 1h1m39 1h1m38-1h1m39-1h1m39-2h1m43-3h1m53-5h1m71-7h1m-1 33h1m116-5h1m148-9h1m155-14h1m190 29h1m-1743 0h1m86 38h1m206-38h1m137 7h1m122 3h1m92 1h1m65-1h1m0 27h1m47-27h1m1 23h1m35-23h1m0 20h1m32-1h1m1-20h1m28 19h1m4-19h1m26 18h1m7-19h1m26 19h1m8-21h1m36 22h1m6-23h1m56 25h1m1-27h1m88 30h1m130 2h1m172 1h1m189-6h1m124-13h1m-1780 24h1m82 7h1m54 7h1m126 7h1m163-3h1m140-7h1m98 25h1m1-33h1m69 20h1m49-9h1m-1 22h1m37-28h1m-1 20h1m29-5h1m0-18h1m27 16h1m0-17h1m29 18h1m0-19h1m35 22h1m-1-20h1m46 26h1m-1-22h1m65 6h1m95 9h1m138 12h1m524-13h1m-1765 40h1m344 11h1m151-21h1m105 15h1m72-19h1m-1 26h1m49-16h1m36 12h1m0-23h1m30-6h1m0 25h1m27-26h1m2 25h1m27-25h1m3 25h1m31-21h1m2 23h1m43-14h1m1 23h1m63-9h1m0-26h1m96 15h1m140 21h1m185-29h1m212 6h1m141-8h1m-1764 40h1m140 2h1m331 6h1m109 5h1m71 1h1m47 11h1m1-30h1m35 22h1m35-3h1m33-1h1m34-1h1m35 2h1m43 6h1m56-13h1m90 24h1m4-30h1m138 29h1m200-14h1m368 16h1m-1828 11h1m165 27h1m189-29h1m158 6h1m108-5h1m2 30h1m65-29h1m42 27h1m42-5h1m39-3h1m38-1h1m39-1h1m39 1h1m43 3h1m41-29h1m83 26h1m135 4h1m202 0h1m232-30h1m-1663 66h1m1-28h1m342 16h1m159-7h1m10 30h1m92-6h1m60-24h1m347-8h1m71 20h1m116 2h1m191 9h1m242-11h1m141 1h1m-1764 41h1m140-8h1m201 1h1m163 10h1m130 4h1m50-6h1m47-3h1m46-2h1m46-1h1m46-1h1m46-1h1m47 1h1m50 4h1m57 8h1m83-18h1m168 12h1m232 3h1m124 4h1m-1723 48h1m18-20h1m61 10h1m126-10h1m192-13h1m32 21h1m109-7h1m65-18h1m571 3h1m82 19h1m6 15h1m17-1h1m23-32h1m32 32h1m58-2h1m26-4h1m80 3h1m5-18h1m49 19h1m52-15h1m-1632 36h1m3 16h1m158-18h1m81 9h1m25-18h1m49 32h1m10-20h1m60 2h1m80-18h1m21 22h1m51 5h1m53 5h1m54 3h1m56 2h1m226-1h1m54-3h1m53-3h1m50-5h1m48-6h1m46-6h1m41 18h1m0-26h1m125 7h1m61 11h1m53 6h1m41 1h1m30-4h1m18-8h1m7-10h1m-1563 36h1m26 9h1m36 7h1m46 2h1m56-3h1m63-9h1m147 11h1m55-12h1m25 25h1m18-9h1m269-26h1m56 0h1m56-1h1m346 10h1m29 27h1m27-35h1m71 24h1m-1456 51h1m334 1h1m82-28h1m92 28h1m3-22h1m48 1h1m-1-9h1m31 31h1m32-21h1m649 13h1m29-28h1m12 19h1m1 4h1m17-7h1m75 1h1m114-9h1m74 21h1m-1628 31h1m270 1h1m116 12h1m78-34h1m-1 25h1m4-1h1m46-21h1m175 0h1m54 21h1m456 6h1m49-18h1m77 15h1m46-24h1m32 16h1m2-16h1m21 27h1m39 2h1m31-24h1m181-1h1m54 9h1m37 2h1m17-18h1m0 13h1m-1806 28h1m20 13h1m40 4h1m57-4h1m69-13h1m111 27h1m95-11h1m244-14h1m15 35h1m151-39h1m66 11h1m68 6h1m68 0h1m66-3h1m63-9h1m168 30h1m223-15h1m47-20h1m74 27h1m-1447 33h1m44 14h1m65-26h1m355 2h1m599 28h1m10 1h1m297-36h1m40 15h1m22 4h1m70-13h1m47 12h1m27 1h1m1-10h1m-1809 41h1m24 10h1m47-3h1m66-15h1m27 11h1m39-5h1m488 2h1m41-2h1m500 24h1m-496 31h1m58-21h1m72 26h1m303-7h1m90-10h1m-467 59h1m148-27h1m78 3h1m76-7h1m120 21h1m-356 47h1m299-7h1m-223 31h1m79 7h1m75-11h1" fill="none" stroke="#000" stroke-opacity="0.4" stroke-width="0.9" vector-effect="non-scaling-stroke" stroke-linecap="round"/>
<path d="M426.4 308.4 425.9 309.9 426.1 313.9 427.4 314.9 433.4 315.1 436.4 314.6 437.1 312.6 436.6 309.1 435.1 308.1Z" fill="#ffffff" stroke="#ffffff" stroke-width="0.5" fill-rule="evenodd"/>
<path d="M421.4 309.4 421.4 312.9 421.6 313.1 421.4 317.6 422.4 319.6 422.4 320.6 423.1 321.1 424.9 321.1 426.9 321.6 439.9 321.6 443.6 320.6 445.1 318.4 444.9 310.1 443.9 308.4 443.9 307.4 442.9 306.9 441.9 307.1 439.6 306.6 435.1 306.6 434.9 306.9 426.1 306.6 423.9 307.4 422.6 307.4ZM426.1 308.4 428.1 307.9 435.1 307.9 436.1 308.4 436.9 309.1 437.4 312.6 436.6 314.6 433.4 315.4 427.4 315.1 425.9 313.9 425.6 309.9Z" fill="#f0cad7" stroke="#f0cad7" stroke-width="0.5" fill-rule="evenodd"/>
<path d="M385.9 337.6 391.6 340.6 393.6 340.4 391.9 338.6ZM474.4 336.4 471.1 337.4 470.4 338.6ZM454.6 303.9 452.4 302.9 451.1 303.4 445.9 303.1 444.4 303.6 435.4 304.6 428.9 304.4 426.6 303.9 422.1 303.6 420.4 303.1 418.1 303.6 415.1 303.6 414.9 304.6 413.4 306.6 415.4 313.6 415.4 315.1 415.9 316.9 415.1 321.9 414.1 324.6 415.1 327.1 414.9 328.6 416.9 329.6 417.1 329.4 419.9 329.4 422.4 329.9 426.6 329.4 434.4 329.1 434.6 328.9 449.9 329.4 452.4 328.6 454.1 328.6 454.6 327.4 455.9 325.9 454.1 316.4 454.9 310.4 455.4 308.9 455.4 307.6 454.1 305.1ZM421.1 309.4 422.6 307.1 423.9 307.1 426.1 306.4 427.6 306.6 439.6 306.4 441.9 306.9 442.9 306.6 444.1 307.4 444.1 308.4 445.1 310.1 445.4 318.4 443.6 320.9 439.9 321.9 426.9 321.9 424.9 321.4 423.1 321.4 422.1 320.6 422.1 319.6 421.1 317.6 421.4 316.6ZM355.4 291.9 354.1 296.1 353.9 299.4 355.4 298.4 358.6 294.9 358.6 294.1 357.9 293.1ZM391.9 282.6 388.9 283.1 385.9 285.1 386.1 285.9 388.4 288.6 391.1 288.9 393.6 286.6ZM468.9 282.1 469.1 283.4 469.9 284.9 474.4 286.4 475.4 286.4 476.4 285.9 475.4 283.1 469.9 280.6ZM432.1 255.1 418.1 255.1 410.4 255.9 403.4 257.1 406.1 259.1 406.6 263.6 407.1 263.9 411.6 260.9 419.6 257.4 426.6 255.4Z" fill="#d98fa8" stroke="#d98fa8" stroke-width="0.5" fill-rule="evenodd"/>
<path d="M343.1 288.6 341.4 294.1 340.9 299.1 341.6 303.6 342.4 304.9 343.1 307.4 344.1 308.9 348.6 303.4 353.6 299.6 353.9 296.1 354.9 292.1 355.4 291.6 357.9 292.9 358.9 294.1 358.9 294.9 356.6 297.4 358.6 295.6 361.1 294.6 362.6 294.4 364.9 293.4 368.9 293.4 369.1 293.1 377.6 293.9 383.4 295.1 386.4 296.4 388.9 296.9 394.4 299.9 401.1 306.4 402.6 308.6 405.9 314.6 407.1 319.9 406.4 321.9 406.1 323.9 402.6 329.9 400.1 332.4 397.1 334.9 390.6 337.1 381.9 337.4 381.6 337.1 373.9 336.6 361.6 333.6 350.4 328.1 344.9 322.6 344.9 323.4 350.6 329.4 356.6 334.1 373.4 345.9 381.6 350.6 390.4 354.9 394.6 356.1 399.6 353.6 400.4 354.4 399.4 352.6 399.6 349.9 402.4 346.1 403.6 345.6 406.9 343.1 409.4 342.9 414.9 340.9 416.4 340.9 420.1 339.9 423.4 339.6 429.4 338.4 439.6 337.9 439.9 338.1 444.1 338.1 448.1 338.6 454.4 339.9 457.4 340.1 461.1 341.4 464.6 343.1 465.6 344.1 466.9 346.4 466.9 348.9 464.6 353.6 464.9 353.9 473.6 350.6 481.4 346.6 491.6 339.6 496.4 335.6 499.4 332.4 493.9 333.9 492.4 333.9 489.1 334.6 484.6 335.1 483.4 334.9 479.9 335.1 475.6 333.9 471.1 330.4 467.1 323.1 466.1 318.6 467.1 313.1 468.6 310.1 469.6 306.6 470.9 304.4 472.6 302.1 473.4 300.4 479.1 295.1 482.6 293.4 488.6 291.4 492.4 290.6 497.4 290.4 500.9 291.4 500.4 289.4 499.4 287.6 504.4 284.4 505.6 283.1 502.9 282.6 497.1 279.9 470.1 263.1 460.9 256.1 454.9 250.9 454.6 250.4 454.9 250.1 451.1 252.1 447.6 249.4 441.6 247.4 436.4 246.4 431.4 245.9 418.9 245.6 404.9 247.1 397.9 248.6 392.4 250.4 392.4 250.6 395.1 251.6 396.1 252.9 394.9 256.9 390.9 262.4 384.1 268.6 366.1 280.9 361.4 283.1 359.1 284.6 357.1 284.9 353.4 286.4 352.6 286.1 351.1 286.6 346.4 286.6 344.6 285.6ZM385.6 337.6 386.1 337.4 391.9 338.4 393.9 340.4 391.6 340.9ZM474.6 336.4 472.1 338.1 470.9 338.6 470.4 338.4 471.1 337.1 474.1 336.1ZM454.9 303.9 454.4 305.1 455.6 307.6 455.6 308.9 455.1 310.4 454.4 316.4 456.1 325.9 454.1 328.9 452.4 328.9 449.9 329.6 434.6 329.1 434.4 329.4 430.6 329.4 430.4 329.6 426.6 329.6 422.4 330.1 419.9 329.6 417.1 329.6 416.9 329.9 414.6 328.6 414.9 327.1 413.9 324.6 414.9 321.9 415.6 316.9 415.1 315.1 415.1 313.6 413.1 306.6 414.6 304.6 414.6 303.9 415.1 303.4 418.1 303.4 420.4 302.9 422.1 303.4 426.6 303.6 428.9 304.1 435.4 304.4 435.6 304.1 440.9 303.9 445.9 302.9 451.1 303.1 452.4 302.6ZM391.9 282.4 393.9 286.6 391.1 289.1 388.4 288.9 385.9 285.9 385.6 285.1 388.9 282.9ZM469.9 280.4 475.4 282.9 475.9 283.4 476.6 285.9 475.4 286.6 474.4 286.6 469.9 285.1 469.1 284.4 468.6 282.1ZM403.1 257.1 408.6 255.9 418.1 254.9 432.1 254.9 443.9 256.4 455.4 262.4 463.1 269.4 465.6 273.6 466.1 276.1 466.9 277.9 466.6 284.9 463.9 290.1 456.9 295.1 456.1 295.1 452.9 296.6 443.9 299.4 438.4 300.1 430.4 299.9 422.1 298.1 414.1 295.6 408.4 292.4 404.1 288.9 401.4 284.9 399.9 281.1 399.4 278.1 399.4 274.6 400.4 270.9 402.9 267.1 406.9 264.1 406.4 263.6 405.9 259.1Z" fill="#c86184" stroke="#c86184" stroke-width="0.5" fill-rule="evenodd"/>
<path d="M336.6 332.6 336.9 334.1 342.4 339.6 346.4 342.9 357.4 350.9 363.9 354.9 372.6 359.4 378.9 361.6 388.4 359.4 394.4 356.4 388.6 354.4 381.6 350.9 373.4 346.1 366.6 341.6 350.6 329.6 345.1 324.1 344.6 322.9 338.4 328.9ZM347.4 305.1 347.4 305.4 349.4 303.9 354.1 302.1 355.6 302.1 360.1 301.1 360.4 301.4 367.4 301.6 373.9 303.4 380.4 306.4 386.1 310.4 388.6 312.9 390.9 315.9 392.6 321.1 392.6 322.4 392.1 323.1 391.1 326.9 387.9 330.4 384.6 332.4 382.6 332.9 380.6 333.9 377.9 334.1 373.6 335.1 367.4 334.9 373.9 336.4 381.6 336.9 381.9 337.1 390.6 336.9 397.1 334.6 402.4 329.9 405.9 323.9 405.9 322.9 406.9 319.9 405.6 314.6 402.4 308.6 400.9 306.4 394.4 300.1 388.9 297.1 386.4 296.6 383.4 295.4 377.6 294.1 370.1 293.4 364.9 293.6 358.6 295.9 350.1 302.4ZM516.4 300.6 514.9 299.4 506.9 294.6 507.9 291.6 507.4 290.6 506.4 285.9 505.1 284.1 499.6 287.6 500.9 290.1 501.1 291.1 500.9 291.6 496.4 290.6 496.1 290.9 492.4 290.9 486.1 292.4 482.6 293.6 479.1 295.4 473.6 300.4 472.9 302.1 469.9 306.6 468.9 310.1 467.4 313.1 466.4 318.1 467.4 323.1 471.1 330.1 475.6 333.6 479.9 334.9 481.6 334.6 484.6 334.9 489.1 334.4 492.4 333.6 493.9 333.6 498.4 332.4 499.4 332.6 496.4 335.9 487.6 342.9 481.4 346.9 473.6 350.9 464.6 354.1 464.4 353.6 466.6 348.9 466.6 346.4 464.6 343.4 461.1 341.6 457.4 340.4 444.1 338.4 435.4 338.1 435.1 338.4 429.4 338.6 423.4 339.9 420.1 340.1 416.4 341.1 414.9 341.1 409.4 343.1 406.9 343.4 405.1 344.9 402.1 346.6 399.9 349.9 399.6 352.6 400.6 354.6 402.6 357.1 408.1 362.6 409.9 363.9 408.9 361.9 409.9 359.1 413.9 355.6 419.4 353.4 422.1 351.9 426.9 351.1 430.4 350.1 438.4 349.4 438.6 349.6 445.6 349.9 452.9 351.4 458.1 354.1 459.4 355.4 460.9 357.6 460.1 360.4 462.9 356.9 465.9 358.1 472.9 359.4 475.4 359.4 482.6 357.4 487.9 355.1 494.4 351.6 500.4 347.6 506.4 342.6 512.6 335.6 514.1 332.1 514.1 329.4 513.1 327.1 503.9 331.4 499.4 332.1 496.9 332.1 492.4 331.4 489.1 329.9 485.9 327.1 484.4 325.1 483.9 323.9 482.9 319.4 484.4 313.6 485.4 312.4 486.4 310.1 488.9 307.1 492.9 303.6 494.9 302.6 497.9 300.4 503.1 298.4 509.1 297.9 513.1 298.6 515.6 299.9ZM399.6 274.6 399.6 278.1 400.1 281.1 401.6 284.9 404.4 288.9 405.6 290.1 409.9 293.1 414.1 295.4 422.1 297.9 428.6 299.4 433.6 299.9 438.4 299.9 443.9 299.1 452.9 296.4 456.1 294.9 456.9 294.9 463.6 290.1 466.4 284.9 466.6 277.9 465.1 273.1 462.6 269.1 456.6 263.6 453.1 261.4 457.6 265.6 460.4 271.1 460.9 275.9 458.9 281.6 452.4 288.1 444.1 291.1 441.1 291.4 438.1 292.1 429.4 291.1 421.9 288.6 415.1 283.9 413.6 282.4 410.4 277.6 409.6 275.9 408.9 271.9 409.9 266.6 412.9 262.1 418.6 258.1 415.1 259.4 411.6 261.1 403.6 266.6 400.9 270.4ZM454.9 250.4 456.4 252.1 460.9 255.9 470.1 262.9 497.1 279.6 502.9 282.4 505.9 282.9 512.6 276.4 514.1 272.9 512.1 272.1 503.1 266.9 475.4 249.4 471.9 246.6 470.4 245.1 470.4 244.4 462.1 246.4 455.1 249.9ZM449.6 250.4 443.6 243.9 437.9 239.6 430.9 237.6 424.9 237.4 424.6 237.1 416.9 237.1 416.6 237.4 410.6 237.6 405.4 238.4 398.9 240.1 393.4 242.6 389.9 246.1 387.9 248.9 385.1 247.6 379.4 246.6 380.4 247.4 380.4 248.9 379.1 251.4 374.4 256.1 363.6 264.4 356.4 269.1 352.9 270.9 349.9 272.9 342.1 276.4 340.4 276.4 338.4 276.9 336.6 276.1 337.6 278.6 338.4 279.4 334.6 283.4 332.9 286.1 331.1 290.4 330.4 294.6 330.4 296.6 331.4 301.1 333.1 303.9 334.9 305.6 343.1 310.6 343.9 308.9 342.9 307.4 342.6 306.1 341.4 303.6 340.6 298.1 341.4 293.1 344.1 285.9 344.6 285.4 346.4 286.4 351.1 286.4 352.6 285.9 353.4 286.1 357.1 284.6 359.1 284.4 361.4 282.9 366.1 280.6 384.1 268.4 390.6 262.4 394.6 256.9 395.9 252.9 395.1 251.9 392.1 250.6 392.4 250.1 397.9 248.4 406.4 246.6 418.9 245.4 427.4 245.4 427.6 245.6 434.4 245.9 441.6 247.1 447.1 248.9Z" fill="#b6335c" stroke="#b6335c" stroke-width="0.5" fill-rule="evenodd"/>
<path d="M460.6 357.6 458.1 354.4 452.9 351.6 445.6 350.1 437.6 349.6 435.1 350.1 430.4 350.4 426.9 351.4 422.1 352.1 419.4 353.6 413.9 355.9 410.1 359.1 409.1 361.9 410.1 364.1 411.6 365.4 419.4 369.9 422.4 371.1 426.9 372.4 429.6 372.9 434.6 373.1 441.6 372.1 447.4 370.4 452.4 367.6 459.4 361.4 460.1 360.1ZM336.4 333.1 334.6 337.9 335.1 345.1 338.6 351.1 344.6 356.1 353.6 360.4 362.6 362.4 376.4 362.4 378.6 361.6 372.6 359.6 363.9 355.1 356.6 350.6 348.9 345.1 342.4 339.9 336.6 334.1ZM514.4 330.1 514.4 332.1 512.9 335.6 506.4 342.9 500.4 347.9 494.4 351.9 487.9 355.4 481.1 358.1 474.4 359.6 477.4 360.1 488.9 359.6 498.1 357.4 506.1 353.4 512.1 348.1 515.4 342.1 516.1 334.1ZM343.6 309.9 342.1 314.6 342.1 316.1 343.6 320.6 345.6 323.4 350.4 327.9 360.4 332.9 365.9 334.4 373.6 334.9 377.9 333.9 380.6 333.6 382.6 332.6 384.6 332.1 387.9 330.1 390.9 326.9 390.9 326.1 392.4 322.4 392.4 321.1 390.6 315.9 388.4 312.9 386.1 310.6 379.9 306.4 373.9 303.6 367.4 301.9 360.4 301.6 360.1 301.4 353.1 302.6 351.9 303.4 349.4 304.1 347.1 305.6ZM521.6 305.9 516.6 300.9 513.1 298.9 509.1 298.1 503.1 298.6 497.9 300.6 494.9 302.9 492.9 303.9 488.9 307.4 486.6 310.1 485.6 312.4 484.6 313.6 483.1 319.4 484.6 325.1 486.1 327.1 489.1 329.6 492.4 331.1 496.9 331.9 503.1 331.4 515.1 326.1 522.4 319.4 524.4 313.6 522.6 307.9ZM505.6 283.4 505.1 283.9 506.6 285.9 507.6 290.6 508.1 291.6 507.1 294.6 507.4 294.6 508.6 290.9 508.6 289.6 507.1 285.1 506.4 283.9ZM337.6 278.9 335.9 279.4 328.4 286.4 326.4 291.9 328.1 297.9 329.1 299.9 332.9 303.6 331.1 301.1 330.1 296.6 330.1 294.6 330.9 290.4 332.6 286.1 334.4 283.4 338.1 279.4ZM410.1 266.6 409.1 271.4 409.9 275.9 410.6 277.6 413.9 282.4 415.1 283.6 421.9 288.4 430.4 291.1 438.1 291.9 439.6 291.4 445.4 290.6 447.9 289.4 452.4 287.9 458.6 281.6 460.6 275.9 460.1 271.1 457.4 265.6 452.6 261.1 445.4 257.4 440.9 256.1 434.9 255.4 430.4 255.4 424.1 256.4 419.1 257.9 416.4 260.1 413.4 261.9ZM380.1 247.4 379.1 246.6 373.9 245.6 361.4 246.1 352.4 248.4 344.9 252.1 338.6 257.6 335.4 263.4 334.6 271.6 336.4 275.6 338.4 276.6 340.4 276.1 342.1 276.1 349.9 272.6 358.4 267.6 367.1 261.6 374.4 255.9 378.9 251.4 380.1 248.9ZM470.6 244.4 470.6 245.1 473.1 247.4 483.4 254.4 506.9 268.9 512.6 272.1 514.1 272.6 516.1 267.6 515.6 260.4 512.1 254.6 505.9 249.4 496.6 245.1 487.4 243.1 476.4 243.1 472.9 243.6ZM437.1 239.1 433.1 236.6 427.1 234.1 422.1 232.9 418.9 232.9 418.6 232.6 413.1 232.9 407.9 233.9 403.9 235.1 397.6 238.6 390.9 244.9 393.4 242.4 398.1 240.1 405.4 238.1 410.6 237.4 416.6 237.1 416.9 236.9 424.6 236.9 424.9 237.1 430.9 237.4Z" fill="#a1063a" stroke="#a1063a" stroke-width="0.5" fill-rule="evenodd"/>
<path transform="scale(0.1)" d="M4239 2561l-26 2-28 16M4094 2624l-1-1M4078 2607l-5-6M4072 2600l19 25M4545 2511l-6-3-25 9-72 49M4356 2553l-45-53-47-31-26-8-25-2-25 3-23 9-40 33-15 21-32 61-10 8-5 0M3976 2532l-3-2M3969 2527l-7-3 110 111M4500 2595l34-48 12-29-1-7M4663 2459l-9-4-16 2-44 19M4469 2545l-24 3-21-10-63-74-28-26-31-22-34-17-36-10-36-3-35 5-32 11-29 18-25 24-20 27-45 80M3847 2475l-4-1 2 4 24 25 110 94 59 42 20 7M4190 2580l10-5M4217 2569l5-2M4234 2563l5-1M4251 2559l60-8 29 1M4543 2615l60-58 42-51 19-36-1-11M4778 2437l-11-6-31 4M4488 2531l-21-10-78-88-34-30-40-26-43-19-46-12-46-3-45 5-41 14-37 21-31 28-24 31-40 78M3731 2455l-3 0 1 6 32 30 104 79 82 56 37 21 31 10 25-2 78-45 74-32 89-20 91-2 41 6 37 10 31 13M4578 2641l48-31 102-89 43-53 8-19-1-12M4886 2438l-14-7-9 0M4499 2519l-84-93-41-33-46-29-52-22-55-13-56-4-54 6-49 16-44 24-36 31-28 35-34 66M3632 2459l-12 0 1 8 15 15 106 76 151 91 45 23 37 12 29-2 88-46 88-32 51-12 111-12 104 7 43 10 36 13 28 16 26 21M4599 2665l5 3 19 1 30-14 40-24 87-65 72-64 24-28 11-21-1-15M4981 2458l-22-8M4510 2519l-73-80-64-47M4071 2341l-38 12-49 26-40 34-30 38-22 40M3528 2483l-2 9 17 16 128 83 178 95 53 23 42 13 31-1 96-44 98-31 122-20 64-4 62 1 57 5 49 10 40 12 30 15 51 41 20 0 82-41 105-67 48-35 68-64 15-24-1-17M5061 2495l-19-10M3915 2441l-32 40M3449 2521l-3 1 0 10 20 18 37 25 112 61 202 95 61 24 47 14 31-1 98-40 107-29 134-19 72-4 68 1 115 13 74 25 22 13 25 23 19 1 40-16 115-60 116-71 47-34 34-32 19-26 0-18M5121 2544l-4-2M3391 2572l-4 1-1 11 22 19 100 56 217 94 140 53 53 15 28-3 97-34 111-24 144-17 77-4 73 0 121 12 76 19 21 11 18 20 14 2 177-76 128-69 54-35 40-32 23-27 1-20M5157 2604l-4-2M3353 2634l-2 12 24 19 111 56 226 86 210 65 74-21 155-26 149-14 156-4 123 8 75 14 37 15M4714 2846l176-66 133-63 58-33 46-32 27-28 3-20M3346 2713l25 21 118 53 214 70 161 37 43 6 85 2 389-25 142 1 160 8 56-5 112-33 168-68 109-60 30-27 4-20M3377 2786l26 20 52 23 129 44 128 36 205 32 121 11 57 1 514-12 149-19 97-21 58-20 179-90 34-28M3453 2861l25 16 128 48 17 15 57 16 194 28 157 14 132 7 327-5 177-16 155-22 122-24 36-12 17-10-2-8-5-2M4976 2890l72-49M3559 2980l-5 4 15 11 39 11 60 11 160 18 185 11 335 3 352-19 191-19 78-12 61-14 40-13 17-12-10-11M3358 2793l-18 22 11 27 47 29 83 32 76 21M3502 3023l-16 13 17 15 43 14 65 12 176 18 204 4 98-4 191-20 144-2 200 9 117 0 212-13 85-12 67-14 44-15 19-16-12-14M4995 2906l59-31 16-28-12-16M3290 2856l-7 7 10 25 48 27 91 27 136 28M3447 3082l-10 13 19 18 48 17 69 14 87 10 98 7 107 1 109-4 105-12 90-18 66-23 39-19 31-4 37 2 181 35 124 14 126 6 118 0 105-7 89-11 71-14 47-16 21-18-5-10M5216 3057l-2-3M5053 2934l20-8 16-24-4-4M3262 2921l10 22 47 23 93 22 93 13M3421 3151l-3 4 21 22 49 18 71 15 88 10 101 5 108-1 111-9 107-18 93-28 68-34 38-31 23-14 121 41 112 30 128 22 128 13 120 4 107-4 91-9 71-14 49-18 22-20-2-4M3283 2984l10 18 48 18 91 15 46 4M3437 3210l19 24 48 20 69 15 87 9 98 3 107-4 109-14 105-24 90-35 66-42 39-33 31-6 37 4 73 31 108 38 124 30 126 19 118 8 105 0 89-8 71-13 47-17 21-22M3349 3056l49 15 41 4M3500 3275l3 4 43 21 65 15 82 8 94 1 101-8 103-17 98-28 83-37 62-33 46-10 90-3 54 8 200 62 117 24 111 12 101 3 85-5 67-11 44-18M3429 3106l2 1M3595 3325l13 7 60 14 74 7 86-1 92-10 93-18 158-47 59-5 118 8 108-14 61 3 183 39 100 14 91 6 78-3 68-13M5050 3307l20-9M3680 3350l9 3M3724 3361l75 8 75-1 227-28 62 4 132 27 71 5 66-8 109-32 57-7 224 17 86-5M4926 3338l18-3M3387 3286l-5 4-5 19 26 12 52 3 118-4M3837 3373l10 1M3866 3375l113 4 59 6 57 15 129 44 75 17 77 5 73-8 63-20 97-50 45-17 50-9 106-9M5098 3285l27-4 4-8M3349 3364l-4 20 26 11 51 2 311-33M3977 3405l175 92 71 26 77 18 81 5 76-9 66-21 55-29 42-32 95-84M4920 3341l208 17 30-4 4-12M3351 3449l0 3 24 12 47 1 64-6 150-28 221-54M3959 3418l37 41 42 35 52 36 61 33 72 28 77 18 80 5 76-9 67-21 56-31 43-35 32-38 22-37 13-36M4767 3359l190 42 124 21 46 4 27-3 3-12M3386 3509l0 4 22 10 42 1 58-7 143-32 214-65 53-9 28 22 56 74 41 40 51 37 60 34 70 28 74 17 77 5 73-9 66-20 55-30 44-37 32-39 21-41 14-52M4693 3401l5-8 47 7 196 55 116 26 40 5 23-2 0-4M3446 3562l20 10 37 0 51-7 128-34 196-66 47-6 31 18 58 72 40 40 49 38 58 33 65 25 69 17 72 4 68-7 62-20 53-28 43-36 35-46M4635 3555l13-27M4680 3451l10-9 40 3 231 74 81 18 19-4M3534 3603l9 4 31 0 44-8 112-35 172-64 42-4 31 16 96 106 45 36 53 31 59 24 63 15 64 4 62-7 57-17 49-27 20-17M4556 3649l7-5M4676 3481l23 1 240 86 28 7 15-1M3636 3626l26-1 80-22 196-81 37-3 9 4M4156 3678l50 26M4223 3711l63 17 65 3M4369 3729l27-3M4660 3508l192 83 35 6M3741 3626l6-1M3754 3625l36-9 36-14 158-75M4650 3539l103 55 26 8M3861 3600l56-21 77-45M4632 3566l29 16M3984 3544l13-7M4472 2565l73-54 118-52 115-22 108 1 95 20 80 37 60 49 36 60 5 69M5136 3281l26 61-4 46M4467 2564l72-56 115-53 113-24 105 0 92 19M4990 2462l52 23M4459 2566l69-56 110-53 108-25M4449 2572l65-55 103-52M4450 2568l45-39M4558 2495l16-9M4981 2894l14 12M4448 2568l27-25 14-8M5038 2862l16 13 19 51-6 18M5062 2840l8 7 19 55-12 40M4440 2565l29-20M4428 2561l17-13 39-13M4402 2559l22-21 43-17 31 2M4378 2548l27-31 39-21 34 0 30 23M4349 2542l36-51 34-26 30-3 28 20M4321 2548l10-28 30-56 28-31 26-7 22 13M4300 2544l11-44 22-62 22-35 19-10 17 10M4280 2545l22-129 13-39 14-12M4261 2551l7-152 8-56M4243 2545l-11-156-6-43-6-17M4228 2560l-15-101-17-73-16-43-17-18M4213 2563l-25-101-27-71-26-43-24-17-7 1M4097 2334l-3 1M4198 2569l-33-98-36-69-35-40-32-15-29 6M4185 2579l-42-94-43-65-43-37-39-12-34 8-4 5M4165 2577l-40-73-50-60-49-33-44-9-38 11-29 28M4145 2579l-35-54-55-54-53-29-48-5-40 14-31 30M4136 2598l-38-50-59-49-56-24-50-1-41 17M4118 2603l-30-34-62-43-58-19-34 1M4099 2607l-21-21-64-39-19-5M4089 2614l-21-20M3371 2787l-13 6-18 17M3322 2826l-18 16M3380 2798l-40 17-57 48-21 58M3269 2942l14 42M3404 2818l-53 24-58 46-21 55 21 59 58 57 80 48M3433 2854l-35 17-57 44-22 51 22 54 57 51 35 22M3497 2891l-65 51-20 46 20 47 25 22M4093 2623l-15-16M3586 2946l-18 24M4088 2618l-32-30M4019 2562l-54-39M3926 2507l-57-24M3774 2462l-19-3M4087 2616l-15-16-111-79-118-47-115-19-108 4-95 24-79 39-59 51-34 61M3446 3228l-64 62-33 74M4072 2601l-110-77-117-46-116-17-108 6-95 25-80 40-60 52-35 62-6 69 32 73 76 73M3453 3233l-76 76-32 75 6 68 35 61 60 49 14 6M4091 2622l-15-16-108-74-115-44-112-15-105 9-93 26-77 42-58 53-33 62-4 69 32 72 75 71 100 54M3466 3256l-63 65-32 74 4 69 33 59 58 49 77 35 93 19 105 0M4082 2614l-103-71-110-40-108-12-99 11-88 29-71 44-53 54-28 62 0 68 33 70 71 67 17 10M3490 3286l-35 38-33 73 0 68 28 59 53 48 71 35 88 18 99-1 108-25M4091 2625l-97-66-103-36-101-8-92 13-80 32-64 44-46 55-22 62 3 66 31 65 64 70M3538 3299l-18 23-31 71-3 66 22 58 46 48 64 34 80 18 92-1 101-25 17-8M3977 3548l17-9M4087 2628l-75-50-95-32-91-5-84 17-71 33-56 45-38 55-18 60 4 62 43 112M3580 3331l-17 53-4 63 18 56 38 47 56 34 71 19 84-1 91-23 79-42M4073 2625l-41-27-85-26-82-2-73 19-62 35-48 45-31 54-15 57 0 109-20 44-17 14M3554 2983l-52 40M3636 3348l0 83 15 54 31 46 48 33 62 19 73 1 82-22 43-24M4066 2627l-12-8-75-22-72 2-64 21-53 36-39 45-26 52-22 104-26 43-54 40-69 44-68 52-49 59-19 60 19 55M3699 3361l4 6 22 97 26 44 39 33 53 20 64 2 72-20 12-8M4065 2635l-56-14-62 5-54 23-44 37-32 45-19 50-12 50-23 42-51 36-143 86-66 56-47 62-17 64 17 57 47 45M3525 3290l22 11M3767 3368l19 28 12 45 19 43 32 34 44 21 54 3 42-11M4057 2644l-19-5-54 8-46 25-36 37-24 46-21 97-41 33-136 71-72 50-62 59-42 65-16 65 16 59 42 46 62 32 36 9M3857 3377l21 88 24 35 36 22 46 5M4054 2649l-39 8-40 27-31 38-19 47-7 52 4 51-58 22-64 31-67 41-65 51-57 60-38 67-14 66 14 59 38 46 57 31 65 17M3920 3394l-2 17 7 48 19 37 31 23M4040 2655l-36 27-29 39-19 47-17 97-32 35-108 75-57 52-49 61-33 66-13 66 13 58 33 45 49 30 57 16 47 5M3943 3412l13 65 24 38M4063 2644l-33 27-28 39-19 47-20 102-14 43-32 39-89 94-41 60-29 66-10 64 10 56 29 43 41 28 100 30M3951 3397l12 27 8 45 12 41 24 35M4088 2628l-30 26-25 40-19 49-12 54-10 105-13 46-91 151-23 63-9 62 9 53 23 39 32 26 34 18 25 19 13 33 10 95 12 42 23 33M4118 2610l-26 26-21 41-17 51-11 56-5 59 0 109-7 46-40 101-17 59-7 57 7 48 17 36 40 49 7 37 0 109 5 53 11 42 20 31M4156 2592l-23 27-17 42-13 52-9 59-4 62 0 62 11 107-2 45-20 98-5 51 5 42 20 60 2 41-11 127 0 63 4 54 9 43 16 29M4124 3659l3 2M4196 2576l-4 2-12 26-11 42-15 114-3 65 5 127 15 96 1 38-5 83 5 65-1 43-15 145-5 141 10 97 8 25 11 8M4237 2564l-9 70-5 183 1 133 11 155-12 418 1 123 4 63 3 6M4275 2554l6 4 10 68 9 185-5 194-7 45-14 36-1 18 15 173 11 184-1 202-7 61-5 4M4311 2551l16 3 15 26 13 42 20 117 5 68 1 70-5 67-10 60-18 45-22 25-21 8-9 8 52 190 18 96 10 90 5 80-6 122-8 38-12 22-13 4M4354 2554l18 2 24 25 21 42 18 54 13 62 8 68 1 69-8 67-17 59-28 45-34 26-28 11-4 18 4 25 62 148 28 93 17 90 8 79-1 68-8 54-13 40-18 22-14 3M4407 2561l6 1 33 25 28 41 23 54 17 61 9 67 0 68-11 65-22 57-34 44-32 29-9 27 0 58 9 38 32 70 34 86 22 86 11 78 0 68-9 55-17 40-28 26M4450 2572l39 25 34 41 27 52 19 61 10 64-1 66-14 62-47 97-4 39 16 82-6 35-10 30 4 43 47 143 14 75 1 66-10 56-19 42-27 26M4481 2585l44 25 38 40 30 52 20 58 9 62-2 62-22 108 4 44 45 97 10 50-10 43-45 62-4 41 22 126 2 63-9 54-20 43-30 29M4545 2622l48 43 31 50 21 55 9 59 0 109 13 46 74 98 32 57 12 57-12 49-32 37-74 52-13 37 0 109-9 53-26 48M4574 2642l41 39 31 47 20 53 17 105 21 45 96 91 52 55 39 62 14 61-14 53-39 41-52 28-54 20-42 20-21 34-17 96-20 43M4624 2689l36 52 18 51 11 50 21 43 48 37 133 89 62 58 43 63 16 64-16 57-43 44-62 31-69 18-64 12-48 16-21 33-11 45M4604 2668l6 6M4624 2687l20 19 27 45 21 89M4724 2870l15 11 151 69 79 49 69 58 47 64 18 66-18 58-47 47-69 33-79 19-92 10M4588 2653l35 16 41 37 26 46 8 51-4 34M4744 2867l111 34 89 37 86 47 75 58 51 64 18 66-18 59-51 49-75 34-86 20M4698 3393l-8 49-17 25M4561 2630l34 3 58 22 46 36 31 45 26 96 51 31 173 63 90 46 79 56 54 63 20 64-20 60-54 48-13 6M5110 3281l-40 17M4754 3364l-24 81-31 37-31 16M4537 2612l14-4 75 2 67 21 53 34 39 44 23 49 15 49 28 41 62 33 84 35 90 44 81 52 56 61 21 62-21 58M4837 3355l-14 17-15 46-23 44-39 36-53 23-33 3M4518 2601l59-18 85-1 75 18 62 33 46 43 30 51 26 102 31 42 63 37 82 41 79 49 19 19M5204 3045l10 9M4899 3347l-24 90-30 46-46 35-62 22-75 5-15-2M4506 2587l97-30 93-6 84 15 71 32 54 43 36 52 16 57 0 109 20 36M4958 3335l-1 66-16 54-36 47-54 37-71 21-84 5-46-9M4488 2588l33-22 105-36 102-9 92 12 79 30 62 42 42 53 20 59-4 63-44 105M5011 3329l8 21 4 63-20 57-42 49-62 37-79 22-92 3-85-16M4481 2582l53-35 111-41 108-14 99 10 87 27 69 42 49 52 24 61-3 66-34 67-59 64M5056 3310l22 46 3 66-24 59-49 50-69 37-87 23-99 3-108-20M4488 2568l54-37 116-46 113-17 105 6 91 25 75 40 55 52 30 61 1 68-36 71-74 71M5098 3298l30 60-1 68-30 60-55 51-75 38-91 23-105 3-113-20-20-8M4472 2571l74-53 118-48 115-21 108 4 95 22 79 38 59 51 34 60 4 69-33 74-77 74M5125 3281l33 73-4 69-34 61-59 51-79 39-95 23-36 2M4815 3600l-36 2M4683 3586l-19-3" fill="none" stroke="#000" stroke-opacity="0.13" stroke-width="0.5" vector-effect="non-scaling-stroke"/>
<path transform="scale(0.1)" d="M4111 2331h1m53-6h1m55 4h1m-238 50h1m33-8h1m14-18h1m28-6h1m31 15h1m40-14h1m44-5h1m45 3h1m45 12h1m3-16h1m38 35h1m12-13h1m-385 49h1m37-11h1m43 9h1m30-28h1m71 19h1m31-11h1m34-5h1m35 3h1m35 10h1m33 17h1m52-13h1m18-10h1m16 10h1m-772 56h1m11 0h1m95-4h1m185-4h1m0-10h1m38-4h1m47 5h1m72 2h1m24-24h1m112 39h1m119-21h1m55-5h1m25-7h1m21 13h1m200 18h1m15-2h1m8 4h1m82-27h1m20-1h1m10 6h1m0 12h1m92-18h1m13 7h1m0 15h1m76-3h1m16 8h1m-1457 25h1m0 9h1m94-25h1m14 15h1m92-21h1m11 12h1m19 18h1m81-17h1m1 4h1m7 10h1m29-7h1m8 10h1m40-17h1m49 1h1m55 24h1m15-28h1m87 14h1m21-14h1m22-9h1m49-1h1m25 8h1m23 13h1m22 18h1m49-36h1m23 27h1m33-26h1m24 31h1m4-34h1m24 15h1m3 19h1m138-31h1m40 20h1m5-15h1m88 22h1m17-24h1m104 6h1m90 25h1m14-24h1m59 10h1m18 10h1m-1616 27h1m-1 10h1m96-24h1m30 23h1m87-29h1m35 26h1m91-13h1m78-12h1m21 20h1m69-2h1m0 3h1m2-1h1m2 9h1m-1-25h1m4 23h1m52-4h1m83-1h1m14-21h1m205 16h1m73-3h1m18 21h1m42-17h1m27 8h1m9-15h1m8 3h1m13-7h1m10-2h1m2 23h1m2-20h1m0 7h1m79 12h1m18-24h1m82 15h1m91 12h1m31-31h1m86 27h1m102 10h1m18-26h1m-1675 60h1m78-23h1m36 25h1m114-15h1m123-2h1m83-17h1m38 29h1m51-24h1m29 26h1m31-29h1m14 16h1m17 19h1m1-31h1m73 22h1m9-21h1m86 31h1m6-1h1m5-9h1m14-6h1m14-3h1m6 6h1m3-4h1m35-8h1m5 4h1m29-7h1m15 3h1m14 26h1m6-38h1m22 14h1m40 6h1m31-14h1m4 24h1m2-13h1m15-14h1m5-2h1m45 23h1m12-19h1m68 10h1m92-6h1m83 15h1m118-3h1m108 8h1m111-7h1m0-20h1m-1736 40h1m21 19h1m145 1h1m116-13h1m120-2h1m114 10h1m71-2h1m52 1h1m21 21h1m13-25h1m3 6h1m-1 1h1m1 0h1m1 5h1m1 1h1m-1-21h1m3 28h1m2 0h1m32-4h1m14 9h1m19-26h1m26 11h1m50-12h1m54-8h1m109-3h1m49 6h1m34-2h1m7 12h1m16-10h1m18 23h1m25-2h1m25-25h1m48 27h1m35-28h1m74 18h1m113-2h1m109 7h1m135-14h1m59 13h1m-1807 42h1m1-12h1m96-5h1m57 30h1m106-23h1m114-12h1m59 32h1m52-36h1m49 29h1m53-23h1m36 21h1m24-26h1m5 36h1m22-18h1m1 16h1m17-1h1m4-10h1m24-16h1m2-3h1m0 11h1m1-12h1m74 22h1m58-12h1m62-8h1m63-4h1m61 1h1m56 5h1m48 10h1m29-12h1m9 24h1m10-8h1m20-9h1m57 22h1m39-24h1m105 2h1m105 8h1m97 17h1m53-35h1m69 29h1m26-28h1m-1780 41h1m46 26h1m154 0h1m104-22h1m166 17h1m88-14h1m36 12h1m28-2h1m25-11h1m2 23h1m37-17h1m44-16h1m44 38h1m64-11h1m68-8h1m71-4h1m67 1h1m61 5h1m52 8h1m42-25h1m10 3h1m10 13h1m7-12h1m6 26h1m68-4h1m46-26h1m98 11h1m95 17h1m139-9h1m76 9h1m3-20h1m-1818 42h1m25 19h1m114-13h1m164 2h1m99-22h1m65 30h1m84-22h1m41 13h1m30-1h1m26-11h1m51 18h1m48-15h1m271 26h1m72 0h1m144-37h1m30 13h1m19-9h1m1 22h1m17-22h1m65 30h1m54-27h1m89 18h1m147-10h1m104 3h1m-1707 39h1m136-8h1m165 2h1m152 2h1m46 14h1m30-1h1m26-11h1m30-14h1m79 29h1m59-12h1m69-10h1m73-7h1m215 0h1m54 8h1m43 9h1m31 10h1m14-29h1m10 10h1m18 1h1m117 6h1m81 22h1m66-30h1m61 30h1m58-30h1m46 17h1m-1786 48h1m17-22h1m18-5h1m25 18h1m85-19h1m73 26h1m72-33h1m75 27h1m85-26h1m66 25h1m80 12h1m24-10h1m30-11h1m40-13h1m179 33h1m76-6h1m79-4h1m75 0h1m66 3h1m55 5h1m86-34h1m11 11h1m5 9h1m13 2h1m46-18h1m77 22h1m134 0h1m85 10h1m47-26h1m-1789 51h1m46 0h1m103-13h1m64 23h1m114-15h1m67 20h1m82-26h1m70 21h1m60-31h1m44 38h1m32-8h1m41-8h1m51-9h1m60-9h1m470-3h1m31 7h1m21 7h1m12 6h1m66-10h1m94 16h1m49-19h1m55 30h1m37-19h1m52 1h1m21 6h1m-1788 16h1m9 25h1m104-17h1m54-10h1m24 16h1m47 19h1m57-23h1m51 16h1m126-16h1m52 12h1m47 9h1m42 6h1m14-28h1m16-7h1m150 31h1m61-5h1m70-6h1m76-5h1m80-3h1m75-1h1m65 2h1m54 3h1m41 3h1m33 2h1m28 0h1m26-1h1m28-4h1m30-8h1m36-10h1m81 28h1m23-10h1m18-10h1m52 10h1m32-19h1m35 13h1m-1793 46h1m78-6h1m139-12h1m93 10h1m30 12h1m9 8h1m60-33h1m34 9h1m39 8h1m47 8h1m55 8h1m92-31h1m42 0h1m45-2h1m615 38h1m49-7h1m53-9h1m51-11h1m44-10h1m88 37h1m35-12h1m14-18h1m-1-2h1m1 10h1m75 10h1m15-24h1m-1818 41h1m46 23h1m112-24h1m135 28h1m54-30h1m19 8h1m36 8h1m52 10h1m65 9h1m117-34h1m61 7h1m58 4h1m56 1h1m60-1h1m67-2h1m74-3h1m76-3h1m72-1h1m62 0h1m51 0h1m44-2h1m136 33h1m75-12h1m67-12h1m179 22h1m6-23h1m9 11h1m-1805 24h1m9 18h1m118-14h1m141-4h1m14 11h1m38 11h1m59 11h1m205-33h1m79 8h1m76 6h1m69 5h1m61 2h1m62 1h1m68-1h1m70-1h1m65-2h1m57-2h1m50-3h1m56-5h1m68-8h1m223 27h1m77-12h1m60-14h1m125 13h1m11 14h1m-1828 8h1m9 39h1m80-24h1m53 1h1m15-13h1m0 28h1m238-24h1m85 8h1m91 7h1m92 4h1m85 2h1m71 0h1m58 1h1m57 1h1m59-1h1m55-2h1m51-3h1m60-4h1m84-4h1m97-6h1m99-8h1m237 35h1m66-14h1m43-15h1m64 26h1m-1817 17h1m38 24h1m108-30h1m64 12h1m81 11h1m93 7h1m100 4h1m102 0h1m97-4h1m82-9h1m61-8h1m39 8h1m5-11h1m15 15h1m8-8h1m20-8h1m15 10h1m27-11h1m53 0h1m88 6h1m110 3h1m116 0h1m110-5h1m100-8h1m249 22h1m20-18h1m-1794 34h1m24 6h1m47 17h1m664-2h1m65 7h1m-1-30h1m37-1h1m0 25h1m30-6h1m32-21h1m3 25h1m72-27h1m1 31h1m105-12h1m123 14h1m125 6h1m117 0h1m104-7h1m88-11h1m70-14h1m88 28h1m-1828 20h1m20 22h1m133-33h1m86 10h1m97 7h1m106 1h1m108-4h1m104-12h1m87 23h1m67-7h1m179-4h1m113 3h1m644 12h1m48-18h1m-1787 55h1m50-15h1m70 15h1m407 5h1m106-18h1m94 7h1m64-3h1m45-10h1m45 0h1m43-3h1m53 8h1m98 0h1m133-13h1m127 13h1m119 4h1m106-4h1m90-9h1m99 28h1m20-22h1m-1772 40h1m2 1h1m47 20h1m142-34h1m100 5h1m107-1h1m222 15h1m92-5h1m340-8h1m110 32h1m22-32h1m125 19h1m117 8h1m104 0h1m88-8h1m70-13h1m-1775 58h1m120-11h1m69-10h1m86 9h1m97 3h1m106-4h1m108-14h1m16 36h1m97-28h1m9 28h1m71-22h1m58-5h1m57 5h1m59 3h1m55-5h1m51-9h1m60 3h1m84 19h1m138-6h1m110 12h1m100 3h1m84-5h1m31 6h1m34-17h1m19 0h1m23-18h1m-1773 46h1m25 12h1m51 3h1m64-2h1m25-22h1m61 32h1m2-17h1m81 8h1m93 1h1m100-8h1m124 8h1m527 12h1m56-7h1m68 5h1m32-26h1m99 14h1m90 6h1m52 7h1m24-10h1m60-10h1m-1682 49h1m285 11h1m32-29h1m11 4h1m22 17h1m29-4h1m8-10h1m56 16h1m28-17h1m28 25h1m16-9h1m42 9h1m2-35h1m33 18h1m24 19h1m51-31h1m69-8h1m61 4h1m62 14h1m68 13h1m70 5h1m65-8h1m57-16h1m163 19h1m49-9h1m5 12h1m35-32h1m11 16h1m51-5h1m11-7h1m0 26h1m66-28h1m67 0h1m60 6h1m58 6h1m49 2h1m29-4h1m3-12h1m-1818 42h1m25 11h1m50 2h1m66-4h1m73-9h1m148 30h1m73-18h1m131 15h1m73 1h1m45-27h1m56 15h1m468 12h1m44-24h1m73 8h1m5 11h1m8-14h1m46 7h1m62 18h1m81-31h1m66 14h1m65 12h1m133-2h1m-1807 41h1m134 7h1m72-12h1m76-16h1m161 10h1m66-21h1m59 39h1m20-26h1m16-9h1m32 35h1m41-21h1m117-16h1m67 22h1m224 14h1m62-20h1m107 17h1m33-32h1m21 20h1m1 9h1m11-10h1m39 3h1m144-8h1m65 18h1m139-33h1m45 4h1m26-3h1m-1780 41h1m46 1h1m228 20h1m73-21h1m91 20h1m60-19h1m65 31h1m11-19h1m14-8h1m66 25h1m51-27h1m61 30h1m146-36h1m76 5h1m201 21h1m75-7h1m11 12h1m32-10h1m46 16h1m38-36h1m59 21h1m157-13h1m53 11h1m39 5h1m22-2h1m-1735 29h1m21 10h1m41 1h1m57-7h1m68-14h1m104 28h1m68-23h1m97 10h1m43 21h1m8-39h1m35 22h1m36-3h1m-1-7h1m7-2h1m0 17h1m9 12h1m7-32h1m87 23h1m132-7h1m233 14h1m65-21h1m98 2h1m22 15h1m0 2h1m46-14h1m105-3h1m51 21h1m53-37h1m55 17h1m46 12h1m33 6h1m18-2h1m-1616 27h1m19 10h1m36 0h1m50-7h1m60-15h1m114 14h1m59-23h1m52 20h1m63 2h1m9 16h1m29-17h1m-1-20h1m31 1h1m22-1h1m11 7h1m18 30h1m9-32h1m107 16h1m148-22h1m80 5h1m197 7h1m33 19h1m10 4h1m20-2h1m16-29h1m33 20h1m40-25h1m42 20h1m39 18h1m78-22h1m39 12h1m27 7h1m14-1h1m-1440 33h1m30 0h1m43-8h1m52-15h1m26 33h1m43-14h1m47 13h1m1-33h1m33 19h1m38-18h1m3 15h1m21-8h1m162-2h1m16 29h1m22-34h1m59 34h1m68-27h1m76 18h1m79 5h1m75-9h1m66-21h1m45 25h1m23 6h1m64-34h1m5 2h1m63-2h1m24 13h1m17 7h1m7 1h1m72-11h1m23 7h1m10-1h1m-1252 29h1m25-1h1m78 1h1m19-2h1m341 3h1m12 27h1m44 6h1m62-14h1m223 13h1m65-20h1m35 12h1m12-7h1m-395 41h1m10 8h1m45-8h1m71-22h1m76 5h1m59 31h1m61-20h1m25-2h1m-296 32h1m2 6h1m54 13h1m4-4h1m3-22h1m46 30h1m12-4h1m11-22h1m28 20h1m20-5h1m56-17h1" fill="none" stroke="#000" stroke-opacity="0.4" stroke-width="0.9" vector-effect="non-scaling-stroke" stroke-linecap="round"/>
<path d="M225.4 501.4 224.6 496.4 223.6 492.6 221.9 487.9 219.1 482.6 218.9 483.9 217.6 485.1 214.4 486.9 208.9 488.6 202.1 490.1 190.9 491.9 179.4 493.1 166.4 493.9 166.1 494.1 148.9 494.6 148.6 494.9 110.9 494.6 110.6 494.4 105.6 494.4 105.4 494.1 94.6 493.6 82.4 492.4 72.9 490.9 66.4 489.4 60.6 487.1 58.6 485.4 58.4 484.4 55.6 489.6 53.6 495.4 52.4 501.6 52.1 507.9 52.4 508.1 52.4 511.4 53.4 516.4 54.9 521.1 57.4 526.6 58.9 529.1 59.9 530.1 62.1 531.4 66.4 532.9 72.9 534.4 82.4 535.9 94.6 537.1 105.1 537.6 105.4 537.9 117.6 538.1 117.9 538.4 156.1 538.1 156.4 537.9 161.6 537.9 161.9 537.6 166.1 537.6 166.4 537.4 179.4 536.6 196.1 534.6 209.9 531.9 214.4 530.4 216.9 529.1 218.9 527.4 220.6 524.4 222.6 519.9 224.1 515.1 225.4 507.6Z" fill="#ffffff" stroke="#ffffff" stroke-width="0.5" fill-rule="evenodd"/>
<path d="M218.4 528.1 216.9 529.4 211.6 531.6 204.6 533.4 196.1 534.9 173.4 537.4 161.9 537.9 161.6 538.1 156.4 538.1 156.1 538.4 148.9 538.4 148.6 538.6 117.9 538.6 117.6 538.4 101.4 537.9 101.1 537.6 86.6 536.6 75.6 535.1 66.4 533.1 62.1 531.6 59.1 529.6 62.9 534.9 66.6 538.9 70.1 540.6 75.4 542.1 85.1 543.9 102.4 545.6 117.1 546.1 117.4 546.4 139.1 546.6 139.4 546.4 156.9 546.1 157.1 545.9 161.9 545.9 162.1 545.6 175.6 544.9 190.6 543.1 202.4 540.9 207.9 539.1 211.1 537.4 214.9 533.1ZM218.9 482.4 217.9 480.4 212.1 473.4 212.1 474.6 210.6 476.1 208.4 477.4 202.1 479.4 194.9 480.9 174.9 483.4 165.4 483.9 165.1 484.1 160.9 484.1 160.6 484.4 148.6 484.6 148.4 484.9 119.1 484.9 118.9 484.6 103.4 484.1 103.1 483.9 96.9 483.6 87.4 482.6 75.6 480.6 69.6 478.9 67.1 477.6 65.4 475.6 65.6 474.6 62.9 477.6 58.9 483.4 58.6 484.6 58.9 485.4 60.6 486.9 66.4 489.1 72.9 490.6 82.4 492.1 94.6 493.4 105.4 493.9 105.6 494.1 110.6 494.1 110.9 494.4 148.6 494.6 148.9 494.4 166.1 493.9 166.4 493.6 179.4 492.9 190.9 491.6 202.1 489.9 208.9 488.4 214.4 486.6 217.6 484.9 218.6 483.9Z" fill="#f0cad7" stroke="#f0cad7" stroke-width="0.5" fill-rule="evenodd"/>
<path d="M210.9 537.6 207.9 539.4 202.4 541.1 195.1 542.6 185.1 544.1 169.6 545.6 162.1 545.9 161.9 546.1 150.9 546.4 150.6 546.6 139.4 546.6 139.1 546.9 111.1 546.4 110.9 546.1 102.4 545.9 102.1 545.6 91.1 544.9 83.4 543.9 75.4 542.4 70.1 540.9 66.9 539.1 72.6 544.4 76.9 547.4 81.6 549.1 87.4 550.4 98.1 551.9 110.6 552.6 110.9 552.9 115.4 552.9 115.6 553.1 146.4 553.4 146.6 553.1 153.6 553.1 153.9 552.9 158.6 552.9 158.9 552.6 162.9 552.6 163.1 552.4 172.1 551.9 184.6 550.4 195.6 548.1 200.9 546.1 205.9 542.4ZM211.9 473.1 207.9 469.1 202.6 464.9 202.9 465.4 202.6 466.6 201.6 467.6 199.4 468.9 194.9 470.4 187.9 471.9 169.9 474.1 154.9 474.9 154.6 475.1 148.1 475.1 147.9 475.4 121.1 475.4 120.9 475.1 106.4 474.6 93.6 473.4 83.4 471.6 78.4 470.1 76.4 469.1 74.6 467.1 74.9 466.4 75.6 465.6 67.6 472.4 65.9 474.4 65.6 475.6 67.1 477.4 72.6 479.6 79.4 481.1 91.9 482.9 103.1 483.6 103.4 483.9 118.9 484.4 119.1 484.6 148.4 484.6 148.6 484.4 155.4 484.4 155.6 484.1 160.6 484.1 160.9 483.9 165.1 483.9 165.4 483.6 174.9 483.1 194.9 480.6 202.1 479.1 208.4 477.1 210.6 475.9 211.9 474.6Z" fill="#d98fa8" stroke="#d98fa8" stroke-width="0.5" fill-rule="evenodd"/>
<path d="M200.1 546.6 198.6 547.4 192.6 549.1 181.1 551.1 166.4 552.6 153.9 553.1 153.6 553.4 146.6 553.4 146.4 553.6 122.4 553.6 122.1 553.4 115.6 553.4 115.4 553.1 103.6 552.6 87.4 550.6 81.6 549.4 77.6 547.9 83.1 551.4 89.1 554.4 93.4 555.6 98.9 556.6 109.9 557.9 122.6 558.4 122.9 558.6 147.6 558.6 147.9 558.4 153.6 558.4 153.9 558.1 164.6 557.6 173.6 556.6 182.6 555.1 188.6 553.4 194.4 550.4ZM202.6 465.4 201.6 464.1 190.6 457.6 191.6 458.6 191.6 459.4 190.1 460.9 186.6 462.4 180.4 463.9 170.1 465.4 162.4 465.9 162.1 466.1 149.4 466.6 149.1 466.9 137.9 466.9 137.6 467.1 116.4 466.6 116.1 466.4 109.1 466.1 100.1 465.1 93.1 463.9 88.4 462.4 86.1 460.6 85.9 460.1 86.6 458.9 82.4 461.1 76.6 464.9 75.1 466.4 74.9 467.1 76.4 468.9 80.6 470.6 87.1 472.1 97.9 473.6 109.9 474.4 110.1 474.6 114.4 474.6 114.6 474.9 120.9 474.9 121.1 475.1 147.9 475.1 148.1 474.9 154.6 474.9 154.9 474.6 169.9 473.9 187.9 471.6 194.9 470.1 199.4 468.6 201.6 467.4 202.4 466.6Z" fill="#c86184" stroke="#c86184" stroke-width="0.5" fill-rule="evenodd"/>
<path d="M187.6 553.9 182.6 555.4 173.6 556.9 161.6 558.1 147.9 558.6 147.6 558.9 122.9 558.9 122.6 558.6 113.1 558.4 98.9 556.9 90.9 555.1 96.1 557.4 102.1 559.4 110.1 560.9 117.9 561.6 121.4 561.6 121.6 561.9 127.4 561.9 127.6 562.1 144.6 562.1 144.9 561.9 158.1 561.4 170.1 559.9 177.1 558.1ZM191.4 458.6 190.4 457.6 188.1 456.4 178.4 452.6 179.6 453.6 179.6 454.4 177.4 456.1 172.1 457.6 164.1 458.9 153.1 459.6 152.9 459.9 137.1 460.1 136.9 460.4 119.6 459.9 109.4 458.9 102.6 457.6 99.6 456.6 98.1 455.4 97.9 454.6 99.1 453.4 87.9 458.1 86.4 459.4 86.1 460.1 87.1 461.4 89.6 462.6 93.1 463.6 100.1 464.9 109.1 465.9 116.1 466.1 116.4 466.4 137.6 466.9 137.9 466.6 149.1 466.6 149.4 466.4 158.6 466.1 175.9 464.4 183.9 462.9 188.1 461.6 190.9 460.1 191.4 459.4Z" fill="#b6335c" stroke="#b6335c" stroke-width="0.5" fill-rule="evenodd"/>
<path d="M173.4 559.4 163.1 561.1 155.1 561.6 154.9 561.9 150.9 561.9 150.6 562.1 144.9 562.1 144.6 562.4 121.6 562.1 121.4 561.9 117.9 561.9 110.1 561.1 104.4 560.1 112.6 562.1 121.6 563.6 130.1 564.1 130.4 564.4 139.1 564.6 139.4 564.4 145.1 564.4 155.4 563.4 164.9 561.6ZM98.1 454.9 99.6 456.4 103.6 457.6 109.4 458.6 119.6 459.6 136.9 460.1 137.1 459.9 152.9 459.6 167.9 458.1 172.1 457.4 177.4 455.9 179.4 454.4 179.4 453.6 177.6 452.4 173.1 450.9 163.6 448.6 151.1 446.9 138.6 446.4 138.4 446.6 132.4 446.6 132.1 446.9 124.1 447.4 112.6 449.4 100.6 452.9 98.6 453.9Z" fill="#a1063a" stroke="#a1063a" stroke-width="0.5" fill-rule="evenodd"/>
<path transform="scale(0.1)" d="M1468 4477l-29-8-56-2-52 4-23 8 24 8 64 3 54-5 15-4M1547 4482l-21-8-37-6-102-4-113 7-36 9-9 8 15 9 41 7 118 4 108-9 28-7 8-6M1624 4493l-32-14-59-8M1525 4470l-17-2M1492 4467l-18-1M1321 4467l-6 0M1292 4469l-15 1M1265 4471l-14 1M1242 4473l-70 13-18 9-2 8 14 9 29 7 95 10 121 2 114-7 79-14 18-9 2-8M1699 4508l-19-11-33-9M1642 4487l-5-1M1628 4485l-3-1M1613 4482l-3 0M1162 4487l-3 0M1150 4489l-6 1M1139 4491l-5 1M1128 4493l-34 10-17 11 0 8 19 11 83 16 131 9 139-1 142-11 84-17 21-10 3-11M1771 4527l-32-16M1735 4509l-3 0M1727 4507l-3 0M1716 4505l-3-1M1060 4511l-3 1M1049 4514l-33 12-12 14 9 11 28 11 55 11 74 9 154 7 167-3 163-14 51-9 45-13 17-9 5-9-1-5M1839 4551l-29-17M1804 4532l-2-1M969 4541l-28 14-4 5 0 11 17 12 44 14 133 18 182 9 196-3 178-16 74-12 54-15 20-11 6-10-2-6M1903 4578l-21-14M898 4571l-25 18 0 12 7 7 41 17 46 11 166 19 214 7 222-6 188-19 69-13 49-15 27-17 1-14M1962 4609l-16-13M832 4606l-19 15-1 8 9 13 40 18 57 13 186 22 239 8 247-8 209-21 91-17 41-13 30-19 4-9-3-7M2016 4643l-9-9M780 4640l-5 2M771 4645l-12 11-2 8 10 15 37 17 70 17 78 12 125 12 261 9 271-8 229-23 70-13 75-21 30-18 6-12-3-8M2065 4680l-8-8M719 4685l-9 9-2 9 11 16 39 18 76 19 92 13 127 12 281 9 292-8 157-13 90-12 86-16 70-20 22-11 15-14 2-8-3-8M2109 4719l-8-7M676 4724l-5 5M669 4732l-5 11 3 9 23 17 49 18 98 19 90 12 161 12 306 6 306-12 133-13 114-17 71-15 68-23 24-19 2-9-3-9M2147 4760l-3-3M632 4772l-6 14 3 9 25 18 46 17 108 22 148 17 116 8 322 7 322-13 114-11 131-18 90-18 55-18 38-23 6-13-3-10M2179 4803l-2-1M599 4817l-5 13 3 10 25 19 71 23 91 17 99 13 175 14 142 5 195 1 313-12 246-26 107-20 76-23 34-19 9-9 2-10-3-10M2205 4848l-2-2M571 4864l-4 12 4 10 26 19 61 21 106 21 102 13 181 14 194 7 154 0 212-6 134-8 240-27 121-24 60-18 21-10 20-17 6-13-4-10M549 4912l-2 10 4 10 21 17 28 13 63 17 135 23 113 12 151 10 333 6 321-12 160-14 112-15 100-18 93-26 37-21 9-10 1-14M2227 4897l-2-3M535 4959l-3 10 6 12 25 19 23 9 64 19 112 19 141 16 130 9 189 6 173 1 304-11 186-16 113-14 135-26 62-20 37-21 9-10 2-14M2241 4942l-1-2M525 5010l-2 7 4 10 11 10 40 20 65 19 139 23 259 22 204 7 150 0 296-11 178-14 136-17 96-17 102-29 38-21 9-10 1-15M521 5061l3 14 11 10 40 20 86 23 119 19 138 14 180 11 297 4 320-12 177-15 115-15 129-25 70-21 38-21 9-11 2-12M524 5110l3 12 11 11 40 20 65 18 139 23 259 22 204 7 150 0 319-12 176-15 115-15 96-17 88-24 52-26 9-10 3-11M532 5158l0 1M533 5163l13 17 17 10 52 19 76 17 97 15 115 12 187 12 305 4 293-10 134-10 176-21 122-23 75-23 37-20 9-11 3-10M547 5206l0 2M549 5211l12 15 16 10 52 19 74 17 95 14 155 15 154 9 288 4 310-11 171-15 112-15 93-16 72-19 49-19 16-11 10-15M570 5259l11 13 16 9 50 19 73 16 93 14 234 21 170 6 178 1 212-7 134-8 232-25 91-16 71-19 48-19 14-10 10-11M596 5303l11 13 15 9 49 18 70 16 90 14 107 11 163 10 294 5 324-13 235-25 89-16 68-18 46-18 14-10 10-13M629 5348l25 20 46 17 67 15 87 13 228 19 312 6 261-9 228-21 168-30 55-17 20-9 19-16M2148 5333l0-1M672 5395l38 21 54 16 163 25 219 15 248 3 247-8 217-20 160-29 52-16 35-21M713 5433l38 21 51 14 153 24 206 14 233 3 232-8 204-18 150-27 49-16 32-19M765 5472l32 17 47 14 142 21 191 14 216 3 216-8 189-17 139-25 46-15 24-12M825 5510l23 11 43 13 130 19 174 13 198 2 197-7 172-16 128-22 60-23M883 5540l2 1M888 5543l54 18 117 18 156 11 177 2 177-6 119-10 126-19 70-22M952 5570l2 1M958 5573l61 16 112 15 125 7 136 1 136-4 123-10 110-17 60-18M1032 5598l5 1M1041 5601l55 11 74 8 116 7 105 1 201-10 92-13 54-12M1742 5592l4-2M1750 5589l2-1M1101 5615l3 1M1111 5618l6 1M1122 5620l112 15 157 4 155-8 109-16M1660 5614l4-1M1182 5630l2 1M1193 5633l6 1M1208 5635l82 8 79 2 102-3 73-7M1549 5635l13-2M1568 5632l9-2M1585 5628l4 0M1290 5643l12 1M1324 5645l107 0M1448 5644l19-1M1486 5641l4-1M1388 4476l80 1 156 16 75 15 72 19 68 24 64 27 59 31 54 34 49 37 44 39 38 41 36 51M2192 4826l16 30M2215 4871l4 7M2225 4894l15 46M1388 4476l157 4 76 10 74 14 71 18 67 23 63 27 59 30 54 33 48 37M2071 4685l22 19M1388 4476l153 2 148 22 69 18 66 22 81 36M1388 4476l75-2 147 10 70 13 68 17 64 21M1388 4476l144-1 70 7 68 11 65 16M1755 4516l11 4M1388 4476l137-3 67 6 65 11M1388 4476l130-4 73 7M1612 4482l10 2M1642 4487l10 2M1388 4476l121-6 69 6M1597 4480l9 1M1388 4476l112-7 63 5M1388 4476l101-8 58 4M1388 4476l45-7 53-2M1500 4468l22 2M1388 4476l39-8 65-1M1388 4476l33-8 38-3M1476 4466l10 1M1388 4476l27-8 31-3M1388 4476l20-8 33-3M1388 4476l13-9 24-2M1388 4476l6-9 9-3M1388 4476l-2-12M1388 4476l-8-8-12-3M1388 4476l-15-8-19-3M1388 4476l-21-8-25-3M1388 4476l-28-8-46-1M1388 4476l-34-7-46-2M1292 4469l-6 0M1388 4476l-41-7-66 1M1388 4476l-46-6-61 0M1266 4471l-15 1M1388 4476l-52-5-102 3M1388 4476l-57-5-112 5M1201 4480l-9 1M1388 4476l-123-3-89 11M1388 4476l-131-1-116 16M1388 4476l-139 0-67 8-118 26M1388 4476l-145 2-71 8-68 13-66 18M1388 4476l-150 4-73 9-71 14-68 18M1004 4529l-43 15M931 4557l-10 5M1388 4476l-154 6-148 25-70 19-66 23-63 28-57 30M812 4619l-17 11M777 4641l-8 6M1388 4476l-157 8-77 11-145 36-68 24-63 28-59 31-53 35-63 50M681 4719l-7 7M1388 4476l-159 10-152 28-72 21-68 25-64 29-60 32-54 35-49 38-44 41-38 42-32 44-26 45-21 46-14 47M1388 4476l-159 12-153 30-141 48-64 29-60 33-54 36-49 39-44 40-38 43-32 44-27 46-20 46-15 47-9 48-3 47 6 64M529 5144l18 62M1388 4476l-80 4-156 23-75 19-140 49-64 31-59 33-54 37-49 39-44 41-38 43-32 45-26 46-20 46-15 48-9 47-3 48 3 47 9 48 15 46 20 46 26 45 32 43M642 5363l13 14M667 5391l8 7M1388 4476l-79 5-154 25-74 20-138 51-63 31-59 34-54 37-48 40-43 42-37 43-32 45-26 46-20 47-15 48-8 47-3 48 3 48 8 47 15 46 20 46 26 44 32 43 37 41 43 38 75 53M870 5533l10 5M1388 4476l-77 6-151 27-142 45-128 60-58 35-52 38-48 40-42 42-36 44-32 46-25 46-20 47-14 48-8 48-3 47 3 48 8 47 14 46 20 45 25 44 32 43 36 40 42 38 48 36 91 52M941 5566l11 4M1388 4476l-75 7-147 29-138 46-124 62-107 74-46 41-41 42-36 45-30 46-25 46-19 48-14 47-8 48-3 48 3 48 8 47 14 46 19 45 25 43 30 42 36 40 41 38 46 35 51 32 56 29 71 29M1388 4476l-144 21-138 39-127 56-111 70-94 80-74 88-29 46-24 47-18 48-14 48-8 48-2 48 2 47 8 47 14 46 18 45 24 43 29 42 34 39 40 37 44 35 50 32 53 28 58 24 106 31M1388 4476l-69 9-135 32-127 49-115 65-98 76-80 86-61 91-40 95-20 97-3 48 3 47 7 47 13 46 18 44 22 43 28 41 33 40 38 36 42 35 47 31 51 27 56 24 69 22M1388 4476l-130 24-124 42-115 59-101 72-84 83-67 89-47 95-29 96-10 96 10 94 29 90 21 43 26 41 31 39 36 36 40 34 44 30 49 27 52 23 56 19 59 15M1185 5631l10 2M1388 4476l-121 25-116 44-107 60-95 73-78 84-63 90-44 95-27 97-7 48 0 95 18 92 36 87 53 79 71 69 41 30 46 27 49 22 52 19 83 18M1198 5634l10 1M1388 4476l-112 27-107 45-98 61-87 74-73 85-57 91-41 95-25 97-6 48 0 95 16 92 33 87 49 78 66 69 80 55 45 22 48 18 50 13 62 10M1388 4476l-101 28-98 46-89 62-79 76-66 85-52 91-37 96-23 97-5 49 0 95 15 92 30 86 44 78 59 67 73 55 84 39 46 13 48 8M1254 5640l8 1M1388 4476l-90 29-87 47-80 63-70 76-59 86-46 92-33 97-12 48-13 97 0 96 13 91 27 86 40 78 52 67 65 53 75 38 41 13 57 8M1290 5643l8 0M1388 4476l-78 30-76 48-69 64-61 77-51 86-40 93-29 96-10 49-12 97 0 96 4 46 18 89 29 81 40 72 51 61 61 45 69 29 63 8M1388 4476l-66 31-64 49-58 64-51 77-43 87-34 93-25 97-18 146 0 96 10 91 19 85 30 77 38 66 47 53 56 36 29 12 42 8M1388 4476l-53 31-51 50-47 65-42 78-34 87-28 93-19 97-15 147 0 95 8 91 16 85 23 77 31 66 38 52 45 36 24 11 34 7M1330 5645l5 1M1388 4476l-40 32-38 50-35 65-32 78-26 88-20 93-15 98-11 146 2 142 9 88 15 81 20 71 26 59 32 44 35 27 19 7 22 0M1388 4476l-26 32-26 50-23 66-20 78-31 182-10 97-7 147 1 141 6 88 10 81 14 71 17 59 20 44 23 27 13 6 17 0M1388 4476l-13 32-12 50-20 145-15 181-8 244 3 230 11 152 18 102 11 27 6 6 9 0M1388 4476l7 652-1 381-5 136M1388 4476l15 32 15 50 25 144 18 181 10 244-5 229-13 152-22 103-13 27-7 7-9 0M1388 4476l29 31 28 50 25 65 23 78 19 87 15 94 10 97 8 146-4 187-8 85-13 76-17 66-21 52-24 36-13 12-19 7M1422 5645l-7 0M1388 4476l43 31 40 49 38 65 33 77 28 87 21 93 16 97 12 146-2 142-10 88-16 82-21 71-28 60-33 45-38 27-30 8M1388 4476l56 30 53 48 49 65 44 76 36 87 29 93 20 96 16 146-3 142-13 89-20 81-29 72-36 60-44 46-49 28-49 9M1388 4476l69 29 65 48 61 63 53 76 45 86 35 93 25 96 19 146 0 95-10 91-20 86-30 78-40 66-50 54-57 38-31 12-43 9M1468 5643l-17 0M1388 4476l81 28 77 47 72 62 62 76 53 85 42 92 29 95 11 49 12 97 0 95-5 47-18 89-29 82-42 73-53 61-62 47-72 30-58 10M1388 4476l92 27 89 45 82 62 72 74 60 85 47 91 34 95 12 49 14 97 0 95-14 92-27 86-41 79-54 68-66 55-77 40-42 13-59 10M1495 5640l-7 1M1388 4476l103 26 100 44 91 60 80 74 68 83 53 91 38 95 23 96 5 49 0 95-15 92-30 87-46 79-60 69-74 56-87 41-46 13-58 10M1388 4476l114 24 109 43 100 59 88 72 74 83 58 90 42 94 25 97 7 48 0 95-17 92-34 88-50 79-66 70-81 57-95 42-51 15-54 10M1388 4476l123 23 118 41 108 58 96 71 80 82 63 89 45 93 27 96 9 97-9 94-27 90-45 84-63 76-80 65-46 27-50 24-53 19-65 17M1600 5626l-10 2M1388 4476l131 21 126 40 116 56 102 70 86 81 67 88 48 93 29 96 10 96-10 94-29 91-21 43-27 41-31 40-36 37-41 34-45 32-49 28-53 24-56 21-60 15M1614 5623l-10 2M1388 4476l139 19 133 39 122 54 108 69 90 79 71 88 51 92 31 96 8 47 2 48-2 48-8 47-13 46-18 45-23 43-28 42-33 40-38 38-43 35-47 32-52 28-56 25-60 21-95 23M1388 4476l73 6 143 28 134 45 120 60 104 73 85 83 34 44 30 46 24 46 18 47 14 48 8 48 3 48-3 47-8 47-14 46-18 45-24 44-30 43-34 40-40 38-45 36-49 32-55 30-58 25-73 25M1683 5608l-22 5M1388 4476l75 6 148 25 139 43 125 59 56 35 52 37 46 40 41 42 36 43 31 45 25 47 19 47 14 47 8 48 3 48-3 47-8 47-14 47-19 45-25 44-31 43-36 41-41 38-46 36-52 34-86 43M1825 5562l-10 4M1388 4476l77 5 152 23 143 42 129 57 57 34 53 37 48 39 42 41 37 43 31 45 26 46 19 47 15 47 8 47 3 48-3 48-8 47-15 47-19 45-26 45-31 43-37 41-42 39-48 37-53 34-78 40M1388 4476l79 4 155 21 74 18 139 48 63 30 59 33 53 36 49 39 43 40 38 43 31 44 26 46 21 46 14 47 9 48 3 48-3 47-9 48-14 46-21 46-26 45-31 44-38 41-75 65M1993 5473l-9 5M1388 4476l159 10 77 12 147 38 68 26 64 28 60 33 54 35 49 38 44 41 38 42 32 44 26 45 21 46 14 47 9 48 3 47-3 48-9 47-14 47-21 46-26 45M2169 5304l-28 36M1388 4476l159 8 153 27 72 21 69 24 64 28 60 32 54 35 49 37 44 40 38 42 32 43 27 45 20 46 15 47 9 47 3 48-5 55M2245 5133l-1 8" fill="none" stroke="#000" stroke-opacity="0.13" stroke-width="0.5" vector-effect="non-scaling-stroke"/>
<path transform="scale(0.1)" d="M1104 4499h1m11-3h1m30-7h1m4 9h1m1-3h1m4-3h1m5-3h1m6-3h1m9-2h1m10-3h1m11-2h1m13-3h1m9 12h1m-1-2h1m-1 4h1m1-6h1m-1 7h1m2-9h1m-1-8h1m0 19h1m2-13h1m0 15h1m3-17h1m0 19h1m4-21h1m1-4h1m-1 26h1m5-23h1m7-2h1m8-2h1m10-1h1m0-1h1m9 0h1m10-1h1m0 11h1m-1-1h1m-1 2h1m0-3h1m-1 4h1m1-4h1m-1 5h1m1-6h1m-1 7h1m1-8h1m0 9h1m1-10h1m0 11h1m-1-18h1m2 6h1m0 13h1m2-14h1m0 14h1m3-15h1m0 16h1m-1-21h1m3 5h1m0 17h1m4-18h1m0 18h1m1-23h1m1 4h1m1 20h1m4-20h1m0 20h1m3-25h1m0 4h1m0 21h1m5-21h1m0 22h1m4-26h1m-1 4h1m1 22h1m4-22h1m1 22h1m4-26h1m-1 3h1m0 9h1m0 14h1m4-23h1m1 23h1m4-26h1m-1 3h1m1 22h1m4-21h1m0 21h1m4-25h1m0 4h1m0 21h1m4-21h1m0 20h1m4-20h1m0-4h1m0 24h1m3-19h1m0 18h1m4-18h1m0 18h1m0-23h1m2 6h1m0 16h1m3-15h1m0 14h1m2-14h1m0 13h1m-1-19h1m2 7h1m0 11h1m1-10h1m0 9h1m1-8h1m-1 8h1m1-7h1m-1 6h1m0-15h1m0 10h1m-1 4h1m0-3h1m-1 2h1m-1-1h1m9-11h1m7 0h1m2 1h1m10 1h1m8 1h1m1 29h1m6-27h1m0 25h1m2-27h1m2 3h1m1 22h1m4-20h1m0 19h1m3-17h1m0 15h1m0-21h1m1 7h1m0 12h1m2-10h1m-1 8h1m1-6h1m-1 4h1m-1-2h1m6-11h1m13 2h1m12 2h1m10 2h1m9 3h1m7 2h1m5 3h1m4 3h1m2 3h1m-1 5h1m0-3h1m-1-11h1m16 3h1m14 3h1m12 3h1m9 4h1m-677 43h1m0-5h1m3-4h1m6-5h1m9-5h1m11-4h1m37 1h1m0-4h1m-1 8h1m2-12h1m0 16h1m4-19h1m0 22h1m6-26h1m1 30h1m9 3h1m12 3h1m31-38h1m0 2h1m2 3h1m4 3h1m5 3h1m7 2h1m9 3h1m10 2h1m12 2h1m13 2h1m14 2h1m16 2h1m3-27h1m8 1h1m3 27h1m4-25h1m10 1h1m2 25h1m7-24h1m10 25h1m0-24h1m11 1h1m6 24h1m5-24h1m12 1h1m0 23h1m12-23h1m6 23h1m5-23h1m13 0h1m0 23h1m12-23h1m7 23h1m5-24h1m13 0h1m-1 23h1m12-24h1m6 23h1m5-24h1m11-1h1m1 24h1m8-25h1m9 24h1m0-25h1m10-2h1m5 25h1m16-1h1m16-2h1m14-2h1m13-3h1m11-2h1m10-3h1m9-2h1m6-3h1m5-3h1m4-3h1m22 36h1m14-3h1m11-4h1m9-4h1m6-26h1m0 23h1m4-19h1m0 15h1m2-11h1m-1 7h1m0-4h1m34-2h1m12 5h1m9 4h1m7 4h1m4 5h1m-1 9h1m0-4h1m24-2h1m14 5h1m11 5h1m-938 37h1m47-11h1m1-6h1m-1 11h1m3-16h1m1 22h1m6-28h1m10-5h1m43 1h1m4 4h1m7 5h1m9 4h1m12 4h1m15 4h1m17 4h1m20 3h1m22 4h1m14-35h1m8 37h1m7-34h1m17 3h1m19 2h1m21 2h1m22 2h1m23 2h1m25 1h1m25 1h1m25 0h1m26 0h1m27 0h1m26 0h1m26-1h1m25-1h1m25-2h1m24-1h1m23-2h1m22-3h1m21-2h1m19-3h1m-1 34h1m17-37h1m7 34h1m24-3h1m21-4h1m20-4h1m16-4h1m15-4h1m11-5h1m9-4h1m6-5h1m47 37h1m10-5h1m6-28h1m1 22h1m3-16h1m-1 11h1m1-6h1m30 4h1m13 6h1m9 6h1m6 6h1m-1085 36h1m10-7h1m40-12h1m1-6h1m-1 13h1m4-19h1m1 25h1m9 6h1m13 6h1m47-38h1m11 5h1m14 5h1m18 5h1m20 4h1m24 4h1m26 4h1m28 3h1m30 3h1m33 3h1m4-36h1m28 2h1m29 2h1m30 2h1m31 1h1m31 0h1m33 0h1m32 0h1m33 0h1m32-1h1m32-2h1m30-1h1m23 34h1m6-36h1m29 33h1m-1-36h1m34 33h1m32-3h1m30-4h1m28-4h1m25-4h1m23-5h1m20-5h1m17-5h1m57 32h1m16-6h1m13-6h1m8-6h1m4-7h1m1-6h1m49 18h1m6 7h1m2 7h1m-1207 40h1m6-7h1m10-8h1m33-13h1m1-7h1m0 14h1m6 7h1m10 7h1m15 6h1m72-30h1m20 6h1m24 5h1m27 4h1m30 5h1m32 4h1m35 3h1m37 3h1m39 2h1m26-37h1m14 39h1m21-37h1m37 1h1m37 1h1m38 0h1m39 0h1m38-1h1m38-1h1m11 38h1m26-39h1m16 37h1m42-2h1m40-3h1m39-4h1m37-3h1m35-5h1m32-4h1m29-5h1m26-5h1m23-6h1m51 36h1m22-7h1m17-6h1m14-7h1m10-7h1m5-7h1m45 12h1m6 8h1m0 15h1m1-7h1m-1310 43h1m6-8h1m39-22h1m2 8h1m6 7h1m12 8h1m16 7h1m70-32h1m22 6h1m26 5h1m30 5h1m34 5h1m36 5h1m39 3h1m42 4h1m44 2h1m45 3h1m62-39h1m44 1h1m43 0h1m44 0h1m44-1h1m104 37h1m47-3h1m45-3h1m43-3h1m42-5h1m38-4h1m36-6h1m33-5h1m29-6h1m73 32h1m24-7h1m20-7h1m15-7h1m10-8h1m46 6h1m7 8h1m0 16h1m1-8h1m-1403 47h1m7-9h1m33-23h1m2 8h1m7 8h1m12 8h1m18 8h1m66-34h1m25 6h1m29 6h1m33 6h1m37 5h1m39 5h1m43 4h1m46 4h1m48 3h1m116-39h1m49 1h1m49 1h1m49-1h1m49 0h1m49-2h1m115 38h1m50-4h1m47-4h1m45-5h1m43-5h1m39-5h1m36-6h1m32-7h1m71 34h1m26-7h1m21-8h1m17-8h1m11-8h1m49 14h1m0 18h1m1-9h1m-1485 49h1m7-10h1m27-24h1m2 9h1m8 9h1m13 8h1m19 8h1m63-35h1m27 7h1m31 7h1m36 6h1m39 6h1m43 5h1m46 4h1m174-35h1m52 2h1m53 1h1m53 1h1m54-1h1m54-1h1m54-1h1m52-2h1m124 37h1m51-4h1m49-5h1m46-6h1m42-6h1m39-6h1m35-7h1m68 35h1m28-8h1m22-8h1m18-9h1m12-9h1m44 15h1m0 19h1m1-9h1m-1525 16h1m2 9h1m9 9h1m14 9h1m79-28h1m29 8h1m33 7h1m38 6h1m42 6h1m46 6h1m125-37h1m52 3h1m54 3h1m55 2h1m58 1h1m57 0h1m59 0h1m58-1h1m58-2h1m57-2h1m55-3h1m128 37h1m52-5h1m49-6h1m45-7h1m42-7h1m37-7h1m95 28h1m24-9h1m19-9h1m13-9h1m38 15h1m2 10h1m-1589 17h1m1-9h1m0 19h1m9 9h1m14 10h1m51-37h1m25 8h1m30 8h1m35 7h1m40 7h1m45 7h1m123-36h1m52 4h1m56 3h1m57 3h1m60 2h1m60 1h1m62 1h1m62-1h1m62-1h1m62-1h1m60-3h1m59-3h1m58-4h1m182 30h1m47-7h1m44-7h1m39-8h1m34-8h1m85 27h1m19-9h1m13-10h1m8-9h1m24 25h1m3 10h1m-1643 18h1m2-10h1m0 20h1m9 9h1m62-27h1m26 8h1m31 8h1m37 8h1m42 7h1m118-35h1m52 5h1m56 5h1m58 3h1m60 3h1m63 2h1m64 2h1m65 0h1m65 0h1m66-1h1m65-2h1m63-3h1m63-3h1m60-4h1m58-5h1m54-6h1m123 34h1m46-8h1m41-8h1m35-8h1m31-9h1m50 37h1m20-10h1m13-10h1m8-10h1m18 26h1m-1679 28h1m1-10h1m1 20h1m45-27h1m21 9h1m27 9h1m33 9h1m38 8h1m110-34h1m51 6h1m54 5h1m58 5h1m60 4h1m64 3h1m65 2h1m67 1h1m67 1h1m69-1h1m68-1h1m68-2h1m66-3h1m65-3h1m63-5h1m60-5h1m57-6h1m54-6h1m116 32h1m42-8h1m37-9h1m32-9h1m66 28h1m15-11h1m8-10h1m1-10h1m-1698 65h1m2-10h1m0 21h1m24-38h1m15 10h1m22 10h1m28 9h1m33 8h1m100-32h1m48 7h1m52 6h1m56 6h1m60 4h1m62 4h1m66 3h1m67 3h1m283 0h1m70-2h1m69-3h1m67-4h1m65-4h1m62-6h1m59-6h1m56-6h1m51-8h1m107 32h1m38-9h1m32-10h1m27-9h1m50 26h1m7-31h1m0 21h1m2-10h1m-1722 66h1m22-27h1m16 10h1m22 9h1m28 10h1m87-31h1m44 7h1m49 7h1m54 7h1m57 5h1m62 5h1m277-38h1m70 0h1m71 0h1m286 39h1m67-5h1m64-5h1m60-6h1m57-7h1m53-8h1m48-8h1m95 31h1m33-10h1m27-10h1m21-10h1m23 37h1m8-10h1m2-11h1m-1727 29h1m10 10h1m16 11h1m22 9h1m71-29h1m40 8h1m45 8h1m50 7h1m54 6h1m195-34h1m67 3h1m69 3h1m71 1h1m72 1h1m72-1h1m72-1h1m72-2h1m71-3h1m208 35h1m62-7h1m58-7h1m53-7h1m49-9h1m44-8h1m47 38h1m33-9h1m27-10h1m21-11h1m27 27h1m2-10h1m-1737 18h1m3 11h1m10 10h1m16 10h1m54-28h1m35 9h1m40 8h1m45 8h1m51 7h1m120-36h1m62 5h1m66 4h1m68 3h1m70 2h1m72 2h1m74 1h1m73-1h1m74-1h1m73-2h1m72-3h1m70-4h1m67-5h1m192 30h1m55-8h1m49-8h1m45-9h1m76 29h1m27-10h1m21-11h1m15-10h1m8 26h1m-1731 19h1m3 10h1m10 11h1m36-28h1m29 10h1m34 9h1m40 8h1m46 8h1m109-34h1m59 5h1m63 5h1m66 4h1m69 4h1m71 2h1m73 2h1m74 0h1m74 0h1m75-1h1m73-3h1m73-3h1m71-4h1m68-4h1m66-6h1m62-6h1m116 33h1m49-8h1m45-9h1m39-10h1m59 28h1m21-10h1m15-11h1m8-10h1m-1719 55h1m3 11h1m9 10h1m8-37h1m22 10h1m28 9h1m35 9h1m40 8h1m95-32h1m55 7h1m59 5h1m63 5h1m67 5h1m69 3h1m71 2h1m74 2h1m74 0h1m74 0h1m75-1h1m74-3h1m73-3h1m71-4h1m68-4h1m66-6h1m63-6h1m58-7h1m103 31h1m45-9h1m39-9h1m33-10h1m41 27h1m14-10h1m8-11h1m2-10h1m-1698 65h1m3 10h1m11-26h1m22 10h1m28 9h1m34 9h1m79-31h1m51 7h1m55 7h1m59 6h1m63 5h1m66 4h1m69 3h1m445 1h1m73-3h1m71-4h1m68-5h1m66-6h1m62-6h1m58-7h1m55-8h1m42 39h1m44-9h1m39-9h1m33-10h1m27-10h1m6 37h1m15-11h1m8-10h1m-1667 28h1m15 10h1m22 10h1m28 9h1m61-29h1m45 8h1m50 7h1m54 6h1m59 6h1m62 5h1m204-37h1m73 2h1m74 1h1m74-1h1m75-1h1m216 37h1m67-5h1m65-5h1m62-7h1m58-6h1m53-8h1m82 29h1m38-9h1m32-10h1m27-9h1m15 25h1m8-10h1m-1636 18h1m9 10h1m15 9h1m21 10h1m27 9h1m15-36h1m39 8h1m44 7h1m49 7h1m54 7h1m57 5h1m121-36h1m68 3h1m70 3h1m72 1h1m74 1h1m73-1h1m74-1h1m73-2h1m72-3h1m132 36h1m64-5h1m60-6h1m57-7h1m53-8h1m48-8h1m64 28h1m32-10h1m26-9h1m8 25h1m8-10h1m2-25h1m-1587 43h1m9 9h1m14 9h1m21 9h1m36-26h1m38 8h1m43 8h1m48 6h1m52 7h1m107-34h1m64 4h1m67 3h1m69 3h1m71 1h1m72 1h1m72-1h1m72-1h1m72-2h1m71-3h1m68-4h1m121 34h1m59-6h1m56-7h1m51-7h1m47-8h1m42-8h1m14 34h1m31-9h1m25-9h1m10 15h1m8-24h1m-1529 41h1m9 9h1m14 9h1m16-25h1m2 33h1m28-25h1m37 8h1m42 7h1m46 7h1m51 6h1m39-37h1m60 5h1m62 4h1m66 3h1m67 2h1m69 1h1m70 1h1m71 0h1m70-2h1m70-2h1m69-3h1m67-3h1m65-5h1m49 37h1m57-6h1m54-6h1m49-7h1m46-8h1m41-8h1m7 33h1m29-8h1m24-9h1m19-9h1m13-9h1m-1474 48h1m8 9h1m13 8h1m9-23h1m9 31h1m20-24h1m35 8h1m40 7h1m45 6h1m48 6h1m34-35h1m58 5h1m60 3h1m64 3h1m65 2h1m67 2h1m67 0h1m69 0h1m68-1h1m68-2h1m66-3h1m65-4h1m63-4h1m99 29h1m52-6h1m47-7h1m44-7h1m39-8h1m1 32h1m28-8h1m22-8h1m18-9h1m12-9h1m-1384 54h1m12 8h1m1-22h1m16 30h1m12-22h1m33 7h1m38 6h1m42 6h1m46 6h1m28-33h1m56 4h1m58 4h1m60 3h1m63 2h1m64 1h1m65 1h1m65-1h1m66-1h1m65-2h1m63-2h1m63-4h1m60-4h1m38 33h1m19-38h1m32 33h1m49-6h1m45-7h1m42-7h1m32 23h1m4-30h1m21 22h1m21-8h1m17-8h1m11-8h1m-1293 51h1m6-14h1m5 21h1m16 7h1m4-21h1m15 28h1m15-21h1m36 6h1m39 6h1m43 5h1m22-30h1m23 35h1m28-31h1m56 3h1m57 3h1m60 2h1m60 1h1m62 1h1m62-1h1m62-1h1m62-2h1m60-2h1m59-3h1m39 30h1m18-34h1m32 30h1m49-5h1m46-5h1m42-6h1m34 20h1m4-27h1m23 21h1m11-28h1m7 33h1m4-12h1m20-8h1m15-7h1m10-8h1m-1190 47h1m10 7h1m11-12h1m3 18h1m19 7h1m5-19h1m5 29h1m10-4h1m16-20h1m9 25h1m27-19h1m39 4h1m43 5h1m22-29h1m23 32h1m28-28h1m19 31h1m34-29h1m15 32h1m39-30h1m12 31h1m45-30h1m57 1h1m59-1h1m53 31h1m4-32h1m49 30h1m8-31h1m43 29h1m13-32h1m38 29h1m16-32h1m33 28h1m47-4h1m45-4h1m43-5h1m34 19h1m4-25h1m24 19h1m11-25h1m-1 36h1m13-7h1m0-10h1m22-7h1m17-6h1m14-7h1m-1057 41h1m13 6h1m16 6h1m20 5h1m6-17h1m2 26h1m11 5h1m2-9h1m16-17h1m10 22h1m25-18h1m4 22h1m32 4h1m1-22h1m42 4h1m44 2h1m45 3h1m47 1h1m40-27h1m8 28h1m44-27h1m4 28h1m49-1h1m-1-27h1m49 26h1m49-1h1m48-2h1m47-3h1m45-3h1m13 22h1m29-26h1m7 22h1m34-26h1m0 22h1m32-5h1m4-22h1m19 31h1m4-14h1m11-22h1m0 31h1m13-14h1m0 9h1m10-5h1m11-10h1m19-5h1m-880 34h1m18 5h1m20 4h1m21 12h1m2-8h1m12 12h1m13-8h1m3 11h1m19-26h1m0 30h1m3-11h1m18 14h1m11-11h1m1-19h1m9 33h1m21-12h1m7-18h1m26 20h1m14-18h1m21 20h1m20-19h1m16 20h1m27-19h1m9 20h1m33-20h1m4 20h1m39 0h1m-1-20h1m38 19h1m5-20h1m32 19h1m11-20h1m26 19h1m16-21h1m19 19h1m22-21h1m13 18h1m-1 14h1m26-35h1m0 33h1m6-15h1m18 12h1m7 4h1m5-19h1m8 16h1m1-5h1m9 2h1m9-17h1m1 11h1m20-3h1m5-12h1m10 7h1m14-11h1m0 7h1m11-4h1m10-8h1m-628 42h1m16 3h1m17 2h1m0-8h1m13 11h1m4 0h1m5 2h1m3-10h1m8 12h1m2-2h1m10 4h1m6-13h1m4 11h1m2 4h1m16 1h1m3-4h1m1-10h1m10 16h1m12-5h1m5 6h1m1-16h1m5 16h1m10 1h1m0-6h1m13-10h1m4 17h1m5 1h1m0-7h1m11 7h1m0-1h1m8-17h1m3 18h1m0-7h1m5 6h1m5 1h1m13 0h1m0-1h1m0-6h1m-1-11h1m11 18h1m7-1h1m5 1h1m0-8h1m6-11h1m5 18h1m-1-1h1m13-6h1m5 5h1m5 0h1m0-17h1m12 16h1m-1-6h1m18 5h1m0-16h1m5 10h1m10 4h1m13-6h1m-1-10h1m2 15h1m16-2h1m3-5h1m6-10h1m3 13h1m11-5h1m1 2h1m19-5h1m19-2h1m17-3h1" fill="none" stroke="#000" stroke-opacity="0.4" stroke-width="0.9" vector-effect="non-scaling-stroke" stroke-linecap="round"/>
<path d="M117.6 710.4 114.9 711.1 113.1 712.1 109.4 715.6 106.9 720.1 105.9 723.4 105.4 727.6 105.6 731.1 106.6 735.1 107.9 737.9 111.4 742.4 114.9 744.9 119.1 746.4 122.6 746.4 124.9 745.1 125.6 743.9 126.1 741.9 126.1 718.4 125.9 716.1 123.9 712.1 121.1 710.6ZM168.6 709.4 165.9 709.4 164.6 709.9 163.1 711.4 162.1 714.1 162.1 718.9 162.9 725.4 162.9 733.9 162.6 734.1 162.1 742.9 162.9 744.6 164.1 745.4 166.4 745.4 169.6 744.1 172.1 742.4 175.1 739.4 178.1 734.4 179.6 728.9 179.6 723.9 179.1 721.1 176.9 715.9 173.6 711.9 171.4 710.4Z" fill="#ffffff" stroke="#ffffff" stroke-width="0.5" fill-rule="evenodd"/>
<path d="M113.6 700.4 109.6 701.6 105.1 704.1 101.4 707.6 98.4 711.9 96.4 716.1 94.6 722.6 94.4 727.9 94.1 728.1 94.9 734.6 96.6 740.1 98.4 743.4 100.6 746.4 105.1 750.6 109.6 753.4 116.1 755.9 120.1 756.6 126.6 756.4 129.9 754.9 131.1 752.6 131.1 749.4 129.1 740.4 128.6 736.6 128.6 732.4 128.4 732.1 129.1 722.6 131.1 711.9 130.9 707.1 129.4 704.4 128.4 703.4 124.6 701.1 120.4 700.1ZM117.6 710.1 121.1 710.4 123.9 711.9 125.4 714.1 126.1 716.1 126.4 718.4 126.4 741.9 125.9 743.9 125.1 745.1 122.6 746.6 119.1 746.6 114.9 745.1 111.4 742.6 107.6 737.9 106.4 735.1 105.4 731.1 105.1 727.6 105.6 723.4 106.6 720.1 109.1 715.6 113.1 711.9 114.9 710.9ZM171.6 699.1 167.1 698.9 163.1 699.9 160.6 701.4 158.4 704.4 158.1 705.9 158.4 710.4 160.4 717.6 160.9 718.4 162.4 725.4 162.6 733.9 162.6 725.4 161.9 718.9 161.9 714.1 162.9 711.4 164.6 709.6 165.9 709.1 168.6 709.1 171.4 710.1 173.6 711.6 177.1 715.9 179.4 721.1 179.9 723.9 179.9 728.9 178.4 734.4 176.1 738.4 172.1 742.6 168.1 745.1 166.4 745.6 164.1 745.6 162.6 744.6 161.9 742.9 162.4 735.1 162.4 736.9 161.1 742.6 158.9 748.6 158.1 751.9 158.1 752.9 159.4 754.9 162.4 755.9 165.6 755.6 171.1 753.9 176.4 750.9 181.6 746.6 184.1 743.9 187.6 738.6 189.4 734.4 190.4 730.1 190.6 723.6 190.1 720.1 189.1 716.4 186.1 710.1 182.6 705.6 179.6 702.9 174.9 700.1Z" fill="#f0cad7" stroke="#f0cad7" stroke-width="0.5" fill-rule="evenodd"/>
<path d="M199.4 713.9 195.9 706.1 191.1 699.4 189.4 697.4 186.6 696.1 183.1 693.9 178.9 690.1 173.1 689.1 167.4 689.1 163.9 689.6 157.6 691.4 147.9 695.9 145.6 696.4 141.1 696.1 136.4 694.1 134.6 693.9 129.6 692.1 122.1 690.6 112.1 690.4 107.9 690.9 104.1 691.9 102.6 691.9 102.4 691.6 102.6 691.4 98.4 695.6 95.4 697.9 92.1 699.6 87.4 708.9 85.1 715.1 83.9 720.6 83.4 724.9 83.4 731.4 83.9 735.4 84.9 739.4 86.4 743.4 89.1 748.4 92.1 751.6 94.4 752.6 98.9 755.6 102.9 759.4 109.9 762.9 115.4 764.6 123.1 765.9 132.9 765.6 144.1 763.6 148.4 763.9 151.1 764.6 155.1 765.1 161.6 765.1 164.9 764.6 171.1 762.6 176.6 759.6 183.1 753.4 187.4 750.4 191.1 748.4 195.6 743.6 197.9 739.9 199.4 736.4 200.9 730.1 201.1 722.6 200.6 718.9ZM145.6 705.4 147.9 706.6 149.9 707.1 155.9 713.4 159.9 721.4 161.1 725.4 161.9 729.6 161.9 735.9 161.1 740.1 159.1 745.6 156.1 750.6 151.6 755.1 149.6 756.4 145.6 757.9 142.9 756.6 141.4 756.4 136.4 751.1 133.1 744.4 132.9 742.6 132.1 740.9 131.4 735.1 131.9 727.1 132.6 723.6 134.9 717.1 136.6 713.6 139.1 710.6 139.6 709.4 141.6 707.4ZM113.6 700.1 120.4 699.9 124.6 700.9 128.4 703.1 129.6 704.4 131.1 707.1 131.4 711.9 129.4 722.6 128.6 732.1 128.9 732.4 128.9 736.6 129.4 740.4 131.4 749.4 131.4 752.6 129.9 755.1 126.6 756.6 120.1 756.9 116.1 756.1 109.6 753.6 105.1 750.9 100.4 746.4 98.1 743.4 96.4 740.1 94.6 734.6 93.9 728.1 94.1 727.9 94.4 722.6 96.1 716.1 98.1 711.9 101.1 707.6 105.1 703.9 109.6 701.4ZM171.6 698.9 174.9 699.9 179.6 702.6 182.9 705.6 186.4 710.1 188.4 713.9 190.4 720.1 190.9 723.6 190.6 730.1 189.6 734.4 187.9 738.6 184.4 743.9 181.6 746.9 176.4 751.1 171.1 754.1 165.6 755.9 162.4 756.1 159.4 755.1 157.9 752.9 158.6 748.6 160.9 742.6 162.4 734.9 162.1 725.4 160.6 718.4 160.1 717.6 158.1 710.4 157.9 705.9 158.1 704.4 159.4 702.4 161.6 700.4 165.4 698.9 167.1 698.6Z" fill="#d98fa8" stroke="#d98fa8" stroke-width="0.5" fill-rule="evenodd"/>
<path d="M177.9 758.9 175.1 760.9 171.1 762.9 166.9 764.4 163.4 765.1 155.1 765.4 151.1 764.9 148.4 764.1 144.1 763.9 141.6 764.1 136.6 765.4 130.4 766.1 123.1 766.1 115.4 764.9 107.4 762.1 103.1 759.6 105.6 762.4 111.9 770.9 113.4 771.9 118.6 773.4 125.4 774.4 141.4 774.6 141.6 774.4 150.6 774.4 150.9 774.1 157.9 773.9 162.4 773.1 166.6 771.9 168.6 770.9 169.9 769.6 176.4 760.4ZM145.6 705.6 141.6 707.6 139.9 709.4 139.4 710.6 136.9 713.6 135.1 717.1 132.9 723.6 131.6 731.6 131.6 735.1 132.4 740.9 133.1 742.6 133.4 744.4 135.9 749.9 137.6 752.4 141.4 756.1 142.9 756.4 145.6 757.6 150.6 755.6 155.9 750.6 158.9 745.6 160.9 740.1 161.6 735.9 161.6 729.6 160.9 725.4 159.6 721.4 158.4 719.1 157.9 717.4 155.6 713.4 149.9 707.4 147.9 706.9ZM147.4 715.6 152.1 717.4 154.1 718.9 155.9 721.1 158.6 726.1 159.9 729.9 160.1 731.9 159.9 738.9 158.4 743.1 155.6 747.6 153.1 750.4 147.4 752.6 141.9 750.6 139.6 748.1 136.9 743.4 135.6 739.4 135.1 734.9 135.6 730.4 136.4 727.6 139.9 720.4 141.6 718.1ZM91.9 699.9 75.1 707.9 74.9 710.6 73.6 715.4 72.6 722.9 72.6 732.9 73.9 740.4 75.1 744.4 84.6 748.1 91.6 751.4 88.9 748.4 87.4 745.9 84.6 739.4 83.6 735.4 83.1 731.4 83.1 724.9 84.1 718.1 86.1 711.4 88.6 705.6ZM189.6 697.6 193.9 702.6 196.1 706.1 198.4 710.6 200.4 716.6 201.4 722.6 201.1 730.1 199.6 736.4 196.4 742.9 191.9 748.1 196.1 745.9 206.4 741.4 207.9 739.9 209.4 736.9 211.1 730.1 211.4 721.1 210.4 715.1 209.4 711.6 206.6 705.1 205.1 704.1 196.1 700.6ZM178.9 689.9 176.4 687.4 169.6 678.4 169.1 678.9 166.1 679.6 146.9 682.9 134.6 682.6 124.1 681.1 114.6 680.4 112.6 679.9 111.9 679.1 105.9 687.6 102.6 691.6 104.1 691.6 107.9 690.6 112.1 690.1 122.1 690.4 129.6 691.9 134.6 693.6 136.4 693.9 141.1 695.9 145.6 696.1 147.9 695.6 157.6 691.1 163.9 689.4 167.4 688.9 173.1 688.9Z" fill="#c86184" stroke="#c86184" stroke-width="0.5" fill-rule="evenodd"/>
<path d="M169.1 770.6 166.6 772.1 159.6 773.9 155.1 774.4 150.9 774.4 150.6 774.6 141.6 774.6 141.4 774.9 129.1 774.9 128.9 774.6 123.1 774.4 115.6 772.9 112.6 771.6 114.9 774.6 119.4 779.4 120.9 780.6 122.1 781.1 127.4 782.1 132.6 782.4 132.9 782.6 146.4 782.6 155.9 781.6 160.6 780.1 165.6 775.1ZM147.4 715.9 141.6 718.4 140.1 720.4 136.6 727.6 135.9 730.4 135.4 734.9 135.9 739.4 137.1 743.4 139.9 748.1 141.9 750.4 147.4 752.4 153.1 750.1 155.4 747.6 158.1 743.1 159.6 738.9 159.9 736.9 159.6 729.9 158.4 726.1 155.6 721.1 153.1 718.1ZM149.1 725.9 154.6 731.1 155.9 734.4 156.1 736.6 154.9 740.6 150.6 744.9 148.6 746.4 142.9 741.1 141.6 737.9 141.6 734.9 142.9 731.4 148.4 725.9ZM74.9 707.9 66.6 712.4 61.6 716.4 61.6 726.9 61.4 727.1 61.6 736.4 67.1 740.4 74.9 744.1 73.6 740.4 72.4 732.9 72.4 722.9 72.9 718.4 74.6 710.6ZM206.6 704.9 207.6 706.4 209.6 711.6 210.6 715.1 211.6 721.1 211.6 728.1 210.9 732.6 209.6 736.9 208.1 739.9 206.9 741.1 214.1 737.1 219.9 732.6 221.1 728.6 221.4 721.4 221.1 721.1 221.1 718.4 219.9 712.6 214.6 708.9ZM169.4 678.1 166.4 674.1 161.4 669.1 159.9 670.1 157.1 670.9 145.1 672.4 136.1 672.4 135.9 672.1 127.4 671.6 121.6 670.6 120.6 670.1 120.1 669.4 114.6 675.4 112.4 678.4 112.1 679.4 114.6 680.1 124.1 680.9 134.6 682.4 146.9 682.6 166.1 679.4 169.1 678.6Z" fill="#b6335c" stroke="#b6335c" stroke-width="0.5" fill-rule="evenodd"/>
<path d="M160.4 780.4 159.6 780.9 155.9 781.9 146.4 782.9 132.9 782.9 125.6 782.1 121.6 781.1 125.9 784.4 133.1 787.6 137.9 788.4 142.9 788.4 147.1 787.9 153.6 785.1 155.9 783.9ZM149.1 726.1 148.4 726.1 143.1 731.4 141.9 734.9 141.9 737.9 143.1 741.1 148.6 746.1 150.6 744.6 154.6 740.6 155.9 736.6 155.6 734.4 154.4 731.1ZM61.4 716.4 57.6 721.1 56.1 726.1 57.6 731.9 61.4 736.1 61.4 728.1 61.1 727.9 61.4 726.9ZM220.1 712.9 221.4 718.4 221.4 721.1 221.6 721.4 221.4 728.6 220.1 732.6 223.9 727.9 225.4 722.9 223.9 717.4ZM120.4 669.6 122.6 670.6 129.6 671.6 135.9 671.9 136.1 672.1 145.1 672.1 157.1 670.6 160.9 669.4 161.1 668.9 155.1 664.4 148.1 661.4 145.9 660.9 139.9 660.6 133.6 661.4 126.9 664.4 121.1 668.6Z" fill="#a1063a" stroke="#a1063a" stroke-width="0.5" fill-rule="evenodd"/>
<path transform="scale(0.1)" d="M1485 6616l-19-6-43-4M1397 6606l-22 1M1370 6608l-30 5-10 5 11 6 28 4 84-2 25-4 7-6M1555 6646l-10-5M1542 6640l-1 0M1275 6642l-2 0M1270 6643l-9 5-1 5 20 9 44 7 59 3 131-7 33-9 7-4 1-6M1615 6690l-7-4M1205 6692l-2 0M1202 6693l-2 7 7 6 32 11 52 8 65 2 200-8 47-13 10-7 2-9M1663 6740l-5-4M1155 6745l-1 0M1153 6746l-1 6 9 7 41 18 46 9 55 2 285-8 28-5 31-13 13-10 3-12M1702 6789l-4-3M1115 6797l-1 0M1113 6798l0 5 11 9 50 25 54 11 40 2 169-11 174 3 31-6 27-11 28-20 5-16M1735 6834l-2-1M1080 6846l4 8 21 15 50 24 59 15 43 1 183-20 56 2 112 10 36-3 32-10 28-15 29-27 2-12M1766 6873l-3-1M1049 6887l6 9 26 18 60 31 44 13 43 5 45-4 108-20 62-5 61 2 114 18 36-2 35-12 34-19 38-33 5-15M1796 6907l-4-2M1020 6922l-2 3 41 29 73 37 47 15 44 5 45-5 111-27 68-7 64 4 113 25 35-2 38-12 40-22 51-41 8-10 0-7M1830 6935l-5-1M987 6952l-2 3 52 34 88 42 52 17 44 5 43-6 113-32 73-8 69 5 108 30 34-1 40-12 73-41 43-32 11-13 2-8M1868 6960l-8-1M950 6979l-3 2 35 23 104 50 90 31 45 5 41-7 113-35 79-10 73 6 103 35 32-1 42-13 87-44 57-37 16-15 4-9M1912 6983l-8-1M907 7004l-4 2 46 26 128 55 99 31 45 5 39-7 112-37 86-11 42 1 37 6 94 37 30-1 74-25 73-34 75-41 23-18 6-10M1963 7005l-10-1M858 7029l-6 1 18 12 148 58 129 40 74 12 37-6 111-36 94-12 46 2 38 6 28 9 45 23 24 4 16-2 80-24 135-57 79-42 9-12M2020 7028l-11-1M801 7055l-7 1 24 13 184 60 145 38 75 11 34-4 110-31 103-12 50 2 40 6 27 8 37 19 36 0 84-23 161-56 103-46 13-13M2083 7055l-10-1M741 7084l-9 2 29 13 226 59 159 34 93 10 124-23 112-10 96 5 25 5 29 13 33-2 139-34 136-40 132-47 18-14M2146 7088l-12-1M677 7120l-8 2 37 13 178 38 262 42 107 11 229-14 150 4 328-68 161-45 25-15M2202 7127l-8 0M623 7162l-10 2 44 13 206 30 451 50 173 4 105-6 21-4 19-12 453-77 86-20 31-15M2240 7174l-8-1M586 7210l-12 3 49 11 107 11 475 28 34 6 73 26 43 10 63 8 73 2 65-6 42-10 21-11 13-28 23-7 454-49 97-16 34-14M2255 7226l-9-2M566 7263l-6 2 51 9 110 5 484 4 34 8 72 42 44 17 63 14 75 4 66-7 42-17 19-18 7-20M1628 7298l4-16 9-5 36-7 441-23 100-10 37-11M2240 7278l-8-2M580 7314l-6 2 49 7 107-1 370-18 105-1 34 9 73 57 43 23 63 19 73 7 65-10 42-22 21-24 7-32M1628 7318l4-15 9-6 36-7 432 1 97-4 34-9M618 7361l-5 2 44 5 96-6 348-35 103-4 35 11 75 69 43 27 60 22 70 8 63-11 42-25 21-28 9-26M1623 7363l1-3M1625 7350l7-25 9-8 36-6 408 21 86 1 31-6M673 7400l-4 3 37 3 82-8 315-47 101-7 35 12 78 77 43 29 57 23 65 8 59-11 41-26 24-30 13-35M1620 7383l1-3M1623 7373l9-26 10-8 36-7 71 4 300 33 72 4 25-4M735 7433l-3 3 29 2 67-9 277-54 73-9 25 1 36 12 83 81 41 28 53 23 59 7 55-10 41-25 25-29 36-84 11-9 15-5 50 0 299 46 58 6 18-3M796 7460l-2 3 24 1 52-8 238-55 69-11 25 1 37 13 87 81 40 26 49 20 54 7 50-10 40-22 27-27 46-84 11-9 16-6 21-1 63 7 221 45 43 6 13-3M853 7484l17 4 41-8 201-52 64-11 25 0 39 14 91 77 38 23 46 17 48 6 46-8 38-19 28-25 56-80 13-10 16-5 21-2 59 8 214 50 9-3M904 7506l13 4 32-6 199-54 52-3 40 13 96 71 36 20 42 14 44 5 42-7 37-16 28-21 66-75 30-15 21-1 53 7 148 40 28 3M948 7529l10 4 24-5 167-46 50-3 42 13 99 64 35 16 38 11 41 4 39-6 34-13 29-17 74-68 32-14 20-2 49 7 117 34 19 2M985 7554l9 4 18-3 140-37 48-2 43 12 101 55 33 13 36 8 37 3 36-4 33-11 53-30 55-43 34-13 40-1 116 32 12-1M1018 7583l7 4 15-2 92-22 47-6 23 1 43 10 103 45 31 10 68 8 64-11 53-24 60-36 35-13 38-1 91 22 8-2M1049 7615l6 5 11 0 97-16 43 0 44 9 131 42 62 6 31-2 57-15 87-39 36-11 35-2 72 12 5-2M1079 7653l5 7 90-7 40 2 141 33 85 9 82-13 122-39 32-3 57 4 3-3M1112 7698l5 6 111 5 132 23 77 5 74-8 116-29 70-6 6-4M1151 7748l10 8 205 23 67 3 85-9 136-25 10-6M1199 7798l14 9 37 6 106 11 72 2 53-4 75-10 47-11 13-8M1259 7843l1 2M1260 7845l20 7 33 6 109 4 92-8 29-6 13-8M1330 7875l28 7 50 2 50-3 26-7M1407 6606l78 10 70 30 60 44 48 50 103 133 30 34 34 28 38 25 44 23 171 72 63 33 56 39 38 47 15 52-15 52-38 49-56 42-63 36-163 76M1904 7489l-7 4M1407 6606l77 9 69 29 59 44 48 49M1407 6606l75 8 68 29 48 36M1407 6606l73 7 66 28M1407 6606l70 6 22 9M1530 6635l11 5M1407 6606l67 5M1407 6606l63 4 10 5M1407 6606l59 4M1407 6606l54 3M1407 6606l49 2M1407 6606l44 2M1407 6606l38 1M1407 6606l32 1M1407 6606l26 1M1407 6606l19 0M1407 6606l7 0M1407 6606l2 0M1407 6606l-2 0M1407 6606l-14 0M1407 6606l-21 1M1407 6606l-27 1M1407 6606l-28 1M1407 6606l-39 2M1407 6606l-45 3M1407 6606l-50 3M1407 6606l-55 4M1407 6606l-60 5M1407 6606l-64 6M1407 6606l-67 7-21 9M1407 6606l-71 7-32 15M1407 6606l-73 8-67 30M1407 6606l-75 9-69 31-28 22M1407 6606l-76 10-70 32-67 54M1407 6606l-77 11-71 32-59 46-48 52-32 42M1092 6829l-5 8M1407 6606l-77 12-71 33-60 46-49 52-101 138-30 35-45 39M962 6970l-6 4M936 6987l-7 4M1407 6606l-77 13-70 34-60 47-48 52-103 138-31 35-33 30-82 51-171 80-63 36-56 42-39 49-14 52 14 51 39 47 56 40 63 33 171 72 44 22 38 25 33 29 31 33 103 133 48 50 60 44M1407 6606l-76 14-70 35-58 48-48 52-100 141-61 67-77 53-156 83-55 36-49 42-34 47-12 50 12 49 34 45 49 38 55 32 156 72 77 48 31 29 30 33 100 133 48 50 58 43 70 30M1407 6606l-74 15-69 36-57 49-46 53-95 145-54 71-63 57-121 87-40 35-35 39-23 42-9 44 9 43 23 40 35 36 40 31 121 75 63 51 54 65 95 136 46 49 57 43 69 29 12 1M1407 6606l-72 16-67 37-55 50-45 55-35 54-96 171-47 62-106 122-21 34-13 37-5 37 5 37 13 34 21 33 25 29 81 79 47 56 96 158 35 50 45 50 55 42 67 29 12 1M1407 6606l-70 17-63 38-54 51-42 56-33 57-94 213-78 150-18 62-2 31 2 31 18 59 78 137 94 199 33 52 42 50 54 42 63 28 12 1M1407 6606l-66 18-61 38-51 53-40 58-30 58-39 104-67 238-15 81 0 53 15 78 67 225 39 97 30 53 40 50 51 42 61 27 11 1M1407 6606l-63 19-57 39-48 53-37 60-28 60-33 108-26 155-15 157 3 94 22 172 16 83 33 101 28 53 37 52 48 42 57 26 11 1M1407 6606l-59 19-53 41-45 54-34 60-25 62-28 111-11 88-4 70-2 212 3 159 7 76 18 95 17 54 25 55 34 51 45 42 53 26 10 1M1407 6606l-54 20-49 41-41 55-32 61-22 63-24 112-8 90 3 233-3 235 8 87 9 50 15 55 22 55 32 52 41 41 49 26 18 1M1407 6606l-49 21-45 41-37 56-28 62-20 62-22 114-6 90 5 231-5 233 6 88 8 51 14 54 20 56 28 51 37 42 45 24 17 1M1407 6606l-43 21-40 42-33 56-26 62-18 63-19 113-7 90 3 233-3 234 14 138 12 54 18 55 26 51 33 41 40 24 14 0M1407 6606l-38 22-34 42-29 56-22 62-16 62-18 112-10 159 1 371 4 76 12 95 27 106 22 50 29 41 34 23 13 1M1407 6606l-32 22-29 43-24 55-19 62-14 62-16 109-13 157-8 158 1 94 11 171 9 82 16 99 14 52 19 49 24 39 29 24 11 0M1407 6606l-25 22-24 43-19 56-15 61-27 167-26 242-6 109 9 129 23 195 15 94 27 98 19 39 24 23 8 0M1407 6606l-19 23-17 42-26 116-56 436-6 95 6 88 56 371 11 47 15 38 17 22 7 0M1407 6606l-12 23-21 98-30 296-27 198-6 112 6 100 27 150 22 196 17 83 12 22 4 1M1407 6606l-5 23-10 97-15 289-20 245-2 90 2 80 20 166 19 267 7 22M1407 6606l11 758-10 521M1407 6606l15 65 28 336 32 205 11 156-6 92-12 58-25 89-22 219-6 36-10 23M1407 6606l15 23 24 96 40 283 55 203 15 98 3 52-9 88-20 59-30 55-14 40-40 222-11 37-13 22-5 0M1407 6606l21 22 20 42 16 55 55 287 52 162 21 81 9 89-9 80-21 59-34 64-18 45-55 232-16 37-20 23-7 0M1407 6606l28 22 25 42 21 54 30 116 36 179 59 195 13 74 1 38-1 36-13 64-59 152-49 198-17 46-21 39-25 22-9 1M1407 6606l34 21 31 42 26 54 20 60 99 433 10 94-10 88-38 133-45 193-16 49-20 47-26 40-31 23-11 1M1407 6606l40 21 36 41 30 55 24 60 18 59 23 106 40 241 9 82M1626 7333l-1 17M1624 7359l-1 13M1621 7380l-43 243-23 95-18 52-24 48-30 40-36 24-13 1M1407 6606l46 20 41 41 34 55 27 60 20 61 24 109 12 87 15 178 2 118M1627 7343l-21 227-17 91-14 52-20 53-27 50-34 41-41 25-15 1M1407 6606l51 20 46 40 39 54 29 61 22 62 24 111 13 158-1 371-6 77-16 95-14 53-22 54-29 52-39 42-46 25-8 1M1407 6606l56 19 51 40 42 54 32 61 23 62 25 112 8 89-3 234 3 234-8 87-10 51-15 55-23 55-32 53-42 42-51 27-9 0M1407 6606l60 18 55 39 46 54 34 61 25 61 17 59 10 54 7 89-6 232 6 233-7 88-10 51-17 55-25 56-34 53-46 44-55 27-10 1M1407 6606l65 17 58 39 48 53 38 60 26 61 18 58 11 53 9 90-3 233 3 234-9 88-11 51-18 55-26 56-38 53-48 44-58 28-11 1M1407 6606l68 17 62 37 51 52 40 59 28 60 20 57 13 52 12 89 5 69 2 212-4 159-7 77-21 96-20 54-28 56-40 53-51 45-62 28-11 1M1407 6606l71 16 65 36 53 51 42 58 31 58 37 107 29 154 17 156-3 94-24 174-19 83-37 102-31 55-42 53-53 45-65 29-12 1M1407 6606l74 15 66 35 56 50 44 56 33 57 43 102 74 235 16 80 0 53-16 79-74 228-43 99-33 54-44 52-56 45-66 30-13 2M1407 6606l76 14 68 34 58 49 45 54 35 55 102 209 83 146 20 61 2 31-2 31-20 60-83 141-102 204-35 53-45 52-58 45-68 30M1407 6606l77 13 70 33 59 47 47 53 37 53 101 167 50 59 85 85 27 32 21 34 15 36 5 37-5 36-15 36-21 33-27 31-85 82-50 58-101 163-37 52-47 52-59 45-35 16M1496 7869l-12 5M1407 6606l78 12 70 32 60 46 48 52 98 140 56 68 66 55 124 81 42 33 36 37 24 42 9 43-9 44-24 41-36 37-42 33-124 80-66 55-56 67-98 140-48 51-60 46M1508 7863l-11 5M1407 6606l78 11 71 31 60 45 48 51 102 135 62 64 78 50 159 76 56 34 50 39 35 46 12 49-12 50-35 46-50 40-56 35-159 79-78 52-62 65-82 112M1656 7750l-8 9" fill="none" stroke="#000" stroke-opacity="0.13" stroke-width="0.5" vector-effect="non-scaling-stroke"/>
<path transform="scale(0.1)" d="M1330 6618h1m-1-1h1m-1 2h1m0-3h1m0-1h1m1-1h1m1-1h1m3 0h1m2-1h1m3-1h1m4-1h1m4-1h1m4 0h1m5-1h1m11-1h1m5 0h1m6-1h1m13 0h1m18 0h1m6 1h1m5 0h1m5 0h1m5 1h1m4 0h1m4 1h1m4 1h1m3 0h1m3 1h1m2 1h1m2 1h1m1 1h1m0 6h1m0-5h1m-1 4h1m0-3h1m-1 2h1m-1-1h1m-227 34h1m-1-2h1m0 4h1m0-5h1m-1 7h1m1-9h1m0 11h1m2-13h1m0 15h1m62-39h1m1 1h1m1 1h1m1 1h1m3 1h1m2 1h1m3 0h1m4 1h1m4 1h1m5 0h1m4 1h1m5 0h1m6 0h1m5 1h1m6 0h1m6 0h1m5 0h1m6 0h1m6 0h1m5-1h1m6 0h1m5-1h1m5 0h1m5-1h1m4 0h1m4-1h1m3-1h1m4-1h1m2 0h1m2-1h1m2-1h1m59 19h1m1 18h1m2-17h1m0 15h1m2-13h1m0 11h1m1-10h1m0 8h1m0-6h1m-1 4h1m0-2h1m-358 49h1m0-2h1m1-2h1m71-32h1m5 1h1m6 2h1m7 2h1m8 1h1m8 1h1m10 1h1m10 1h1m10 1h1m11 0h1m12 0h1m11 1h1m12 0h1m12-1h1m12 0h1m12 0h1m12-1h1m11 0h1m11-1h1m10-1h1m10-1h1m9-1h1m9-1h1m7-2h1m7-1h1m6-2h1m74 28h1m0 11h1m1-9h1m-1 6h1m0-3h1m-417 7h1m2 3h1m3 3h1m5 3h1m6 3h1m8 3h1m9 2h1m10 3h1m12 2h1m12 2h1m14 1h1m14 1h1m15 0h1m16 1h1m16 0h1m17 0h1m17-1h1m17 0h1m17-1h1m17 0h1m17 0h1m16-1h1m16-1h1m14 0h1m14-1h1m14-2h1m12-1h1m11-2h1m9-2h1m9-3h1m7-3h1m6-3h1m5-3h1m50 34h1m-511 12h1m1 3h1m-1-5h1m2-2h1m-1 10h1m5 4h1m6 5h1m9 4h1m10 5h1m12 4h1m385 3h1m13-2h1m13-3h1m11-4h1m9-4h1m8-5h1m6-5h1m5-5h1m2-4h1m-1-8h1m0 4h1m-554 56h1m1 3h1m3 4h1m6 5h1m8 6h1m82-38h1m14 3h1m16 3h1m16 1h1m18 1h1m18 0h1m20 0h1m20-1h1m20-1h1m21-1h1m22-1h1m21-1h1m21 0h1m21 0h1m20 0h1m19 0h1m18 0h1m17-1h1m16-1h1m107 38h1m8-7h1m7-7h1m0-19h1m2 13h1m0-10h1m0 5h1m-625 52h1m-1 3h1m4 5h1m60-29h1m13 6h1m14 6h1m16 5h1m17 4h1m18 2h1m18 2h1m20 0h1m20 0h1m22-2h1m23-2h1m23-2h1m24-3h1m25-1h1m25-1h1m25 0h1m23 0h1m23 1h1m22 1h1m20 1h1m19 1h1m18 0h1m16-1h1m15-3h1m14-3h1m13-5h1m12-6h1m56 30h1m6-9h1m1-12h1m0 5h1m-688 48h1m-1 3h1m5 6h1m37-35h1m11 8h1m14 8h1m16 9h1m17 7h1m18 7h1m180-3h1m27-4h1m28-2h1m27-2h1m28 0h1m26 2h1m25 2h1m23 3h1m21 2h1m75 0h1m15-4h1m15-6h1m14-7h1m12-8h1m11-9h1m34 35h1m9-11h1m4-15h1m-1 6h1m-749 46h1m0-3h1m5 10h1m40-28h1m14 10h1m18 11h1m19 10h1m73-30h1m19 3h1m20 1h1m21 0h1m22-2h1m23-3h1m24-3h1m51 38h1m30-4h1m30-1h1m30 0h1m29 2h1m26 4h1m57-40h1m18 1h1m17-1h1m79 32h1m16-11h1m14-11h1m36 27h1m12-13h1m7-10h1m-1-7h1m33 28h1m-846 20h1m1-3h1m6 11h1m17 12h1m27-33h1m18 12h1m22 13h1m24 12h1m33-34h1m21 8h1m21 5h1m20 4h1m21 1h1m21-1h1m22-3h1m23-4h1m25-5h1m27-6h1m27 35h1m32-4h1m34-3h1m32 1h1m30 3h1m44-32h1m21 4h1m20 4h1m18 2h1m17 0h1m17-2h1m16-5h1m17-7h1m27 37h1m19-12h1m19-14h1m40 21h1m18-16h1m10-13h1m35 26h1m3-9h1m-966 46h1m13 10h1m29-35h1m10 9h1m23 14h1m54-15h1m28 15h1m29 15h1m35-28h1m23 9h1m22 6h1m22 4h1m20 1h1m21-1h1m22-4h1m23-6h1m26-7h1m28-7h1m28 29h1m35-6h1m36-2h1m35 1h1m32 4h1m19-30h1m7 37h1m16-31h1m21 5h1m19 5h1m17 3h1m16 0h1m17-2h1m17-4h1m19-8h1m27 31h1m23-14h1m24-16h1m47 15h1m25-19h1m34 27h1m22-18h1m5-10h1m41 34h1m8-12h1m-1170 51h1m57-26h1m17 12h1m40 17h1m37-27h1m40 19h1m24-30h1m35 17h1m34 16h1m38-23h1m26 10h1m24 7h1m22 4h1m20 1h1m21-2h1m20-4h1m23-7h1m25-8h1m25 25h1m3-34h1m30 25h1m37-7h1m40-3h1m38 1h1m33 5h1m28 8h1m15-26h1m20 7h1m17 6h1m15 3h1m16 1h1m16-2h1m18-4h1m20-8h1m29 25h1m28-15h1m30-18h1m16 31h1m39-21h1m26 28h1m45-23h1m85 5h1m12-13h1m62 27h1m-1352 31h1m28 13h1m56-30h1m51 19h1m93-8h1m53 20h1m16-30h1m41 17h1m42-19h1m28 10h1m26 7h1m22 4h1m21 1h1m19-2h1m20-5h1m21-7h1m20 24h1m4-33h1m25 22h1m35-10h1m41-8h1m43-3h1m4 30h1m36-29h1m8 31h1m27-25h1m27 9h1m13-23h1m7 32h1m10-24h1m15 6h1m15 4h1m14 1h1m16-2h1m19-5h1m21-8h1m1 33h1m28-12h1m34-15h1m55 10h1m77 6h1m59-24h1m42 29h1m57-23h1m80 19h1m-1478 34h1m36 13h1m121-16h1m80 21h1m27-31h1m64 20h1m65-12h1m43 13h1m2-30h1m32 11h1m27 7h1m23 4h1m20 1h1m18-2h1m19-5h1m16 24h1m3-31h1m19 22h1m29-10h1m37-11h1m45-8h1m-1 33h1m53-4h1m49 2h1m27-27h1m11 33h1m15-24h1m19 9h1m8-22h1m4 30h1m8-24h1m1 30h1m10-26h1m13 1h1m15-2h1m19 24h1m0-29h1m24 21h1m32-11h1m39-16h1m8 28h1m53-18h1m16 28h1m72-22h1m115 9h1m71-22h1m80 24h1m-1590 37h1m43 13h1m130-23h1m95 19h1m102-15h1m65 15h1m6-28h1m47 13h1m38 9h1m-1-27h1m28 7h1m0 26h1m23-22h1m0 26h1m18-25h1m0 26h1m16-1h1m0-27h1m15 24h1m1-28h1m15 23h1m22-7h1m28-9h1m36 26h1m2-36h1m49 29h1m58-3h1m54 1h1m40 4h1m14-27h1m9 32h1m6-24h1m10 6h1m8 5h1m7-25h1m0 27h1m10 0h1m0-26h1m14 24h1m0-26h1m19 21h1m26-7h1m0 25h1m34-36h1m2 26h1m50-13h1m76 11h1m85-19h1m124 14h1m85-20h1m68 32h1m-1667 39h1m178-20h1m109 14h1m98 12h1m10-31h1m72 12h1m56 9h1m1-25h1m40 31h1m-1-23h1m31 5h1m0 22h1m23-19h1m19 2h1m15 0h1m15-2h1m15-3h1m20-5h1m29-6h1m37 32h1m56-4h1m64-2h1m58-1h1m40 1h1m23 2h1m3-29h1m6 31h1m0-27h1m3 28h1m2-25h1m0 25h1m5-24h1m-1 23h1m9-1h1m0-23h1m12 20h1m1-22h1m19 18h1m0-22h1m28 16h1m40-8h1m1 24h1m52-35h1m4 26h1m76-11h1m94-16h1m14 36h1m112-14h1m96-16h1m-1584 36h1m106 11h1m119 9h1m104 6h1m82 4h1m2-27h1m58 30h1m0-24h1m44 26h1m-1-22h1m33 4h1m23-19h1m-1 21h1m18-19h1m0 22h1m14 2h1m-1-23h1m13 25h1m-1-24h1m13 26h1m1-27h1m16 30h1m2-32h1m24 34h1m2-36h1m232 38h1m41-4h1m20-4h1m8-4h1m2-3h1m2-3h1m3-2h1m8 17h1m-1-20h1m13 17h1m0-20h1m20 17h1m-1-21h1m30-5h1m-1 22h1m43-4h1m60-6h1m80-8h1m1 31h1m104-4h1m116-8h1m99-10h1m36-11h1m-1696 39h1m50 9h1m109 5h1m123 2h1m107 0h1m83 0h1m62-1h1m45 0h1m33-19h1m-1 20h1m24-18h1m-1 20h1m18-17h1m-1 20h1m14 5h1m-1-22h1m12 28h1m-1-23h1m13 5h1m17 7h1m27 9h1m44-35h1m59 2h1m69-1h1m110 38h1m20-11h1m5-9h1m1-8h1m0 27h1m-1-33h1m0 23h1m2-28h1m-1 22h1m8-5h1m-1 20h1m13-24h1m-1 20h1m21-23h1m-1 20h1m30-1h1m-1-22h1m43 22h1m0-24h1m59 24h1m0-26h1m79 27h1m101 1h1m112 0h1m96-4h1m33-9h1m-1667 38h1m48 7h1m106-1h1m119-4h1m104-6h1m82-5h1m2 26h1m58-29h1m0 23h1m44-25h1m-1 21h1m33-1h1m-1-21h1m23 22h1m0-20h1m18 24h1m-1-21h1m14 6h1m-1 22h1m12-14h1m12-14h1m0 26h1m16-14h1m27 15h1m43-28h1m62 8h1m72 2h1m64-6h1m63 17h1m6-16h1m0 25h1m-1-23h1m3 13h1m-1-22h1m8 14h1m0 22h1m13-26h1m-1 21h1m20-23h1m0 21h1m29 1h1m-1-23h1m40 26h1m1-24h1m57 4h1m76 5h1m94 6h1m103 5h1m85 1h1m30-6h1m-1590 36h1m43 5h1m95-6h1m109-10h1m98-10h1m10 29h1m72-12h1m56-8h1m1 24h1m40-29h1m-1 23h1m31-3h1m0-23h1m23 24h1m0-23h1m18 27h1m-1-23h1m15 8h1m-1 23h1m13-35h1m-1 24h1m13-10h1m16-10h1m1 30h1m25-9h1m42-19h1m62 14h1m74 4h1m65-7h1m41-17h1m17 18h1m2 8h1m2-20h1m-1-9h1m0 18h1m5 11h1m-1-23h1m10 14h1m14-5h1m20-1h1m0 24h1m27-23h1m37 5h1m50 7h1m6-26h1m55 36h1m13-28h1m85 10h1m88 9h1m71 4h1m24-4h1m-1478 34h1m36 3h1m81-8h1m95-13h1m24 29h1m77-15h1m65-14h1m6 27h1m47-11h1m38-7h1m28 23h1m0-27h1m23 27h1m0-26h1m19 4h1m16 9h1m15-12h1m0 25h1m12-33h1m1 26h1m17-4h1m24-3h1m40-11h1m62 19h1m72 7h1m64-10h1m41-22h1m14 10h1m3 2h1m0 4h1m4 7h1m1-26h1m6 12h1m10-9h1m0 26h1m14-32h1m0 27h1m20-2h1m25 3h1m-1-27h1m32 32h1m2-27h1m45 9h1m53 11h1m60 13h1m28-28h1m73 11h1m57 6h1m17-3h1m-1352 31h1m28 2h1m66-9h1m41 27h1m66-15h1m64-15h1m15 26h1m49-13h1m43-11h1m2 29h1m31-37h1m0 30h1m27-4h1m23 1h1m20 4h1m-1-29h1m18 9h1m-1 29h1m17-16h1m15-9h1m17-2h1m4 25h1m19-25h1m4 27h1m34-30h1m59 22h1m132-3h1m31 7h1m9-32h1m3 30h1m6-3h1m2-25h1m2 28h1m0-29h1m3 2h1m5 9h1m10 15h1m-1-29h1m13 19h1m15-5h1m20-1h1m23 2h1m28 5h1m34 9h1m9-29h1m45 12h1m48 12h1m45 11h1m42-26h1m42 6h1m12-3h1m-1227 29h1m23 1h1m33 22h1m17 2h1m40-8h1m52-13h1m25 26h1m44-13h1m41-13h1m8 31h1m33-10h1m28-6h1m26-3h1m22 0h1m21 5h1m19 8h1m18-19h1m16-11h1m3 28h1m19-6h1m24 1h1m33-23h1m2 26h1m53-3h1m64 8h1m4-33h1m53 22h1m29 1h1m14-4h1m8-2h1m8 5h1m9 14h1m3-32h1m11 19h1m14-9h1m16-5h1m19-2h1m21 2h1m26 5h1m28 8h1m30 9h1m16-29h1m39 11h1m34 9h1m22 5h1m47-24h1m8-3h1m-1061 48h1m13 2h1m29 20h1m1-26h1m8 29h1m23-5h1m32-9h1m35-11h1m14 32h1m29-9h1m28-8h1m26-5h1m24-2h1m22 0h1m20 4h1m21 8h1m18-24h1m1 35h1m19-19h1m20-10h1m4 27h1m20-29h1m4 23h1m29-20h1m2 20h1m45 0h1m0-20h1m52 27h1m5-20h1m43 10h1m10-20h1m16 19h1m11-21h1m5 20h1m9-24h1m3 29h1m7-28h1m10 9h1m12 19h1m15-12h1m16-8h1m16-5h1m18-2h1m20 1h1m23 5h1m23 6h1m24 8h1m23 7h1m18 6h1m4-36h1m5 38h1m19-31h1m15 4h1m-880 43h1m8 3h1m17-3h1m24-6h1m44 26h1m24-7h1m24-5h1m23-5h1m22-1h1m22 1h1m20 4h1m21 6h1m22 10h1m19-26h1m25 15h1m25-11h1m31-5h1m2 21h1m38-7h1m0-17h1m42 22h1m4-16h1m36 9h1m8-17h1m17 22h1m9-21h1m9 31h1m8-27h1m15 11h1m20-17h1m12 25h1m17-10h1m16-8h1m17-5h1m17-2h1m19 1h1m19 3h1m19 5h1m19 5h1m17 6h1m12 3h1m7 1h1m-779 15h1m6 3h1m14-2h1m8 32h1m9-36h1m21 37h1m18-4h1m19-4h1m20-4h1m21-2h1m21-1h1m20 1h1m21 4h1m21 5h1m41-24h1m26 12h1m24-18h1m3 30h1m28-17h1m35 8h1m-1-21h1m36 24h1m3-20h1m31 16h1m6-22h1m25 11h1m19 17h1m24-13h1m21-14h1m12 31h1m18-8h1m17-7h1m17-4h1m16-2h1m17 0h1m16 1h1m16 3h1m14 4h1m12 3h1m9 1h1m4 0h1m-712 16h1m10 0h1m12 36h1m4 4h1m35-1h1m16-3h1m17-1h1m18-2h1m19 0h1m19 2h1m20 3h1m37-37h1m23 9h1m25 9h1m27 9h1m27-25h1m1 32h1m30 5h1m-1-30h1m34 1h1m26 28h1m5-31h1m23 25h1m6-33h1m19 24h1m24-10h1m21-11h1m29 32h1m17-6h1m17-4h1m15-2h1m15-1h1m14 0h1m12 1h1m11 2h1m9 1h1m6 0h1m2-1h1m-644 16h1m11-1h1m151 3h1m22 5h1m23 7h1m24 7h1m25 6h1m27 5h1m28 3h1m27 1h1m2-36h1m25 34h1m26-5h1m25-6h1m23-7h1m21-8h1m20-8h1m52 37h1m13-2h1m12-1h1m10 0h1m8 0h1m7-1h1m3-1h1m1-2h1m-591 10h1m3 3h1m6 2h1m8 1h1m11 0h1m13 0h1m14 0h1m16 0h1m17 1h1m18 1h1m18 3h1m20 3h1m20 5h1m22 4h1m23 4h1m23 4h1m24 3h1m25 2h1m25 0h1m25-1h1m23-3h1m23-4h1m22-5h1m20-6h1m19-5h1m18-5h1m16-4h1m15-4h1m-476 50h1m2 3h1m5 3h1m6 1h1m9 2h1m10 1h1m12 0h1m13 2h1m14 1h1m16 2h1m16 2h1m18 2h1m18 3h1m20 2h1m20 3h1m20 2h1m110 0h1m20-3h1m19-3h1m18-3h1m17-4h1m16-4h1m15-3h1m13-3h1m13-2h1m11-2h1m9-2h1m8-1h1m6-1h1m5-2h1m2-2h1m-464 56h1m2 3h1m3 2h1m5 2h1m6 2h1m8 1h1m9 2h1m10 1h1m12 2h1m12 1h1m14 2h1m14 1h1m81-38h1m22 1h1m21 0h1m21-1h1m57 37h1m14-2h1m14-2h1m12-2h1m11-3h1m9-2h1m9-2h1m7-2h1m6-2h1m5-1h1m3-2h1m1-3h1m0-2h1m-357 51h1m0 2h1m2 2h1m3 1h1m5 2h1m5 1h1m6 2h1m7 1h1m8 1h1m8 2h1m8-37h1m1 38h1m10 1h1m3-38h1m16 2h1m17 1h1m17 0h1m17 1h1m17 0h1m17-1h1m17-1h1m7 36h1m8-38h1m1 36h1m10-1h1m3-37h1m5 36h1m9-2h1m7-1h1m7-2h1m6-1h1m5-2h1m3-2h1m3-1h1m2-2h1m0-2h1m-225 35h1m1 1h1m1 1h1m1 1h1m3 0h1m2 1h1m1-20h1m1 21h1m4 1h1m4 0h1m-1-21h1m5 22h1m4 0h1m1-21h1m3 22h1m6 0h1m0-22h1m4 22h1m6 0h1m0-21h1m5 21h1m5 0h1m0-21h1m5 21h1m6 0h1m-1-22h1m5 22h1m6-1h1m-1-21h1m5 21h1m5-1h1m0-21h1m4 21h1m4-1h1m1-20h1m2 20h1m3-1h1m4-1h1m2-1h1m2-1h1m2-1h1m1-1h1m0-1h1" fill="none" stroke="#000" stroke-opacity="0.4" stroke-width="0.9" vector-effect="non-scaling-stroke" stroke-linecap="round"/>
<path d="M352.1 522.9 351.4 524.9 351.4 526.1 352.1 527.6ZM480.1 522.1 478.9 519.1 478.9 517.6 476.9 514.1 470.4 510.9 464.6 510.1 444.6 510.1 444.4 510.4 423.6 510.6 423.4 510.9 417.6 510.9 414.4 511.4 411.4 511.4 406.9 512.4 405.1 512.4 403.1 513.1 398.9 515.6 398.4 515.6 396.1 518.1 395.9 519.6 394.6 521.9 394.6 524.6 395.9 527.6 395.9 529.1 397.6 532.1 399.4 533.6 404.9 536.6 411.1 538.1 418.6 539.1 429.9 539.4 430.1 539.6 444.4 539.4 444.6 539.1 451.9 538.9 458.4 538.1 464.9 536.9 470.4 535.1 476.9 530.9 478.4 528.6 478.9 526.6 479.9 524.6ZM352.6 499.1 355.4 503.1 356.1 504.9 356.9 502.4ZM451.4 458.9 449.6 456.9 449.9 456.6 449.1 456.9 446.1 455.9 438.9 454.6 431.6 454.4 431.4 454.1 425.4 454.1 425.1 454.4 418.1 454.6 404.6 456.9 407.4 457.9 408.1 459.4 407.6 460.9 403.4 467.1 403.1 468.6 411.1 463.6 415.4 461.6 425.9 458.4 429.9 457.6 435.9 457.1 436.1 457.4 443.1 457.4 448.6 458.1Z" fill="#ffffff" stroke="#ffffff" stroke-width="0.5" fill-rule="evenodd"/>
<path d="M488.1 518.4 487.1 516.4 486.1 512.6 482.9 508.6 482.4 507.4 480.6 505.9 474.1 503.6 467.4 502.9 454.6 502.9 454.4 503.1 421.4 503.6 421.1 503.9 410.9 504.1 401.1 505.6 398.4 506.4 394.6 508.4 391.1 511.9 390.4 514.1 388.9 516.4 388.9 517.4 387.9 520.4 387.4 525.4 387.9 526.6 388.1 530.9 389.1 532.6 389.9 535.9 393.1 539.9 393.6 541.1 395.1 542.6 402.4 545.9 411.1 547.6 419.1 548.1 419.4 548.4 423.6 548.4 423.9 548.6 442.4 548.6 442.6 548.4 451.9 548.1 461.6 547.1 469.6 545.6 474.1 544.4 478.1 542.6 481.9 540.1 482.4 539.1 484.9 536.6 487.1 532.1 488.4 527.4 488.4 524.4 488.6 524.1ZM480.4 522.1 480.1 524.6 479.1 526.6 478.6 528.6 477.1 530.9 470.4 535.4 464.9 537.1 458.4 538.4 451.9 539.1 444.6 539.4 444.4 539.6 430.1 539.9 429.9 539.6 418.6 539.4 411.1 538.4 404.9 536.9 399.4 533.9 397.4 532.1 395.6 529.1 395.6 527.6 394.4 524.6 394.4 521.9 395.6 519.6 395.9 518.1 398.4 515.4 398.9 515.4 403.1 512.9 405.1 512.1 406.9 512.1 411.4 511.1 414.4 511.1 417.6 510.6 423.4 510.6 423.6 510.4 433.9 510.4 434.1 510.1 444.4 510.1 444.6 509.9 464.6 509.9 470.4 510.6 477.1 514.1 479.1 517.6 479.1 519.1ZM346.9 491.4 349.6 494.9 349.4 503.6 349.1 503.9 349.4 513.9 349.6 514.1 349.6 516.9 349.4 517.1 349.6 522.9 348.4 526.9 345.9 531.4 345.6 534.6 346.1 535.6 349.1 538.1 351.6 539.1 354.1 539.6 353.6 538.6 352.4 532.6 352.1 527.9 351.4 526.9 351.1 524.9 352.4 522.1 352.4 519.1 353.6 512.6 356.1 505.1 352.9 499.6 353.1 499.4 357.1 502.4 357.9 500.1 357.1 498.9 354.4 496.6 348.9 493.1ZM388.9 472.1 389.6 475.6 390.1 476.4 396.6 473.6 402.9 468.9 403.1 467.1 407.4 460.9 407.9 459.4 407.4 458.1 404.9 457.4 404.4 456.9 404.6 456.6 410.6 455.4 418.1 454.4 425.1 454.1 425.4 453.9 431.4 453.9 431.6 454.1 435.9 454.1 440.6 454.6 449.6 456.6 451.9 459.1 453.4 459.4 461.6 462.6 466.1 464.9 474.4 470.4 478.9 474.1 478.9 472.1 478.4 470.4 476.4 467.6 468.4 459.4 461.6 453.1 461.4 452.4 456.9 454.1 453.9 452.6 446.1 450.1 438.4 448.6 433.1 448.4 432.9 448.1 420.9 448.1 413.4 448.9 405.4 450.4 394.4 453.6 396.1 454.6 396.4 456.6 394.4 461.1 390.6 467.9Z" fill="#f0cad7" stroke="#f0cad7" stroke-width="0.5" fill-rule="evenodd"/>
<path d="M374.4 563.1 375.1 564.4 375.4 565.6 377.9 569.1 380.9 571.9 384.1 573.9 385.1 573.9 394.1 570.6 391.9 568.6 384.4 563.4 378.6 561.4 375.4 561.9ZM495.4 559.6 494.1 558.9 492.9 558.9 488.9 561.1 486.4 563.6 482.9 565.9 478.1 571.6 482.1 570.4 488.4 566.9 490.9 565.1 494.1 561.9ZM496.1 511.9 494.1 507.6 493.9 506.1 490.6 501.4 489.6 500.4 483.6 496.4 480.4 495.9 469.4 495.4 469.1 495.6 462.4 495.6 462.1 495.9 441.9 496.4 441.6 496.6 424.9 496.6 424.6 496.9 424.1 496.6 407.6 496.9 407.4 496.6 404.1 497.1 400.4 497.1 397.9 497.9 394.4 498.1 393.6 498.6 389.1 499.9 387.6 502.4 385.4 504.6 384.9 505.9 383.4 507.9 383.4 508.6 381.6 511.9 379.9 519.4 379.9 522.1 379.6 522.4 379.9 532.6 381.1 536.6 381.1 538.4 383.4 543.4 383.4 544.1 386.9 549.1 393.6 553.9 399.6 555.4 408.4 556.6 412.1 556.6 415.6 557.1 441.9 557.4 442.1 557.1 457.4 556.6 471.4 555.1 472.6 554.6 477.4 553.9 481.4 552.6 487.1 550.1 489.4 547.4 491.1 545.9 493.6 542.1 495.9 537.4 495.9 536.4 497.4 531.4 497.9 526.6 497.4 517.4 496.4 514.4ZM488.4 518.4 488.9 524.1 488.6 524.4 488.6 527.4 487.4 532.1 485.1 536.6 482.6 539.1 481.9 540.4 478.1 542.9 473.4 544.9 467.6 546.4 461.6 547.4 451.9 548.4 442.6 548.6 442.4 548.9 423.9 548.9 423.6 548.6 419.4 548.6 419.1 548.4 411.1 547.9 402.4 546.1 395.1 542.9 393.4 541.1 392.9 539.9 389.6 535.9 388.9 532.6 387.9 530.9 387.6 526.6 387.1 525.4 387.6 520.4 388.1 519.4 388.6 516.4 389.9 514.6 390.9 511.9 394.6 508.1 398.4 506.1 401.1 505.4 410.9 503.9 421.1 503.6 421.4 503.4 454.4 502.9 454.6 502.6 467.4 502.6 474.1 503.4 480.6 505.6 482.6 507.4 483.1 508.6 486.4 512.6 487.4 516.4ZM516.6 483.4 516.1 484.4 515.1 485.1 514.4 486.6 513.9 486.9 512.1 490.6ZM341.4 483.4 344.4 487.6 344.4 488.9 343.6 490.9 343.6 494.4 343.1 495.9 342.9 504.4 343.1 504.6 343.4 512.9 343.9 514.4 344.4 519.9 344.9 521.1 345.6 526.1 345.6 530.6 344.9 532.6 340.6 539.6 340.4 542.4 340.9 543.6 342.4 545.1 345.9 547.1 350.4 548.6 353.4 549.1 356.1 548.9 357.9 548.1 355.9 544.9 354.1 539.9 350.9 539.1 347.9 537.6 345.9 535.6 345.4 534.6 345.4 532.1 348.1 526.9 349.4 522.9 349.4 519.6 349.1 519.4 349.4 514.1 349.1 513.9 349.1 506.4 348.9 506.1 349.4 494.9 347.4 492.1 347.9 491.9 348.9 492.9 354.4 496.4 356.9 498.4 357.9 499.9 358.1 498.4 356.6 493.4 352.9 490.4 352.4 490.4 349.4 488.4 345.6 486.6ZM374.9 480.9 378.6 484.1 384.1 483.1 388.6 480.9 390.1 478.9 392.4 477.6 395.9 474.1 393.6 475.4 389.9 476.6 388.6 472.9 388.9 471.4 390.4 467.9 394.1 461.1 396.1 456.6 395.9 454.6 394.1 453.6 401.4 451.1 407.6 449.6 413.4 448.6 420.9 447.9 432.9 447.9 433.1 448.1 438.4 448.4 446.1 449.9 453.9 452.4 456.9 453.9 461.4 452.1 461.9 453.1 468.4 459.1 476.6 467.6 478.6 470.4 479.1 472.1 479.1 474.4 487.4 480.1 492.9 481.4 493.9 481.1 495.4 479.1 495.6 478.1 495.4 476.1 494.1 474.4 493.4 472.4 489.1 466.4 483.9 460.4 475.6 452.4 473.1 449.6 472.6 448.4 464.1 451.1 462.1 452.1 452.1 447.1 448.1 445.6 441.4 443.9 432.6 442.6 422.1 442.4 421.9 442.6 415.4 442.9 405.9 444.4 396.1 447.1 389.1 449.9 386.4 451.4 384.4 450.9 385.1 451.9 384.9 454.9 376.9 471.4 375.1 476.9Z" fill="#d98fa8" stroke="#d98fa8" stroke-width="0.5" fill-rule="evenodd"/>
<path d="M336.6 474.9 337.9 477.6 340.1 481.1 340.1 482.4 338.1 488.4 338.1 489.9 337.1 494.1 336.9 503.6 337.1 503.9 337.4 509.4 338.4 515.1 340.4 521.6 345.1 531.4 345.4 526.1 344.9 522.4 344.1 519.9 343.6 514.4 343.1 512.9 342.9 504.6 342.6 504.4 342.9 495.9 343.4 494.4 343.4 490.9 344.1 488.9 344.1 487.6 342.1 485.1 341.4 483.6 341.6 483.4 345.6 486.4 349.4 488.1 352.4 490.1 352.9 490.1 356.9 493.4 358.4 498.4 358.4 499.6 357.1 502.9 358.9 498.9 363.4 494.9 368.1 494.1 373.9 500.4 373.1 507.9 372.6 508.6 371.4 521.1 371.4 534.1 371.9 535.1 372.1 540.6 372.9 542.6 372.9 545.6 373.6 547.4 373.6 550.4 373.9 550.6 373.9 552.6 372.6 555.1 372.1 555.6 368.1 556.4 363.9 553.4 359.9 551.1 357.9 548.4 356.1 549.1 353.4 549.4 350.4 548.9 345.9 547.4 342.4 545.4 340.6 543.6 340.1 542.4 340.1 540.6 336.9 546.6 336.1 548.9 336.1 550.6 336.6 551.6 338.6 553.6 344.1 556.9 346.4 557.6 349.4 559.4 351.1 559.9 356.9 563.1 367.6 573.4 372.4 576.9 374.1 576.9 377.6 576.1 384.1 574.1 381.9 572.9 378.9 570.4 375.1 565.6 374.9 564.4 374.1 563.4 374.4 562.6 375.4 561.6 376.6 561.6 377.9 561.1 384.4 563.1 391.9 568.4 396.9 572.6 395.4 569.1 397.9 566.9 401.9 566.9 403.1 566.4 432.6 566.4 432.9 566.1 444.1 566.1 444.4 565.9 452.6 565.9 452.9 565.6 467.9 565.4 468.1 565.1 472.6 565.1 472.9 565.4 477.4 565.1 481.4 566.9 478.9 570.6 482.9 565.6 486.4 563.4 488.9 560.9 492.9 558.6 494.1 558.6 495.1 559.1 495.6 559.9 494.4 561.9 490.9 565.4 485.6 568.9 482.1 570.6 478.4 571.6 477.4 572.4 486.4 574.4 490.1 574.1 496.4 571.4 501.4 568.1 505.9 564.6 514.6 556.9 516.1 556.1 518.6 554.1 520.9 551.9 521.6 550.4 521.6 548.6 521.1 547.1 518.9 542.9 518.4 543.9 511.9 550.1 506.9 553.1 505.1 551.1 503.4 549.9 506.6 535.9 507.1 527.9 507.4 527.6 507.4 523.1 507.1 522.9 507.1 517.9 506.6 516.6 506.4 512.4 505.6 510.4 504.9 504.9 504.1 503.6 503.6 498.9 503.1 497.6 503.9 493.4 506.9 490.9 513.9 494.4 512.1 492.1 511.9 490.4 513.6 486.9 514.1 486.6 514.9 485.1 515.9 484.4 521.1 474.9 521.4 473.6 520.6 474.6 519.9 474.6 518.6 475.6 516.6 475.4 515.9 475.9 511.6 474.4 507.9 470.6 505.6 468.9 503.6 466.1 484.9 446.6 484.1 445.1 476.9 446.9 473.1 448.1 472.9 448.9 475.9 452.4 484.1 460.4 489.4 466.4 493.6 472.4 494.4 474.4 495.6 476.1 495.9 478.1 495.6 479.1 493.6 481.6 487.4 480.4 481.4 476.4 472.9 469.6 478.9 475.1 481.6 480.4 480.9 482.6 479.6 484.4 477.6 484.6 475.1 486.1 473.6 486.1 470.6 486.6 468.6 487.4 464.1 487.6 462.4 488.1 456.6 488.4 453.4 488.9 442.4 489.1 442.1 489.4 424.1 489.4 420.4 488.9 415.6 488.9 413.9 488.4 408.1 488.1 404.6 486.9 400.9 486.6 395.9 483.4 395.9 482.4 397.1 478.1 396.9 477.1 400.6 473.4 401.4 471.6 404.1 469.6 407.1 466.6 414.4 462.4 416.4 461.6 411.1 463.9 407.1 466.6 402.6 469.1 399.6 471.9 396.1 474.1 392.4 477.9 390.1 479.1 388.6 481.1 384.1 483.4 378.6 484.4 374.6 480.9 374.9 476.9 376.6 471.4 384.6 454.9 384.9 451.9 384.1 450.9 384.4 450.6 386.4 451.1 389.1 449.6 396.1 446.9 408.4 443.6 418.1 442.4 428.4 442.1 428.6 442.4 432.6 442.4 439.1 443.1 446.4 444.9 454.6 447.9 462.1 451.9 463.1 451.4 455.9 445.4 453.9 444.6 449.4 441.9 439.6 438.9 430.9 437.6 427.6 437.6 427.4 437.4 416.4 437.6 410.4 438.4 402.6 439.9 392.1 443.4 384.9 447.1 381.1 449.9 376.6 448.6 372.6 448.1 373.6 449.6 373.4 452.1 372.6 454.4 369.6 460.4 362.4 472.1 357.9 477.4 353.6 479.9 351.1 479.6 349.1 480.1 342.4 478.6 339.6 477.4ZM496.4 511.9 496.4 513.1 497.9 519.4 498.1 526.6 497.6 531.4 496.6 534.4 496.1 537.4 493.9 542.1 491.4 545.9 489.6 547.4 487.1 550.4 481.4 552.9 477.4 554.1 472.6 554.9 471.4 555.4 457.4 556.9 442.1 557.4 441.9 557.6 415.6 557.4 412.1 556.9 408.4 556.9 399.6 555.6 393.6 554.1 386.6 549.1 383.1 544.1 383.1 543.4 380.9 538.4 380.9 536.6 379.6 532.6 379.6 529.4 379.4 529.1 379.6 519.4 381.4 511.9 383.1 508.6 383.1 507.9 384.6 505.9 385.1 504.6 387.4 502.4 389.4 499.4 393.6 498.4 394.4 497.9 397.9 497.6 400.4 496.9 404.1 496.9 407.4 496.4 407.6 496.6 441.6 496.4 441.9 496.1 456.6 495.9 456.9 495.6 469.1 495.4 469.4 495.1 480.4 495.6 483.6 496.1 489.6 500.1 490.9 501.4 494.1 506.1 494.4 507.6Z" fill="#c86184" stroke="#c86184" stroke-width="0.5" fill-rule="evenodd"/>
<path d="M481.1 566.9 477.4 565.4 476.9 565.6 468.1 565.4 467.9 565.6 459.9 565.6 459.6 565.9 444.4 566.1 444.1 566.4 432.9 566.4 432.6 566.6 403.1 566.6 401.9 567.1 397.9 567.1 395.6 569.1 395.6 569.6 397.1 572.9 404.9 579.4 411.1 583.1 410.6 582.6 409.6 579.4 413.6 577.4 426.6 575.9 439.1 575.6 439.4 575.4 456.9 575.4 459.1 575.9 464.6 576.1 468.9 577.6 468.9 578.1 466.4 581.6 476.4 573.1 478.6 570.9 478.9 569.9ZM335.9 549.6 333.4 557.6 333.9 560.6 335.9 562.6 348.4 570.6 356.1 576.6 359.9 578.9 366.4 578.6 373.1 577.1 372.4 577.1 367.6 573.6 356.9 563.4 351.1 560.1 349.4 559.6 346.4 557.9 344.1 557.1 338.6 553.9 336.4 551.6 335.9 550.6ZM521.9 549.4 521.9 550.4 521.1 551.9 518.6 554.4 516.1 556.4 514.6 557.1 505.9 564.9 501.4 568.4 494.4 572.6 490.1 574.4 487.9 574.6 493.9 575.6 501.4 575.6 504.1 574.9 510.6 571.4 518.9 565.1 522.6 561.4 523.9 559.4 524.4 556.4ZM363.4 495.1 359.1 498.9 356.6 504.1 353.9 512.6 352.6 519.1 352.4 529.4 352.6 529.6 352.6 532.6 353.9 538.6 356.1 544.9 358.4 548.9 359.9 550.9 368.4 556.1 372.1 555.4 373.6 552.6 373.4 547.4 372.6 545.6 372.6 542.6 371.9 540.6 371.6 535.1 371.1 534.1 371.4 517.4 372.1 513.4 372.4 508.6 372.9 507.9 373.6 500.4 368.1 494.4ZM358.1 509.9 359.1 513.4 359.1 516.4 359.9 521.1 359.9 537.9 359.1 541.1 359.1 543.1 358.1 545.4 355.6 541.1 355.6 540.4 353.6 534.9 352.9 528.1 353.4 521.1 354.1 517.6 356.4 511.9ZM507.1 491.1 504.1 493.4 503.4 497.6 503.9 498.9 504.4 503.6 505.1 504.9 505.6 509.1 506.6 512.4 506.9 516.6 507.4 517.9 507.4 522.9 507.6 523.1 507.6 527.6 507.4 527.9 506.9 535.9 503.6 549.9 505.1 550.9 506.9 552.9 511.9 549.9 518.1 543.9 519.6 541.6 519.1 512.4 519.4 512.1 519.6 506.4 519.9 506.1 521.1 508.1 518.9 502.4 514.6 495.1ZM338.9 479.4 335.9 484.6 335.4 487.1 334.1 490.4 333.1 499.1 333.9 506.1 335.6 511.9 338.9 519.9 341.9 524.9 340.1 521.6 338.4 516.1 336.9 507.6 336.9 503.9 336.6 503.6 336.9 494.1 338.1 487.4 339.9 482.4 339.9 481.1ZM396.1 482.4 396.1 483.4 400.9 486.4 404.6 486.6 408.1 487.9 411.1 487.9 415.6 488.6 420.4 488.6 424.1 489.1 442.1 489.1 442.4 488.9 453.4 488.6 453.6 488.4 462.4 487.9 464.1 487.4 468.6 487.1 470.6 486.4 473.6 485.9 475.1 485.9 477.6 484.4 479.6 484.1 480.6 482.6 481.4 480.4 478.6 475.1 472.6 469.6 465.6 464.9 461.6 462.9 452.6 459.4 448.6 458.4 443.1 457.6 436.1 457.6 435.9 457.4 427.4 458.4 420.4 460.1 414.4 462.6 411.4 464.6 408.1 466.1 404.1 469.9 402.1 471.1 400.9 473.4 397.1 477.1 397.4 478.1ZM409.9 474.9 410.9 470.6 410.9 468.6 414.9 465.9 418.4 462.4 423.1 460.9 425.9 459.6 426.9 459.6 430.9 458.4 437.1 457.6 442.9 457.9 446.1 458.4 457.4 461.4 465.6 466.6 466.6 467.6 469.1 472.9 469.1 473.6 466.4 476.4 460.6 478.6 454.6 479.9 447.9 480.6 443.9 480.6 443.6 480.9 432.1 480.9 429.9 480.4 423.9 480.1 421.1 479.1 416.1 478.4ZM373.1 448.9 372.4 448.1 370.6 447.6 363.1 446.4 359.1 446.4 360.4 447.1 360.6 449.1 358.9 454.1 354.9 459.9 348.6 465.9 344.4 467.9 339.9 468.4 337.6 468.1 335.1 467.1 333.6 465.9 333.4 464.6 333.4 465.9 336.6 474.6 339.6 477.1 342.4 478.4 349.1 479.9 351.1 479.4 353.6 479.6 357.9 477.1 362.1 472.1 369.4 460.4 372.4 454.4 373.4 450.9ZM484.4 445.1 485.1 446.6 503.9 466.1 505.9 468.9 507.9 470.4 511.6 474.1 515.6 475.6 516.6 475.1 518.6 475.4 519.9 474.4 520.9 474.1 521.6 473.1 524.4 464.4 524.1 463.1 523.6 463.9 523.1 463.6 521.1 463.9 517.1 462.4 511.1 457.6 506.9 453.4 504.6 451.6 498.1 444.9 497.1 443.4 492.6 443.4ZM455.6 445.1 453.4 443.1 446.9 439.1 443.1 437.6 439.9 435.6 434.1 434.6 432.9 434.1 429.1 433.9 427.1 433.4 419.6 433.1 419.4 433.4 413.6 433.6 400.1 436.4 390.4 441.1 380.9 449.6 384.9 446.9 392.1 443.1 400.1 440.4 410.4 438.1 419.9 437.1 430.9 437.4 439.6 438.6 449.4 441.6Z" fill="#b6335c" stroke="#b6335c" stroke-width="0.5" fill-rule="evenodd"/>
<path d="M468.6 577.6 464.6 576.4 459.1 576.1 456.9 575.6 432.4 575.9 432.1 576.1 426.6 576.1 423.6 576.6 420.4 576.6 415.4 577.6 413.6 577.6 410.1 579.1 409.9 579.9 410.9 582.6 411.6 583.4 418.6 586.9 424.9 589.1 430.9 590.4 439.4 590.9 446.1 590.1 451.6 588.6 456.1 586.4 460.6 584.9 466.1 581.9 466.6 580.6 468.6 578.1ZM333.6 560.1 333.6 566.4 334.1 568.4 339.4 575.1 341.1 576.1 350.6 579.1 359.6 578.9 356.1 576.9 348.4 570.9 335.9 562.9 333.6 560.6ZM524.1 558.9 522.9 561.4 518.9 565.4 510.6 571.6 504.1 575.1 501.6 575.6 508.4 575.6 518.9 571.9 523.9 565.4ZM358.1 510.1 356.6 511.9 354.4 517.6 353.6 521.1 353.1 526.1 353.9 534.9 355.9 540.4 355.9 541.1 358.1 545.1 358.9 543.1 358.9 541.1 359.6 537.9 359.6 521.1 358.9 516.4 358.9 513.4ZM519.9 506.4 519.6 512.1 519.4 512.4 519.9 541.4 521.6 538.9 524.6 531.4 525.4 525.4 524.6 517.4 521.9 509.6ZM336.9 482.4 335.6 484.1 333.1 490.6 332.4 496.6 333.1 504.9 333.9 506.9 332.9 499.1 333.4 493.1 335.6 484.6ZM410.1 474.9 416.1 478.1 421.1 478.9 423.9 479.9 429.9 480.1 432.1 480.6 443.6 480.6 443.9 480.4 447.9 480.4 454.6 479.6 460.6 478.4 466.4 476.1 468.9 473.6 468.9 472.9 466.4 467.6 465.6 466.9 457.4 461.6 446.1 458.6 442.9 458.1 437.1 457.9 430.9 458.6 429.9 459.1 425.9 459.9 423.1 461.1 418.4 462.6 414.9 466.1 411.1 468.6 411.1 470.6ZM360.1 447.1 358.9 446.4 348.9 446.6 339.1 450.1 333.6 457.1 333.9 465.9 335.1 466.9 337.6 467.9 340.9 468.1 344.4 467.6 348.6 465.6 354.6 459.9 358.6 454.1 360.4 449.1ZM497.4 443.4 498.4 444.9 504.6 451.4 506.9 453.1 511.1 457.4 517.1 462.1 521.1 463.6 522.1 463.4 523.6 463.6 524.1 462.9 523.9 454.4 518.6 447.1 516.4 445.9 506.9 442.9 497.6 443.1ZM438.6 435.1 432.4 432.9 426.1 431.6 417.1 431.4 412.1 431.9 405.1 433.9 397.9 436.9 392.9 439.6 400.1 436.1 413.6 433.4 419.4 433.1 419.6 432.9 427.1 433.1 429.1 433.6 432.9 433.9Z" fill="#a1063a" stroke="#a1063a" stroke-width="0.5" fill-rule="evenodd"/>
<path transform="scale(0.1)" d="M4282 4582l-42 4-31 13M4172 4607l-13-2 8 10M4494 4577l-9-3-24 5M4365 4574l-31-16-35-10-54-2-48 15-27 18-23 21M4090 4585l-8-1 5 6 45 38M4494 4585l0-8M4584 4543l-14-3-22 7M4543 4549l-3 1M4422 4574l-47-39-46-24-26-8-51-6-50 8-44 21-34 30-24 31M3997 4555l-5-1 27 29 79 63M4553 4601l24-31 8-20-1-7M4692 4504l-8-3-13 0-30 11M4472 4575l-44-51-54-43-65-30-35-8-36-2-34 4-33 9-30 14-27 19-23 21-19 24-21 38M3894 4522l-1-1M3889 4519l-5 0 2 4 39 37 138 107M4606 4621l72-78 15-30-1-9M4817 4466l-10-5-46 10M4507 4558l-43-59-30-32-35-28-40-24-44-18-46-11-46-3-46 5-42 13-38 20-33 25-27 30-21 33-19 45M3767 4486l-8-1 1 5 57 51 153 112 58 35M4212 4599l14-4M4248 4589l45-9M4308 4577l16-1M4339 4575l61 0M4656 4646l83-71 55-57 25-40-2-12M4954 4439l-13-6-32 3M4547 4545l-44-67-35-39-43-36-49-29-54-23-58-13-58-4-57 7-53 16-47 24-40 32-31 37-23 41-15 42M3634 4464l-12-1 1 7 76 61 204 134 53 32 35 15M4074 4662l24-15M4109 4640l43-21 49-18 55-14 57-9 59-4 57 2 53 6 47 12 39 15M4708 4674l89-65 89-73 57-61 12-22-1-14M5085 4437l-16-8-31 0M4583 4527l-40-59-41-44-50-39-59-32-65-24-69-14-70-3-68 7-63 17-56 26-47 34-36 41-25 46-11 31M3506 4464l-15 1 1 9 17 16 129 84 261 145 50 19 19-5M3998 4712l36-27 41-22 51-21 58-17 65-13 69-9 70-4 68 1 63 6 56 10 47 15 36 18M4755 4706l136-84 110-79 71-66 14-24-1-16M5186 4470l-23-11M4617 4517l-37-45-47-42-59-36-33-15M3985 4367l-21 8-55 32-43 38-33 52M3394 4499l-4 2 1 11 18 17 80 49 279 136 73 33 57 19 33-6 66-39 48-18 58-16 67-14 152-17 156-3 136 10 54 11 43 13 34 20M4799 4742l111-54 135-78 56-37 43-33 29-29 15-23-2-18M4634 4514l-23-19M3826 4478l-6 6M3340 4567l-4 3 4 13 17 16 74 43 121 52 231 88 62 16 40-2 81-25 122-20 153-13 166-6 159-1 134 6 90 15 34 17M4833 4774l26 1 54-19 203-98 90-57 24-24 11-21-3-17M3334 4657l4 16 16 16 26 16 82 37 121 41 144 41 64 14 50 2 168-10 764-17 120 3 35-5 117-39 110-48 67-43 17-19 4-20M3369 4757l1 3M3372 4764l15 17 20 14 64 28 145 39 121 21 128 14 142 9 316 6 313-12 140-12 173-23 96-23 84-29 56-29 16-15 9-15M3424 4852l12 14 40 24 56 21 61 14 257 36 164 18 155 8 152 2 151-3 147-9 220-27 159-30 104-24 26-13 28-29M3475 4921l4 6M3484 4934l39 27 68 30 352 46 159 12 145 5 214-3 209-15 256-36 200-37 20-8M3392 4805l-2 5 11 8M3522 4986l4 4M3530 4994l41 29M3561 5056l35 8 112 13 250 19 224 11 202 0 264-15 276-29 255-35 8-9M3357 4838l6 32 112 55M3556 5038l7 8M3539 5123l25 13 127 9 561 9 128-1 716-41 124-14-2-4M5216 5089l-2-4M3331 4904l16 30 164 55M3526 5192l18 19 136 2 314-22 384 5 122-5 247-17 363 7 136-9-3-3M3322 4976l20 25 135 33 76 13M3521 5260l16 25 140-3 182-25 152-27 180 8 186 0 179-9 164-16 185 20 210 16 140-3-3-5M3331 5049l16 20 184 27M3526 5326l18 30 136-8 314-66 72-3 312 3 296-17 73 0 363 50 136 2-3-5M3357 5123l2 4M3361 5132l2 4 169 15M3539 5390l25 31 127-10 284-69 80-9 325-1 313-14 82 6 321 55 124 4-1-5M3392 5201l113 7 17 6-7 32 7 24M3561 5449l35 30 112-10 250-61 83-11 676-16 85 8 271 49 106 4 1-5M3428 5266l42 4 6 7-8 31 9 25 27 26 30 22M3591 5502l46 24 95-4 211-42 84-10 643-17 73 1 82 6 215 32 86 0 4-4M3421 5368l-5 14 2 13 6 14 30 27 108 65 68 47 55 17 78 2 251-17 383-5 367-13 234 6 66-5 38-19M3369 5465l-2 17 6 15 34 28 64 25 90 21 446 59 155 9 161 3 159-4 154-9 140-16 121-23 193-45 71-22 40-26 9-14 0-14-5-14M3337 5565l-1 2M3334 5573l4 19 16 14 26 12 36 9 46 6 121-1 144-16 54-1M3800 5618l41 13 103 52 65 21 73 16 159 18 166 3 162-10 75-11 68-15 61-19 50-24 76-58M4928 5589l53-2 124 10 50 0 39-4 28-7 17-11 4-15M5241 5553l-1-2M3336 5665l4 17 17 13 31 8 43 3 55-3 66-9 75-15 156-43 52-6M3921 5688l15 12M3951 5713l71 47 66 27 74 21 79 14 83 8 83 2 82-6 77-11 71-18 63-24 51-30 43-43M4895 5609l18 1 141 36 114 19 38 0 24-4 11-9-1-5M3391 5748l18 13 33 4 47-4 58-11 144-44 159-59M4037 5784l66 44 67 28 74 21 78 12 79 3 77-7 72-15 64-24 54-31 43-39M4876 5638l104 39 121 37 43 9 29 2 15-5M3506 5791l34 2 98-25 129-52 111-52M4175 5863l74 29 69 14 70 3 68-6 63-17 19-9M4830 5662l171 75 71 20 14-1M3634 5788l28-1 81-26 160-79M4805 5693l115 56 35 9M3786 5759l64-22 78-41M4778 5719l32 16 8 0M3919 5716l21-8M4481 4581l211-77 125-38 137-27 131-2 101 33 52 69M5196 5440l9 15M4478 4579l206-78 123-40 134-28 128-4 99 31M4473 4578l198-77 117-38 127-29M5017 4430l21-1M4466 4579l187-72M4689 4495l72-24M4469 4577l74-28M4586 4532l15-5M4449 4577l48-11M4396 4575l94-43 42-13 43-6 42 4M4365 4574l99-75 39-21 40-10 37 4 31 23M4343 4574l91-107 34-28 34-15 31 6 3 5M4326 4573l73-134 26-36 27-18 22 9M4310 4574l49-159 17-41 17-21 2 2M4296 4577l26-226 7-19M4283 4576l-14-190-10-71M4273 4582l-50-199-17-49-17-22-2 3M4261 4582l-84-194-28-47-28-22-3 2M4250 4584l-115-183-39-44-38-21-5 2M4240 4586l-143-165-48-40-47-19-38 13M4230 4589l-166-143-55-33-54-17-46 11M4221 4593l-130-85-54-32-59-26-59-13-53 8-26 22M4212 4598l-140-66-56-23-61-18-61-8-58 6-16 8M4196 4600l-139-42-57-15-70-11M4181 4605l-41-8M3385 4799l-28 39-26 66-9 72 9 73 18 49M3390 4810l-27 60-16 64-5 67 5 68 16 67 27 67 38 63M3460 4909l12 69 5 56-5 54-21 117 0 73M4171 4607l-10-2M3526 5180l-21 28-38 74M4167 4606l-12-3M3522 5214l-46 63M4174 4607l-35-8M4078 4582l-14-5M3521 5224l-62 86M4172 4607l-129-37M3517 5235l-97 135M4170 4607l-87-24-159-52M3889 4519l-122-33M3549 4464l-43 0M3521 5237l-105 145-48 85M4170 4608l-88-24-198-65-125-34-137-22-131 2-101 36-54 69-3 89M3361 4737l6 15M3522 5249l-104 146-51 87-34 94 3 89M4171 4610l-88-24-197-63-126-33-137-20-131 4-101 38-51 71-2 90 35 94 51 85M3442 4877l80 109 38 60M3522 5270l-98 139-51 88-35 95 2 90 51 69M4172 4612l-85-22-194-58-123-30-133-18-128 6-100 39-52 70-3 90 33 92 49 85 125 175M3518 5303l-82 119-49 89-33 95 3 89 52 66 100 32M4165 4613l-259-69-116-25-128-14-122 8-98 38-54 68-8 86 27 90 47 83 111 157M3519 5338l-65 98-47 89-27 93 8 85 54 62 98 28 122-6M3726 5773l64-15M4157 4614l-232-54-108-19-118-10-115 10-95 37-58 64-15 81 19 86 41 81 91 131M3531 5362l-55 89-41 87-19 89 15 79 58 55 95 23 115-7 118-27 124-42M4152 4617l-204-37-98-14-107-4-105 12-91 35-61 58-24 75 9 81 32 78 70 110M3538 5401l-35 65-32 84-9 83 24 70 61 47 91 18 105-7 107-24 82-27M4140 4621l-166-20-86-7-94 2-94 14-84 33-64 51-35 67-4 75 19 75 47 89M3554 5431l-22 51-19 79 4 74 35 59 64 38 84 13 94-7 94-20 43-13M4132 4628l-204-4-80 7-81 17-76 31-64 45-44 59-22 66 1 70 18 67M3568 5477l-6 24-1 70 22 61 44 47 64 27 76 10 81-5 80-15M4100 4641l-130 12-67 12-68 20-67 29-62 40-52 50-38 58-23 63-9 64M3590 5504l3 20 23 55 38 46 52 33 62 19 67 8 68-3M4071 4665l-115 32-57 22-58 28-58 35-56 42-51 50-46 56-39 61-30 65-22 67-13 69-5 68 5 66 13 64 22 59 30 53 39 46 46 38 51 30 56 20 87 15M3982 4723l-84 43-53 32-54 40-54 45-52 54-48 60-41 67-32 72-20 75-7 74 7 71 20 65 32 58 41 47 48 39 52 29 45 17M3970 4735l-39 25-46 36-44 44-41 51-37 57-31 63-24 66-17 68-11 68-3 69 3 66 11 63 17 58 24 53 31 45 50 46M3827 5622l14 9M4010 4705l-50 36-39 43-32 53-24 60-15 64-6 64 2 63 13 169-13 179-2 63 6 61 15 54 24 43 32 31M4074 4662l-20 12M4041 4681l-44 40-31 50-22 62-10 68 0 70 9 66 32 110 36 83-53 178-15 72-9 73 0 70 10 60 22 43 15 12M4109 4640l-34 23-30 40-23 57-13 70-2 76 7 73 13 65 39 148 5 41-5 46-39 191-13 80-7 80 2 74 13 56 23 31M4152 4619l-26 23-23 45-15 64-6 77 2 81 8 75 30 168 8 84-2 44-36 268-8 88-2 84 6 67 15 41 4 1M4210 4599l-9 2-17 24-14 48-8 71-2 83 2 84 25 243 4 84-4 95-25 306-2 92 2 77 8 48 14 12M4259 4586l-3 1-7 25-8 126 1 174 11 327-12 499 3 139 5 15M4308 4577l2 0M4313 4578l5 25 6 131-9 505 9 502-2 148-4 17M4355 4574l17 0 16 25 13 54 6 79-4 179-23 242-3 85 30 503 0 91-6 60-13 17M4424 4576l5 0 27 24 22 53 11 78 0 89-7 88-38 244-6 84 6 94 28 213 17 195 0 88-11 59-22 18M4475 4582l7 0 37 24 31 50 16 75 3 87-9 87-14 77-40 167-8 84 8 94 54 307 9 97-3 84-16 55-31 16M4529 4594l46 22 39 47 23 70 7 83-8 84-17 77-51 168-9 42-3 42 3 45 9 50 51 213 17 92 8 91-7 77-23 49-19 7M4604 4624l18 7 46 43 32 63 12 77-4 80-17 76-62 170-12 43-4 41 4 45 74 265 17 87 4 84-12 68-32 42-7 1M4658 4649l53 38 40 56 22 70 3 75-12 73-21 67-69 150-7 41 7 46 69 189 21 78 12 81-3 73-22 57-40 33M4741 4704l49 48 33 61 16 68 0 69-14 67-23 59-27 53-55 84 55 111 27 65 23 71 14 72 0 70-16 60-33 45M4806 4757l56 57 35 59 21 63 8 64-2 63-16 115-3 55 3 56 16 122 2 63-8 61-21 55-35 45-7 5M4833 4774l20 14M4873 4802l76 63 49 55 42 60 33 65 23 67 14 69 5 68-5 66-14 64-23 59-33 54-42 46-49 39-56 30M4802 4750l126 61 70 43 66 51 62 58 53 65 41 70 26 74 9 74-9 71-26 66-41 59-53 50-62 41-66 32-70 24M4711 4683l131 41 71 32 68 39 64 47 57 54 48 59 37 64 27 66M5102 5514l-57 41-64 32-92 28M4631 4635l117 11 82 16 80 26 73 37 62 47 45 56 28 62 5 32M5109 5508l-19 37-45 48-62 35-73 23-80 11M4580 4612l125-6 92 3 94 13 89 27 74 42 51 56 24 66-1 70-7 23M5129 5500l0 35-24 62-51 49-74 31-89 13-78 0M4555 4599l184-24 105-4 106 10 95 29 71 48 39 66 6 74-22 76-19 35M5150 5484l11 39-6 74-39 61-71 41-95 17-106-2-52-8M4540 4590l122-27 107-18 117-9 115 7 100 30 67 55 26 74-9 82-43 91M5167 5469l18 42 9 82-26 72-67 49-100 23-115-3-97-15M4520 4586l158-43 116-25 126-15 123 5 101 32 62 61 16 80-21 88-36 69M5179 5455l22 42 21 89-16 79-62 58-101 28-123-2-146-26M4509 4582l179-56 122-31 133-20 129 2 101 34 57 66 9 85-29 92-8 14M5185 5440l25 43 29 92-9 86-57 64-101 32-129 0-153-28M4495 4581l198-68 126-35 136-25 131 0 102 35 53 68 3 89M5194 5440l16 29 34 93-3 90-53 68-17 6M5103 5750l-17 6M4999 5758l-44 0" fill="none" stroke="#000" stroke-opacity="0.13" stroke-width="0.5" vector-effect="non-scaling-stroke"/>
<path transform="scale(0.1)" d="M4058 4336h1m62-17h1m67-7h1m16 22h1m52-19h1m4 23h1m63-9h1m-365 46h1m37-13h1m93-5h1m52-16h1m172 10h1m53 23h1m16-21h1m-485 54h1m45-11h1m53 17h1m39-32h1m85 20h1m41-13h1m45-5h1m45 3h1m45 11h1m43 18h1m65-12h1m26-18h1m21 9h1m-609 51h1m52-8h1m58 13h1m85-4h1m32-25h1m73 33h1m32-9h1m33-4h1m35 2h1m34 8h1m89-12h1m68 0h1m33-15h1m30 6h1m381 4h1m25-1h1m12 6h1m0 14h1m82-24h1m30 0h1m15 8h1m0 16h1m81 7h1m-1678 5h1m0 9h1m13-10h1m2 26h1m112-27h1m0 7h1m10-6h1m2 20h1m121 1h1m0 5h1m6-4h1m58-8h1m9 11h1m57-6h1m60 8h1m81-15h1m76 11h1m26-19h1m84 31h1m25-2h1m25 1h1m64-35h1m30 18h1m59-14h1m29 32h1m38-21h1m39-10h1m36 4h1m30 23h1m149-24h1m26-8h1m18-2h1m2 34h1m6-29h1m1 12h1m123-3h1m128 2h1m113-7h1m1 18h1m-1799 13h1m0 11h1m17 17h1m130-16h1m121-8h1m36 26h1m70-29h1m19 17h1m93 0h1m1 4h1m2-4h1m3 13h1m46 1h1m75-24h1m55 23h1m18-24h1m66 18h1m20-12h1m22-9h1m100-2h1m25 8h1m22 11h1m22 13h1m27-34h1m24 23h1m61 8h1m41-13h1m42-6h1m41 4h1m35-10h1m17-6h1m12 0h1m3 25h1m3-22h1m0 9h1m100 5h1m91 18h1m33-33h1m122 5h1m100 32h1m28-29h1m64 28h1m-1903 31h1m105-19h1m46 27h1m94-37h1m53 33h1m104-12h1m73-21h1m32 25h1m55-22h1m18 16h1m22 20h1m43-26h1m0 3h1m0-4h1m3 10h1m1-20h1m6 29h1m49-14h1m52 15h1m13-17h1m15-15h1m29 38h1m11-10h1m14-8h1m14-7h1m15-5h1m16-3h1m17-1h1m17 0h1m17 3h1m8 29h1m4 1h1m3-26h1m16 6h1m15 8h1m4 8h1m9 0h1m6 0h1m22-24h1m4 25h1m12-9h1m15 10h1m20-27h1m18 28h1m-1-5h1m8 3h1m6-1h1m5 0h1m2 3h1m48-28h1m14-6h1m11-3h1m6 30h1m1-30h1m3 19h1m0-16h1m0 7h1m76 13h1m15-20h1m60 32h1m29-30h1m74 26h1m156-28h1m99 30h1m128 4h1m10-21h1m-1902 27h1m16 16h1m30 20h1m158-10h1m152 1h1m93-14h1m93-2h1m85 7h1m44-18h1m14 13h1m16 14h1m30-26h1m0-1h1m-1 3h1m2-2h1m0 6h1m4 6h1m7 7h1m8 7h1m10 9h1m28-20h1m2 20h1m6-30h1m-1 17h1m-1-1h1m0 3h1m0-3h1m0 5h1m0-5h1m1 8h1m1-7h1m3 1h1m29-6h1m10-3h1m6-1h1m1-4h1m8-4h1m9-3h1m8 26h1m0-28h1m5 3h1m4-5h1m0 3h1m10-3h1m44 21h1m69-4h1m67 1h1m25-18h1m12-1h1m23 25h1m9-12h1m25 5h1m12-15h1m-1 25h1m6 7h1m43-7h1m22-24h1m62 21h1m91 3h1m152-28h1m94 29h1m160-9h1m-1874 58h1m97-17h1m184 1h1m150 5h1m80-17h1m79-7h1m41 29h1m32-30h1m29 23h1m37-20h1m19 15h1m17-1h1m16 2h1m5-14h1m51-3h1m137 31h1m78-3h1m76 0h1m71 3h1m71-25h1m35 18h1m10-12h1m78 9h1m142-24h1m88 27h1m135 9h1m51-30h1m75 17h1m-1907 28h1m15 16h1m131-22h1m65 27h1m138-15h1m143 6h1m67-20h1m52 32h1m54-17h1m22 5h1m28-18h1m10-5h1m0 1h1m27 24h1m66-14h1m73-10h1m369 0h1m53 11h1m42 13h1m58 12h1m59-37h1m79 26h1m143 3h1m167-10h1m16-19h1m-1860 43h1m35 18h1m210 1h1m140-10h1m130 5h1m49 19h1m47-17h1m5-12h1m41-6h1m195 35h1m82-4h1m82-2h1m81-1h1m76 0h1m70 2h1m62 4h1m40-33h1m100 20h1m140 1h1m171-1h1m38-22h1m-1828 50h1m5 15h1m88-25h1m54 19h1m188-7h1m134-7h1m56 19h1m32-6h1m28-19h1m5 30h1m55-11h1m65-9h1m73-7h1m588-1h1m38 9h1m25 12h1m16 10h1m25 1h1m53-19h1m131 16h1m59-25h1m95 22h1m8-15h1m-1824 27h1m2 29h1m16-15h1m27 14h1m147-26h1m70 21h1m128-22h1m61 16h1m39-2h1m35-12h1m647 34h1m74-2h1m67-2h1m60-1h1m49 0h1m38 1h1m30 2h1m34-5h1m52-16h1m147 18h1m31-15h1m23-14h1m-1829 54h1m66 14h1m46-29h1m41 13h1m47 13h1m165-25h1m63 14h1m49 2h1m47-3h1m54-4h1m64-3h1m72-2h1m77-1h1m80-1h1m82-2h1m82-2h1m81-2h1m508 34h1m46-12h1m44-14h1m-1728 42h1m72-4h1m17 12h1m21 12h1m139-28h1m59 12h1m60 9h1m62 8h1m64 6h1m770 3h1m71-6h1m67-6h1m62-7h1m57-8h1m51-8h1m152 31h1m15-6h1m9-7h1m10-9h1m10-10h1m-1820 40h1m15 30h1m113-15h1m15 6h1m10 13h1m14-37h1m28 10h1m29 8h1m30 6h1m36 5h1m54 7h1m248-36h1m72 5h1m76 3h1m77 2h1m79 1h1m80 0h1m79-1h1m78-3h1m77-3h1m357 31h1m79-16h1m65-15h1m-1743 71h1m149 2h1m31-28h1m18 11h1m21 10h1m20 9h1m196-32h1m86 13h1m83 10h1m79 8h1m604-2h1m71-7h1m72-9h1m74-11h1m286 13h1m23-8h1m-1809 46h1m179-15h1m10 12h1m14 12h1m31-24h1m3 3h1m6 2h1m45 6h1m94 14h1m359-27h1m76 3h1m75 2h1m75 0h1m75-1h1m74-2h1m73-4h1m278 35h1m100-17h1m113-20h1m146 39h1m-1857 30h1m145-15h1m78 4h1m4 18h1m5-35h1m276 4h1m98 12h1m83 7h1m74 5h1m72 3h1m71 2h1m71 0h1m70-1h1m70-2h1m69-4h1m68-5h1m69-6h1m72-8h1m329 17h1m105-17h1m-1833 41h1m124 19h1m123-24h1m111 13h1m137 11h1m111 8h1m623 2h1m65-6h1m68-6h1m84-10h1m121-13h1m289 22h1m5 13h1m-1864 25h1m5 13h1m175-13h1m24 13h1m476-35h1m71 4h1m68 2h1m67 1h1m66 0h1m66-1h1m66-2h1m65-3h1m175 33h1m81-6h1m141-7h1m178-10h1m-1636 33h1m229 0h1m159 2h1m123 0h1m79 2h1m66 3h1m64 2h1m64 0h1m63 0h1m63-1h1m63-1h1m61-3h1m61-4h1m60-5h1m44 38h1m72-4h1m160 4h1m337-6h1m-1857 31h1m60 2h1m53 3h1m16 6h1m3-22h1m17 19h1m135 2h1m176-10h1m136-12h1m71 1h1m61 2h1m61 2h1m62 1h1m61 0h1m62-1h1m60-2h1m60-3h1m58-4h1m57-4h1m49 36h1m52-6h1m389-32h1m-1596 65h1m1 12h1m-1-23h1m3-11h1m-1 36h1m337-3h1m151-27h1m59 3h1m58 3h1m60 2h1m61 1h1m61 0h1m61-1h1m60-2h1m59-3h1m57-4h1m56-5h1m291 9h1m209 16h1m139-3h1m-1828 20h1m20 2h1m20 29h1m-1-27h1m3 16h1m1-9h1m45-7h1m14 15h1m139-3h1m316 0h1m71-3h1m61 1h1m61 2h1m62 1h1m61 0h1m62-1h1m60-2h1m60-3h1m58-3h1m57-5h1m56-4h1m72 0h1m160 24h1m-1441 19h1m2 13h1m5 12h1m48-7h1m330-13h1m197 20h1m66-1h1m64 1h1m64 0h1m63 0h1m63-1h1m63-2h1m61-3h1m61-3h1m60-3h1m63-3h1m81 6h1m334-9h1m135 2h1m-1827 53h1m67-24h1m15 13h1m18 14h1m20-17h1m135-8h1m170 25h1m123-31h1m941 7h1m178 30h1m-1681 3h1m1 13h1m5 14h1m114-19h1m151 21h1m266-3h1m82-11h1m71-3h1m68-1h1m67-1h1m66 0h1m66-2h1m66-1h1m65-3h1m64-2h1m65-3h1m68 0h1m84 8h1m121 22h1m295-28h1m-1785 39h1m17 14h1m21 15h1m84-2h1m2-28h1m281 15h1m614 23h1m69-2h1m68-3h1m69-1h1m72 1h1m81 6h1m247-22h1m105 4h1m25 13h1m-1839 27h1m0-15h1m4 30h1m129-31h1m28 16h1m63-3h1m111-10h1m135 30h1m98-19h1m83-10h1m74-4h1m72-2h1m71-1h1m71-1h1m70-1h1m535 13h1m113 18h1m85 0h1m74 5h1m8-14h1m-1-14h1m-1824 42h1m19 14h1m27 13h1m126-37h1m28 1h1m1 22h1m43 2h1m94-4h1m886 15h1m71-3h1m72-2h1m74 0h1m78 3h1m79 3h1m65-5h1m37-19h1m26 21h1m31-12h1m23-12h1m-1853 65h1m5-17h1m131-9h1m41 11h1m47 10h1m54 8h1m13-31h1m54 17h1m77 2h1m86-7h1m83-7h1m79-3h1m77-2h1m76-1h1m75 0h1m75-1h1m75-1h1m74-2h1m73-3h1m402 37h1m48-12h1m46-10h1m44-10h1m148 30h1m4-13h1m-1907 30h1m15 14h1m25 12h1m295-32h1m50 30h1m9-22h1m62 10h1m64 10h1m910-1h1m62-11h1m53 5h1m3-17h1m15 20h1m14-21h1m52-2h1m63 6h1m59 4h1m49 0h1m38-4h1m27-7h1m-1807 41h1m45 6h1m54 2h1m65-3h1m70-7h1m51 33h1m76-22h1m57 13h1m-1-18h1m47 26h1m44-34h1m72 7h1m76 6h1m77 3h1m79 2h1m80 1h1m79-1h1m78-3h1m77-4h1m75-5h1m71-8h1m153 14h1m47 16h1m72-23h1m70 18h1m61 12h1m124-6h1m-1906 13h1m3 17h1m16 13h1m194-1h1m74-15h1m140-2h1m66 8h1m67-3h1m17 6h1m6 8h1m15-13h1m828 3h1m49-24h1m6 0h1m60 28h1m88-13h1m64 22h1m122-34h1m37 0h1m23-4h1m-1843 42h1m42 3h1m54-3h1m129 29h1m74-26h1m75 10h1m26 22h1m53-27h1m1 26h1m37-19h1m36-4h1m40 12h1m42-22h1m72 16h1m77 11h1m80 7h1m247 0h1m79-7h1m74-11h1m67-15h1m77 2h1m3 21h1m15 7h1m8 1h1m24-22h1m41 20h1m63-18h1m50 21h1m99-23h1m42 9h1m28 2h1m14-5h1m-1798 31h1m17 10h1m32 4h1m46-4h1m57-11h1m90 18h1m60 9h1m0-32h1m42 16h1m46-3h1m26-8h1m204 10h1m301-19h1m82 0h1m292 32h1m10 3h1m39-33h1m168 6h1m22 8h1m11 1h1m87-7h1m28 6h1m13-1h1m-1578 37h1m30 0h1m43-9h1m52 5h1m24-2h1m382 4h1m42-4h1m73 21h1m403 7h1m70-18h1m30 18h1m-566 13h1m66 28h1m70-34h1m82 8h1m82 2h1m81-6h1m124 20h1m-431 22h1m59 9h1m4 15h1m72-3h1m78 3h1m76-7h1m40 1h1m30-16h1m-233 36h1m69 3h1m67-6h1" fill="none" stroke="#000" stroke-opacity="0.4" stroke-width="0.9" vector-effect="non-scaling-stroke" stroke-linecap="round"/>
<path d="M433.9 723.6 431.6 725.6 430.4 728.1 429.6 730.9 429.4 736.9 429.6 737.1 429.6 739.9 430.6 743.9 431.1 744.9 434.4 747.6 436.6 746.1 438.4 743.6 439.4 740.4 439.6 734.1 439.4 731.6 437.9 726.6 434.6 723.6Z" fill="#ffffff" stroke="#ffffff" stroke-width="0.5" fill-rule="evenodd"/>
<path d="M435.1 712.1 433.6 713.4 432.4 713.6 429.9 716.1 429.4 718.1 428.1 719.9 425.6 731.4 425.4 742.1 426.1 748.9 427.1 751.9 427.1 752.9 429.1 758.1 431.6 761.6 436.1 763.4 440.4 761.4 442.1 759.6 442.9 757.9 444.1 756.4 446.4 749.4 447.1 745.9 447.6 737.1 446.6 728.1 445.1 722.9 444.6 722.4 443.4 718.9 440.4 714.1 436.1 712.1ZM433.9 723.4 434.6 723.4 438.1 726.6 439.6 731.6 439.9 734.1 439.6 740.4 438.6 743.6 437.6 745.4 434.4 747.9 431.9 745.9 430.4 743.9 429.4 739.9 429.4 737.1 429.1 736.9 429.4 730.9 430.1 728.1 431.4 725.6ZM411.1 671.4 422.6 675.6 430.6 677.4 434.4 677.4 438.9 676.6 443.6 675.1 449.6 672.6 446.9 671.6 442.4 670.6 437.9 670.1 432.1 670.1 431.9 669.9 416.9 670.4Z" fill="#f0cad7" stroke="#f0cad7" stroke-width="0.5" fill-rule="evenodd"/>
<path d="M451.6 659.1 446.6 658.9 446.4 658.6 438.1 659.1 429.4 662.4 425.1 663.1 420.9 663.1 417.9 662.6 413.4 661.4 409.6 659.9 407.9 659.6 401.1 659.9 395.4 661.6 390.9 664.1 387.1 667.1 383.1 671.1 390.9 668.9 399.6 668.9 406.1 669.9 410.6 671.4 414.9 670.4 420.1 670.1 420.4 669.9 428.6 669.9 428.9 669.6 437.9 669.9 444.9 670.9 449.9 672.6 448.6 673.4 440.6 676.4 434.4 677.6 430.6 677.6 427.4 677.1 420.1 674.9 427.6 679.9 430.9 685.1 429.9 688.4 429.9 690.9 428.4 693.1 427.6 696.4 425.4 701.1 425.4 702.4 424.1 704.9 423.4 709.1 422.4 711.4 420.1 727.6 419.9 732.6 419.6 732.9 419.6 738.1 419.4 738.4 419.6 749.6 421.6 765.4 422.6 767.9 423.1 771.4 424.9 775.1 425.4 777.6 426.9 781.1 428.4 783.1 430.1 786.6 430.9 789.1 430.9 790.4 429.9 791.9 428.1 793.4 432.4 792.4 437.4 792.4 444.4 794.1 442.4 793.1 440.6 789.9 442.1 787.9 442.6 786.1 444.6 784.1 450.9 773.9 451.6 771.1 452.6 769.6 453.4 766.4 454.1 764.9 455.6 756.1 456.1 754.9 457.1 745.6 457.1 736.4 456.9 736.1 456.4 728.1 453.6 714.4 452.9 713.1 451.9 708.6 449.9 704.9 449.4 702.6 446.6 696.9 445.4 695.4 442.1 689.4 440.9 686.4 440.6 684.6 441.1 682.1 442.1 680.1 447.6 674.6 449.9 673.1 454.4 670.9 462.4 668.1 465.6 667.4 470.1 667.1 463.4 662.9 456.1 660.1ZM435.1 711.9 436.1 711.9 440.4 713.9 442.9 717.4 444.9 722.4 445.4 722.9 446.9 728.1 447.9 737.1 447.4 745.9 446.6 749.4 444.4 756.4 443.1 757.9 442.4 759.6 440.4 761.6 436.1 763.6 431.6 761.9 428.9 758.1 426.9 752.9 426.9 751.9 425.9 748.9 425.1 742.1 425.4 731.4 427.9 719.9 429.1 718.1 429.6 716.1 432.4 713.4 433.6 713.1Z" fill="#d98fa8" stroke="#d98fa8" stroke-width="0.5" fill-rule="evenodd"/>
<path d="M390.9 669.1 387.1 670.1 391.1 669.6 391.4 669.9 394.6 669.9 397.6 670.6 402.1 672.6 406.4 675.9 410.4 682.6 411.1 687.4 411.9 689.9 412.1 700.6 411.9 700.9 411.9 708.1 411.6 708.4 411.6 713.1 411.4 713.4 410.9 726.1 410.6 726.4 410.6 733.4 410.4 733.6 410.4 754.1 410.6 754.4 410.6 760.9 410.9 761.1 411.1 769.4 411.4 769.6 411.9 781.4 412.1 781.6 412.1 790.9 411.6 794.1 410.4 797.9 407.9 800.6 405.6 802.4 412.9 800.1 422.4 795.6 426.9 793.9 429.1 792.4 430.6 790.4 430.6 789.1 429.9 786.6 428.1 783.1 426.6 781.1 425.1 777.6 424.6 775.1 422.9 771.4 422.4 767.9 421.4 765.4 421.4 763.9 420.4 758.9 419.4 749.6 419.4 744.6 419.1 744.4 419.4 732.9 421.1 717.1 421.9 714.6 422.1 711.4 423.1 709.1 423.6 705.6 425.1 702.4 425.1 701.1 427.4 696.4 428.1 693.1 429.6 690.9 429.6 688.4 430.6 685.1 427.6 680.1 419.9 674.9 409.6 671.1 402.4 669.4ZM408.9 659.6 398.4 655.6 393.6 654.4 387.1 653.6 384.4 653.9 380.4 655.1 374.1 658.9 366.4 666.1 361.9 671.9 357.4 678.9 352.4 689.4 348.6 700.9 347.6 706.9 347.1 708.1 346.1 717.6 346.1 729.4 346.9 736.9 347.1 736.6 347.4 729.4 347.9 727.6 348.6 721.1 351.6 709.9 354.1 703.1 358.4 694.4 364.1 685.9 368.6 680.6 373.6 676.4 377.4 673.9 382.6 671.4 389.1 665.1 393.4 662.4 396.6 660.9 401.1 659.6 402.9 659.4ZM457.1 652.1 455.1 652.4 446.9 654.6 433.9 660.4 438.1 658.9 446.4 658.4 446.6 658.6 451.6 658.9 456.1 659.9 463.4 662.6 470.4 667.1 469.6 667.6 465.6 667.6 462.4 668.4 455.6 670.6 449.9 673.4 447.6 674.9 444.1 678.1 442.4 680.1 441.1 683.1 440.9 684.6 441.1 686.4 443.9 692.4 446.9 696.9 449.6 702.6 450.1 704.9 452.1 708.6 453.1 713.1 454.1 715.1 456.6 728.1 457.1 736.1 457.4 736.4 457.4 745.6 456.4 754.9 455.9 756.1 454.4 764.9 453.6 766.4 452.9 769.6 451.9 771.1 451.1 773.9 449.4 776.4 448.6 778.4 445.9 782.1 444.9 784.1 442.9 786.1 442.4 787.9 440.9 789.9 442.6 793.1 444.6 794.1 460.4 800.1 464.4 801.1 467.9 801.4 465.9 800.4 463.9 796.6 464.1 796.4 463.9 791.4 464.6 787.9 464.6 785.9 465.9 780.4 465.9 778.9 468.1 766.6 469.1 756.9 469.4 746.6 469.6 746.4 469.4 732.9 469.1 732.6 468.9 725.9 468.1 720.9 468.1 718.6 467.1 713.1 467.1 711.1 466.1 706.4 464.1 692.4 463.9 685.9 463.6 685.6 463.9 685.4 463.9 681.4 464.6 678.4 466.4 673.9 469.1 670.9 471.6 669.1 474.1 668.1 477.6 667.6 483.1 668.4 490.1 671.1 483.4 662.9 475.6 656.9 471.1 654.6 467.1 653.1 462.6 652.1Z" fill="#c86184" stroke="#c86184" stroke-width="0.5" fill-rule="evenodd"/>
<path d="M390.4 669.9 386.4 670.4 382.1 671.6 374.9 675.6 368.9 680.6 363.4 687.1 358.6 694.4 356.4 698.9 358.9 694.6 365.9 686.1 373.4 682.1 379.1 681.6 384.6 684.1 389.9 690.1 392.6 698.9 394.1 705.6 394.6 715.1 394.9 715.4 395.1 733.9 395.4 734.1 395.4 760.1 395.1 760.4 394.9 776.1 394.6 776.4 394.6 779.9 394.1 784.1 392.9 788.6 389.9 795.9 384.6 799.4 378.9 799.9 372.9 797.6 368.4 794.1 370.9 796.4 374.6 798.9 380.9 801.9 385.1 803.1 386.6 803.1 388.4 803.6 396.4 804.1 401.4 803.4 406.1 801.9 410.1 797.9 411.1 795.1 411.9 790.9 411.9 781.6 411.6 781.4 411.4 772.9 411.1 772.6 410.6 761.1 410.4 760.9 410.4 754.4 410.1 754.1 410.1 733.6 410.4 733.4 410.4 726.4 410.6 726.1 410.9 717.1 411.1 716.9 411.4 708.4 411.6 708.1 411.6 700.9 411.9 700.6 411.6 689.9 410.9 687.4 410.1 682.6 405.6 675.4 402.1 672.9 398.4 671.1 394.6 670.1ZM382.1 653.1 371.1 654.6 362.9 658.1 357.9 661.1 351.6 667.1 346.1 675.4 341.9 683.9 338.6 693.6 337.6 698.9 336.6 702.1 336.6 703.9 335.4 711.4 335.4 716.4 335.1 716.6 335.4 729.6 336.6 738.6 338.9 748.1 342.4 757.9 346.1 764.6 351.6 771.9 353.9 773.9 351.1 767.6 349.1 760.6 347.1 748.1 346.9 737.1 345.9 729.4 345.9 717.6 346.9 708.1 347.4 706.9 348.4 700.9 350.9 692.6 353.1 686.9 357.1 678.9 361.6 671.9 366.1 666.1 373.1 659.4 377.1 656.6 380.4 654.9 384.4 653.6 385.9 653.6ZM461.1 651.4 459.1 651.9 457.4 651.9 462.6 651.9 467.1 652.9 471.1 654.4 477.1 657.6 484.1 663.4 490.4 671.1 489.6 671.4 483.1 668.6 477.6 667.9 474.1 668.4 471.6 669.4 469.1 671.1 466.6 673.9 465.6 676.1 464.1 681.4 464.1 685.4 463.9 685.6 464.1 685.9 464.4 692.4 468.4 718.6 469.1 728.9 469.4 729.1 469.6 739.6 469.9 739.9 469.6 753.1 469.4 753.4 469.1 759.9 467.1 774.6 465.1 784.4 464.9 787.9 464.1 791.4 464.1 794.9 464.4 795.1 464.1 796.6 466.1 800.4 467.4 801.1 468.9 801.6 475.4 802.4 486.4 800.9 494.9 797.4 498.4 795.4 495.1 797.1 490.9 796.9 487.6 793.6 486.4 786.9 485.9 779.9 486.1 779.6 486.6 760.4 486.9 760.1 486.9 728.6 486.6 728.4 485.9 703.6 487.6 687.9 490.6 682.1 491.6 681.1 495.1 678.9 499.9 679.4 505.1 682.6 503.1 680.6 501.6 677.1 498.9 672.4 492.4 663.6 486.6 658.9 482.9 656.4 477.1 653.6 472.6 652.4 467.9 651.6Z" fill="#b6335c" stroke="#b6335c" stroke-width="0.5" fill-rule="evenodd"/>
<path d="M378.1 681.9 372.6 682.6 365.9 686.4 359.1 694.6 356.4 699.1 354.4 703.1 351.9 709.9 348.9 721.1 347.4 732.1 347.1 743.4 347.4 743.6 347.6 750.6 348.6 755.6 348.6 757.1 350.9 766.1 354.1 774.4 360.1 785.1 366.1 792.4 372.9 797.4 378.9 799.6 384.6 799.1 389.6 795.9 392.6 788.6 393.9 784.1 394.4 779.9 394.4 776.4 394.6 776.1 394.6 770.9 394.9 770.6 395.1 734.1 394.9 733.9 394.9 722.1 394.6 721.9 394.1 707.1 392.4 698.9 389.6 690.1 384.6 684.4 379.9 682.1ZM495.1 679.1 490.9 682.1 487.9 687.9 486.1 703.6 486.9 728.4 487.1 728.6 487.1 760.1 486.9 760.4 486.9 767.6 486.6 767.9 486.1 781.9 486.6 786.9 487.9 793.6 490.9 796.6 492.1 796.9 495.1 796.9 499.9 794.4 504.1 791.4 510.1 785.1 516.9 775.4 521.1 766.6 523.9 758.1 525.6 748.9 526.1 738.4 526.4 738.1 526.1 737.9 525.6 727.4 524.1 718.9 521.1 708.6 516.6 698.6 511.6 690.4 505.4 682.9 499.9 679.6ZM494.1 665.9 498.1 671.1 497.1 669.4ZM357.1 661.6 353.6 664.1 347.9 670.1 340.6 680.6 336.9 688.4 335.6 692.1 335.6 692.9 333.9 697.6 332.1 707.1 331.6 719.9 331.9 720.1 332.1 727.6 332.6 729.1 333.9 737.4 336.9 747.1 340.1 754.6 345.4 763.9 347.4 766.4 345.1 763.4 341.4 756.1 338.6 748.1 336.6 739.9 335.1 729.6 335.1 724.6 334.9 724.4 335.1 711.4 336.4 703.9 336.4 702.1 337.4 698.9 338.1 694.6 341.6 683.9 345.9 675.4 351.4 667.1Z" fill="#a1063a" stroke="#a1063a" stroke-width="0.5" fill-rule="evenodd"/>
<path transform="scale(0.1)" d="M4397 6763l-45-3-98 3M4509 6720l-16-16-24-15-49-11-164 18-150-11-26 7-14 10M4589 6694l-27-44-29-26-41-14-25-2-54 7-113 29-54 7-53-4-131-28-42 2-16 6-21 22-8 40M4199 6747l4 2M4213 6752l5 2M4227 6757l78 17 54-1 54-13 104-41M4524 6716l21-7M4656 6675l-12-39-24-41-18-17-24-13-28-7-32-2-71 12-144 51-66 11-67-8-139-44-62-9-25 3-21 8-14 14-9 18-4 20 0 22 7 38M3992 6692l36 2 67 17 180 63 67 8 66-11 202-83 50-12M4719 6671l-5-41-8-29-14-26-21-23-27-17-34-9-40-2-43 5-46 12-169 74M4299 6620l-7 2M4034 6575l-59-22-42-10-37-4-31 4-25 11-16 18-9 23-1 27 5 29 20 58M3886 6697l4-1M3904 6692l31-2 73 12 89 28 176 70 39 9 38 2 39-4 40-11 253-110 32-10 40-4M4778 6674l1-30-4-37-13-33-22-28-31-20-40-12-47-2-62 10M3862 6535l-8-1M3839 6532l-53 3-28 13-18 21-7 28 3 34 11 36 33 67M3814 6719l24-9 32-1 87 14 107 33 207 87 44 12 42 4 43-6 46-14 212-97 97-38 65-17 20 2M4835 6681l3-51-9-39-23-32-35-23-54-14M3725 6545l-14 1-32 15-19 24-5 33 8 39 20 43 45 70M3748 6757l24-10 35-1 46 5 115 27 129 46 173 76 47 15 45 5 46-7 52-17 185-85 126-52 97-31 31-7 20 1M4890 6701l6-33-6-44-22-35-38-25M3634 6579l-29 13-20 27-2 35 15 44 30 49 54 65M3687 6809l24-9 38 0 112 17 69 17 147 48 192 84 48 18 46 6 49-8 56-20 215-94 145-55 110-34 36-7 20 0M4944 6727l3-9-2-46-22-37M3544 6637l-6 3-21 27 1 38 22 46 42 52 56 56M3633 6873l22-7 96 9 144 29 82 21 161 54 179 78 45 6 49-8 217-87 173-62 201-60 59-12M4992 6763l2-31-22-37M3478 6701l-20 28 3 38 29 46 55 55 50 39M3585 6947l21-4 102 13 246 47 176 49 77 28 109 47 41 7 48-9 241-85 98-30 376-101M5034 6802l-3-6M5024 6784l-4-6M3415 6794l-7 9 6 36 35 45 67 53 48 29M3546 7029l204 29 282 50 174 43 108 39 36 7 46-8 264-72 447-104 63-20M3371 6882l-3 4 7 34 42 42 78 48 38 18M3514 7117l18 6 112 21 476 63 221 39 653-105 151-32 45-14 20-11M3342 6972l-4 5 10 30 46 37 109 49M3489 7210l19 11 47 13 152 24 201 18 297 10 351-8 243-14 218-24 155-30 47-15 19-15M3321 7073l10 26 49 30 116 38M3477 7303l-3 3 19 16 48 15 69 14 185 18 106 4 110-2 104-7 91-14 65-17 56-26 119 22 110 13 125 9 126 2 118-4 105-8 89-12 70-14 48-17 21-17-2-2M3315 7172l11 22 49 22 95 22M3470 7402l18 21 48 18 70 15 87 10 99 5 107-2 110-9 106-19 91-28 65-35 57-45 116 41 111 31 127 23 127 13 120 4 106-3 90-9 70-14 48-17 21-20M3321 7273l10 17 49 14 93 11M3474 7496l19 26 48 21 69 16 86 9 99 2 106-7 110-17 104-28 91-42 65-50 56-68 119 64 110 46 125 36 126 24 118 12 105 1 89-6 70-13 48-18 21-22M3338 7373l10 11 46 7 73 1M3489 7587l19 31 47 23 68 16 84 8 97-1 104-11 107-23 102-38 88-51 66-61 61-83 119 79 105 57 121 46 122 33 115 18 103 6 87-3 68-12 47-18 21-25M3368 7470l7 6 42 1 52-6M3512 7673l20 34 46 25 66 17 82 6 93-3 100-15 103-28 98-44 85-58 65-66 41-57 30-26 44 24 73 55 99 62 113 53 116 39 110 24 98 10 84-1 67-10 45-19 21-26M3408 7562l6 2 57-11M3544 7753l21 36 44 26 63 16 78 6 89-5 96-18 97-32 92-47 82-60 63-65 45-54 36-22 46 20 160 113 104 56 107 42 103 27 94 14 79 1 64-9 43-19 21-27M3458 7646l2-1M3461 7645l38-14M3599 7848l7 12 43 27 59 16 74 5 83-7 89-20 90-34 86-47 77-58 109-106 41-19 48 17 147 100 94 54 98 43 95 30 86 15 75 4 59-8 41-19 4-4M3517 7721l1-1M3518 7719l7-7M3652 7914l3 6 41 26 55 15 68 4 76-8 82-20 83-34 78-44 71-53 108-90 45-15 49 13 217 133 88 41 85 30 79 17 68 4 54-7 42-22M3711 7966l38 25 51 14 61 3 69-8 73-20 74-31 71-41 121-87 48-31 46-12 49 10 56 28 138 82 77 37 75 27 70 17 61 5 49-5 36-17M3807 8019l46 13 54 2 61-8 65-18 64-27 63-34 110-71 47-23 45-10 46 7 52 22 120 65 65 31 65 25 61 15 53 5 44-5 10-5M3903 8038l54 4 52-7 55-15 56-23 151-81 44-17 42-7 43 5 46 15 158 74 54 20 51 13 46 5 31-4M4052 8025l15-4M4090 8015l54-19 129-59 39-12 38-5 39 3 40 10 131 53 44 15 54 12M4298 7930l44-6 33 2 62 15M4448 7944l24 9M4484 7957l17 6M4563 6702l23-13 70-14M4509 6720l71-43 71-20 67 1 30 11M4491 6723l11-11 70-48 72-28 70-6 65 14 58 30 25 22M4461 6739l32-35 69-54 72-35 72-14 69 6 63 23 58 38 51 50 29 41M4442 6746l40-50 67-60 71-41 72-20 70-1 67 17 61 33 55 48 49 60 40 70M4422 6754l47-65 64-65 69-46 69-26 69-6 66 13 62 30 55 46 49 60M4986 6718l7 12M4411 6751l44-68 59-68 64-50 66-30 65-9 62 10 59 28M4391 6762l47-82 54-70 58-52 60-32 59-12 57 9M4379 6760l41-82 47-70 51-52 52-32 52-12 8 2M4366 6760l35-82 40-68 42-50 44-31 21-5M4562 6521l7-2M4352 6760l29-80 32-65 34-47 40-28M4335 6774l25-91 25-61 25-42 29-21M4322 6774l17-87 17-57 17-36 17-15M4308 6775l20-137 9-31 9-7M4295 6762l9-144M4281 6763l-8-114-5-21M4266 6763l-20-112-9-21-3 2M4249 6752l-13-56-16-46-16-21-5 1M4234 6752l-18-57-23-48-23-25-7 0M4219 6751l-23-58-30-52-30-29-10-2M4199 6739l-23-49-37-55-45-37M4184 6738l-27-50-45-60-47-40-46-20M4170 6737l-31-51-53-64-55-44-56-25-9-1M4148 6724l-26-39-60-66-64-48-65-28-10-1M4125 6712l-19-27-66-67-71-49-73-30-72-8-12 1M4113 6714l-21-26-72-67-76-49-79-29-79-8-75 11-24 10M3664 6566l-12 5M4091 6705l-87-78-81-47-83-26-82-6-79 13-74 31-67 48M3518 6660l-48 54M4070 6698l-78-61-83-43-85-22-84-3-80 16-75 34-68 48-59 62-50 74-40 83-30 91-17 96-6 99 6 101 17 100 30 97 40 92 50 84 71 86M4049 6696l-66-47-83-37-85-17-82 2-78 21-72 36-65 51-57 62-47 72-39 81-27 87-17 92-5 95 5 96 17 94 27 92 39 88 47 80 68 83M4018 6688l-40-25-82-31-82-10-78 9-73 26-65 41-58 53-50 62-41 71-32 78-23 82-14 85-5 87 5 88 14 87 23 86 32 81 41 77 17 23M4002 6692l-26-15-80-23-77-3-72 16-64 33-55 47-46 56-37 65-29 69-21 73-14 75-8 76-3 77 3 77M3963 6688l-64-14-72 5-64 24-53 41-42 53-30 62M3903 6692l-67 11-56 31M3816 6717l-66 38-62 52-55 64-48 74-41 83-32 89-23 93-15 96-4 96 4 94 15 91 23 86 32 80M3907 6691l-69 19-66 37-61 53-56 66-49 77-41 87-33 93-24 98-15 101-5 101 5 99 15 96 24 89 33 82 41 71 49 60 56 46M4000 6691l-65-1-65 19-63 37-58 54-53 68-47 79-40 89-31 96-23 102-14 103-5 104 5 102 14 98 23 91 31 83 40 72 47 59 53 45 58 28M4028 6694l-59-1-59 20-57 38-53 55-49 69-43 81-36 90-28 98-21 102-13 105-4 105 4 103 13 98 21 92 28 82 36 72 43 58 49 44 53 27 57 8M4069 6704l-9-3-52 1-51 21-50 39-46 55-42 70-37 81-32 90-24 98-19 102-11 104-3 104 3 102 11 97 19 90 24 82 32 71 37 57 42 43 46 26 50 8 8-2M4102 6713l-7-2-43 3-43 23-41 41-38 56-35 70-30 80-26 89-20 95-15 100-9 101-3 102 3 99 9 94 15 88 20 80 26 69 30 56 35 43 38 26 41 9 7-1M4030 8030l8-1M4154 6732l-22-9-35 7-33 26-31 43-30 57-26 69-23 78-19 86-16 92-18 192-2 96 9 184 11 84 16 77 19 67 23 56 26 43 30 28 31 12 33-7M4181 6741l-12-4-25 11-24 30-23 46-20 58-17 68-28 158-10 86-11 177 0 175 4 84 17 152 12 65 16 56 17 46 20 32 23 16 24-1M4220 6755l-15-4-16 17-15 34-26 109-18 141-13 233 0 307 13 208 18 108 12 39 14 23 15 5 3-2M4250 6763l-9 1-9 21-14 92-9 132-3 142 1 591 11 168 6 31 10 12M4278 6770l-7 73-3 194 3 341-2 443 5 115M4275 7936l0-1M4305 6774l7 35 5 175-1 143-9 220 10 369 0 137-7 74M4332 6775l10 7 8 29 12 109 1 70-6 144-7 63-23 110 0 51 23 176 12 167 0 142-5 49-7 28-8 4M4359 6773l16 6 14 28 11 46 12 129-7 143-9 64-28 125-1 31 1 35 37 254 7 154-4 62-8 47-11 26-14 3M4386 6767l22 4 21 25 17 43 14 57 8 66 3 70-6 137-19 160-2 45 26 304-2 138-8 56-14 40-17 21-21-1M4413 6760l30-1 28 21 25 38 21 52 16 63 12 68 11 142 0 524-11 132-12 57-16 47-21 32-25 14-24-5M4440 6750l38-5 37 15 34 33 31 48 26 59 22 68 32 149 10 77 11 157 0 153-11 148-24 136-18 59-22 51-26 39-31 24-34 7-31-11M4466 6740l47-11 47 10 44 28 41 44 38 57 33 67 28 75 23 81 19 85 13 88 8 89 2 88-2 87-8 84-13 79-19 74-23 66-28 57-33 47-38 33-41 18-44 0-8-3M4492 6729l56-16 56 5 54 24 52 41 48 56 43 67 38 77 31 85 26 90 18 95 11 96 4 96-4 95-11 90-18 85-26 77-31 69-38 57-43 44-48 31-52 13-54-5-10-4M4517 6719l63-20 65 1 64 21 62 38 57 54 52 68 45 79 39 87 30 94 23 99 13 101 5 101-5 99-13 95-23 89-30 81-39 70-45 59-52 44-57 29-62 11-64-7M4539 6711l71-23 72-2 73 18 69 37 65 53 59 67 52 79 43 89 35 96 26 100 15 104 6 104-6 102-15 98-26 91-35 83-43 73-52 59-59 45-65 29-69 11M4622 6684l13-4 79-4 78 17 76 35 70 51 64 67 57 78 48 89 38 96 27 101 17 105 6 104-6 103-17 99-27 93-38 84-48 74-57 60-64 47-70 29-13 2M4830 8014l-25 4M4655 6676l83-5 82 16 79 34 75 51 67 65 59 77 50 87 40 94 29 100 18 103 6 104-6 102-18 99-29 92-40 84-50 74-59 62-80 53M4740 6672l14 0 84 15 80 34 75 49 68 64 59 75 51 84 40 92 29 96 18 100 6 101-6 100-18 96-29 91-40 83M5154 7776l-8 12M5129 7813l-9 12" fill="none" stroke="#000" stroke-opacity="0.13" stroke-width="0.5" vector-effect="non-scaling-stroke"/>
<path transform="scale(0.1)" d="M3786 6535h1m37-4h1m71 8h1m630-10h1m41-10h1m0 5h1m39 2h1m11-14h1m21 23h1m24-21h1m39 12h1m16-3h1m44 13h1m-1093 25h1m31-15h1m28 23h1m17-21h1m65 24h1m15-18h1m24-11h1m67 0h1m10 29h1m24-3h1m5-16h1m22 18h1m20-3h1m11 10h1m358 1h1m19 1h1m24-21h1m11 9h1m33-27h1m1 19h1m34-4h1m31 2h1m27 7h1m23 13h1m68-26h1m20 23h1m47-29h1m21 28h1m43-15h1m23 5h1m-1246 55h1m19-27h1m49 26h1m4-33h1m72 12h1m81-2h1m84 17h1m8-18h1m13-14h1m116 38h1m21 1h1m2-31h1m35 12h1m34 12h1m166 7h1m33-12h1m8-7h1m26-6h1m39 21h1m27-5h1m25-2h1m24 2h1m21 5h1m105-20h1m13 20h1m71-14h1m68 6h1m53-16h1m38-2h1m-1331 51h1m44 14h1m79 3h1m72-26h1m77-9h1m4 29h1m76-19h1m-1 22h1m86-5h1m8-12h1m11-10h1m15-6h1m65 1h1m25 6h1m26 7h1m26 6h1m3-19h1m22 25h1m10-18h1m15 21h1m16-20h1m8 21h1m22-24h1m3 22h1m26-5h1m27-6h1m27-8h1m28-8h1m147 2h1m15 12h1m12 14h1m81-14h1m6 21h1m62-27h1m3 28h1m60-14h1m58-14h1m51-6h1m32 11h1m-1407 32h1m80 31h1m148-31h1m79 12h1m58 18h1m12-23h1m3 18h1m3-1h1m27-1h1m33 3h1m6-16h1m1-14h1m21 28h1m27 3h1m41 4h1m9-6h1m11-4h1m13-3h1m15 0h1m16 1h1m17 2h1m18 2h1m19 3h1m19 2h1m19 1h1m19 0h1m20-1h1m20-2h1m19-3h1m20-3h1m20-4h1m20-3h1m19-2h1m18 0h1m17 2h1m16 3h1m13 6h1m12 7h1m89-32h1m7 35h1m-1-22h1m5 12h1m23-1h1m24-8h1m19-4h1m0-1h1m25 11h1m31-10h1m23-5h1m15 1h1m37 21h1m27-6h1m16-13h1m0 13h1m57-19h1m48 4h1m26 23h1m-1515 34h1m19-28h1m39 4h1m164-5h1m79 3h1m16 31h1m35-17h1m19-14h1m1 7h1m31-1h1m39 4h1m46 10h1m50-21h1m0 35h1m42-23h1m7-13h1m34 10h1m1 19h1m34-7h1m36 14h1m296 3h1m25-11h1m0-25h1m8 8h1m6 8h1m3 9h1m3-10h1m21-8h1m8 2h1m11 26h1m43-21h1m40-18h1m63 21h1m45-17h1m112 24h1m30-7h1m18 0h1m28-3h1m46 14h1m-1534 35h1m78-16h1m87-4h1m81-3h1m39 11h1m21-8h1m34-1h1m45 5h1m53 11h1m60 16h1m95-22h1m55 22h1m23-30h1m44 20h1m15-17h1m35 13h1m8-1h1m15 0h1m8 11h1m2-4h1m2-7h1m13-1h1m9 12h1m4-13h1m13 0h1m7 14h1m5-15h1m13 0h1m6 13h1m6-13h1m8 19h1m3-19h1m6 7h1m4-5h1m16 9h1m4-11h1m26-10h1m2 9h1m27 21h1m6-35h1m36 15h1m88 7h1m53-25h1m112 17h1m52-18h1m113 38h1m35-7h1m18-2h1m19-4h1m-1606 37h1m81 10h1m91-10h1m85-6h1m19 10h1m22-7h1m37 0h1m50 6h1m60 11h1m171-18h1m140 3h1m57-17h1m40 15h1m35-20h1m2 29h1m29-27h1m7 29h1m38-4h1m39-11h1m66 22h1m52-25h1m95 18h1m64-28h1m117 30h1m60-19h1m144 8h1m-1621 37h1m223 20h1m291-25h1m72 22h1m93-32h1m62 27h1m63-27h1m46 19h1m43 12h1m41 4h1m42-6h1m45-14h1m133 2h1m177-2h1m243 7h1m38-9h1m19-3h1m-1694 52h1m80-2h1m95-16h1m87 3h1m21-5h1m40 2h1m54 7h1m67 12h1m257-5h1m140-5h1m241 19h1m56-26h1m165-2h1m196 13h1m67-20h1m-1574 59h1m140 17h1m378-33h1m81 21h1m170-14h1m121-11h1m46 15h1m44 5h1m45-7h1m124 20h1m72-33h1m109 35h1m84-29h1m198 34h1m58-16h1m40-10h1m19-5h1m-1783 68h1m78-15h1m167-17h1m20-2h1m42 4h1m58 9h1m73 12h1m277-18h1m77 29h1m74-39h1m55 26h1m198-4h1m159 6h1m296-8h1m-1578 47h1m146 3h1m369-26h1m88 19h1m254 6h1m107-25h1m45 6h1m48-8h1m132 19h1m198 9h1m94-27h1m267 30h1m42-12h1m20-8h1m-1778 51h1m149-16h1m20 2h1m43 6h1m62 10h1m77 12h1m293-32h1m85 26h1m137-15h1m48 20h1m93-2h1m59-23h1m174 8h1m317 7h1m78-18h1m-1723 44h1m9 26h1m149-14h1m357-12h1m95 16h1m271-9h1m154-17h1m189 9h1m214 19h1m102-23h1m319 27h1m20-10h1m-1832 44h1m131-12h1m19 6h1m45 9h1m453-24h1m91 21h1m143-22h1m47 20h1m40 7h1m47-9h1m64-22h1m189 14h1m417 8h1m66-16h1m-1831 63h1m157-11h1m170-17h1m81 12h1m92 12h1m386-17h1m62 22h1m195-4h1m90-26h1m229 33h1m109-18h1m97-17h1m-1669 53h1m48 22h1m113-6h1m429-29h1m102 13h1m97 13h1m193-17h1m35 7h1m45-8h1m160 23h1m112-18h1m501 16h1m46-15h1m20-14h1m-1771 57h1m37-17h1m46 13h1m67 12h1m83 12h1m497-38h1m64 13h1m40 10h1m29 3h1m43-5h1m72-13h1m455 25h1m102-13h1m86-15h1m-1784 48h1m9 17h1m472-22h1m103 8h1m106 6h1m101 3h1m87 1h1m65-1h1m37-2h1m22-1h1m42 0h1m75-1h1m104-3h1m120-5h1m121-9h1m437 34h1m20-17h1m-1879 23h1m92 11h1m0-9h1m18 16h1m47 15h1m729-4h1m35-17h1m19-9h1m0 26h1m39-19h1m77 15h1m672 0h1m69-14h1m-1852 58h1m271-22h1m85 11h1m98 7h1m105 4h1m109-2h1m103-7h1m90-14h1m64 28h1m35-31h1m19 11h1m39-13h1m0 35h1m75-6h1m111-32h1m124 9h1m125 2h1m117-4h1m104-8h1m-1683 43h1m45 7h1m75 11h1m735 11h1m100-32h1m24 16h1m222 8h1m639 14h1m47-17h1m20-20h1m-1777 41h1m47 18h1m69 15h1m402 4h1m105-19h1m155-15h1m37-1h1m31 33h1m33-35h1m70-1h1m235 6h1m126 13h1m119 4h1m105-3h1m89-9h1m-1758 37h1m6 6h1m41 1h1m56 19h1m218-30h1m98 5h1m106-2h1m306 7h1m64 4h1m39 4h1m73-2h1m65-6h1m104-8h1m701 14h1m-1766 40h1m621-4h1m234 16h1m107 3h1m97-4h1m124-29h1m125 24h1m117 12h1m193-5h1m69-13h1m47-18h1m-1830 58h1m5 2h1m34-6h1m91-15h1m68 16h1m85 9h1m98 2h1m105-7h1m109-17h1m193-5h1m64 0h1m43 15h1m81-2h1m280 25h1m352-38h1m209 37h1m-1752 9h1m18 31h1m608-26h1m87 15h1m63 3h1m87 7h1m107-12h1m91-6h1m241 13h1m419-9h1m-1762 43h1m2-2h1m28-9h1m64 6h1m67 16h1m284-4h1m106-23h1m300 6h1m88-2h1m264 18h1m243-22h1m102 6h1m86-3h1m67-12h1m-1661 52h1m194-8h1m96-1h1m315 1h1m85 10h1m61 8h1m201-5h1m85-11h1m229 24h1m403 4h1m20-26h1m-1695 52h1m0-4h1m13-10h1m45 25h1m340 5h1m102-28h1m101 26h1m192-19h1m44-15h1m48 13h1m140 20h1m107-11h1m235-8h1m97 10h1m83-1h1m66-10h1m-1602 39h1m99-4h1m81 6h1m92-3h1m387-10h1m60 13h1m94 23h1m107-28h1m295 15h1m382 14h1m20-27h1m-1607 37h1m43 26h1m325-1h1m96-32h1m97 18h1m78 6h1m107-16h1m94-2h1m55 28h1m76-17h1m100-11h1m223 4h1m93 14h1m78 1h1m63-9h1m-1523 25h1m86 8h1m77 6h1m88-5h1m204 15h1m93 12h1m130-38h1m47 32h1m44-10h1m45 7h1m124 6h1m94-9h1m115-16h1m355 22h1m19-28h1m-1515 35h1m42 27h1m304-6h1m258-17h1m56 12h1m44 23h1m41-7h1m42 5h1m59-25h1m145 26h1m109-10h1m122-27h1m85 15h1m74 4h1m58-8h1m-1405 48h1m52-17h1m73 5h1m82-7h1m111 36h1m82-34h1m87 5h1m69 2h1m52 6h1m1 21h1m1-2h1m33-7h1m2-3h1m29-1h1m7-4h1m24 6h1m13-3h1m18 9h1m20 1h1m16-21h1m49 23h1m20-32h1m62 34h1m102-2h1m117-17h1m78 17h1m67 4h1m53-7h1m38-17h1m-1346 31h1m14 20h1m39-5h1m67 4h1m75-8h1m107 23h1m73-31h1m82-2h1m13 23h1m14 5h1m34-34h1m7 14h1m238-6h1m43 19h1m33-7h1m95 7h1m112-6h1m69 17h1m109 0h1m35-17h1m-1226 29h1m50 14h1m6 14h1m53-11h1m68-8h1m102 8h1m30 12h1m32-39h1m-1 32h1m22-16h1m23-1h1m415-10h1m43 15h1m-1-15h1m40 26h1m12-6h1m23 9h1m26 4h1m0-26h1m60 15h1m52 5h1m43-5h1m20-24h1m-1037 48h1m53 2h1m2 6h1m46 2h1m10-16h1m40 9h1m42-10h1m702-1h1" fill="none" stroke="#000" stroke-opacity="0.4" stroke-width="0.9" vector-effect="non-scaling-stroke" stroke-linecap="round"/><g style="font-family:'Liberation Serif',serif;font-weight:bold" fill="#000" stroke="#000" stroke-width="0.18" opacity="0.995"><text x="105.0" y="12.7" font-size="12.2" textLength="74.0" lengthAdjust="spacingAndGlyphs">Bulk Modulus</text>
<text x="38.7" y="31.5" font-size="12.2" textLength="16.1" lengthAdjust="spacingAndGlyphs">2a)</text>
<text transform="translate(18.6 77.9) rotate(-90)" text-anchor="middle" font-size="8.9" textLength="23.8" lengthAdjust="spacingAndGlyphs">Z-axis</text>
<text x="11.5" y="165.0" font-size="8.9" textLength="24.5" lengthAdjust="spacingAndGlyphs">Y-axis</text>
<text x="136.9" y="188.6" font-size="8.9" textLength="24.3" lengthAdjust="spacingAndGlyphs">X-axis</text>
<polyline points="28.0,15.0 28.0,140.0 54.0,178.0 258.0,173.4" fill="none" stroke="#1a1a1a" stroke-width="1.3"/>
<text x="389.7" y="13.1" font-size="12.2" textLength="79.3" lengthAdjust="spacingAndGlyphs">Shear Modulus</text>
<text x="332.5" y="29.0" font-size="12.2" textLength="16.7" lengthAdjust="spacingAndGlyphs">2b)</text>
<text transform="translate(313.9 80.4) rotate(-90)" text-anchor="middle" font-size="8.9" textLength="24.8" lengthAdjust="spacingAndGlyphs">Z-axis</text>
<text x="300.7" y="166.0" font-size="8.9" textLength="24.3" lengthAdjust="spacingAndGlyphs">Y-axis</text>
<text x="428.9" y="193.8" font-size="8.9" textLength="25.2" lengthAdjust="spacingAndGlyphs">X-axis</text>
<polyline points="321.6,19.6 321.6,142.6 350.1,180.4 545.4,174.9" fill="none" stroke="#1a1a1a" stroke-width="1.3"/>
<rect x="547.1" y="47.90" width="6.6" height="17.43" fill="#a1063a" stroke="none"/>
<rect x="547.1" y="65.03" width="6.6" height="17.43" fill="#b6335c" stroke="none"/>
<rect x="547.1" y="82.17" width="6.6" height="17.43" fill="#c86184" stroke="none"/>
<rect x="547.1" y="99.30" width="6.6" height="17.43" fill="#d98fa8" stroke="none"/>
<rect x="547.1" y="116.43" width="6.6" height="17.43" fill="#f0cad7" stroke="none"/>
<rect x="547.1" y="133.57" width="6.6" height="17.13" fill="#ffffff" stroke="none"/>
<rect x="547.1" y="47.9" width="6.6" height="102.8" fill="none" stroke="#777" stroke-width="0.6"/>
<text x="555.7" y="61.7" font-size="8.9" textLength="13.2" lengthAdjust="spacingAndGlyphs">300</text>
<line x1="552.5" y1="58.8" x2="553.7" y2="58.8" stroke="#555" stroke-width="0.5"/>
<text x="555.7" y="84.3" font-size="8.9" textLength="13.2" lengthAdjust="spacingAndGlyphs">250</text>
<line x1="552.5" y1="81.4" x2="553.7" y2="81.4" stroke="#555" stroke-width="0.5"/>
<text x="555.7" y="105.3" font-size="8.9" textLength="13.2" lengthAdjust="spacingAndGlyphs">200</text>
<line x1="552.5" y1="102.4" x2="553.7" y2="102.4" stroke="#555" stroke-width="0.5"/>
<text x="555.7" y="126.4" font-size="8.9" textLength="13.2" lengthAdjust="spacingAndGlyphs">150</text>
<line x1="552.5" y1="123.5" x2="553.7" y2="123.5" stroke="#555" stroke-width="0.5"/>
<text x="555.7" y="147.4" font-size="8.9" textLength="13.2" lengthAdjust="spacingAndGlyphs">100</text>
<line x1="552.5" y1="144.5" x2="553.7" y2="144.5" stroke="#555" stroke-width="0.5"/>
<text transform="translate(579.7 97.0) rotate(-90)" text-anchor="middle" font-size="8.9" textLength="43.6" lengthAdjust="spacingAndGlyphs">G<tspan font-size="5.5" dy="1.5">max</tspan><tspan dy="-1.5"> (GPa)</tspan></text>
<text x="91.2" y="216.2" font-size="12.2" textLength="91.0" lengthAdjust="spacingAndGlyphs">Young's Modulus</text>
<text x="37.8" y="234.7" font-size="12.2" textLength="15.4" lengthAdjust="spacingAndGlyphs">2c)</text>
<text transform="translate(17.5 287.5) rotate(-90)" text-anchor="middle" font-size="8.9" textLength="23.8" lengthAdjust="spacingAndGlyphs">Z-axis</text>
<text x="6.0" y="369.6" font-size="8.9" textLength="23.8" lengthAdjust="spacingAndGlyphs">Y-axis</text>
<text x="128.1" y="395.3" font-size="8.9" textLength="25.2" lengthAdjust="spacingAndGlyphs">X-axis</text>
<polyline points="24.7,222.3 24.7,343.7 50.6,384.4 249.7,379.4" fill="none" stroke="#1a1a1a" stroke-width="1.3"/>
<rect x="242.5" y="255.90" width="5.6" height="17.43" fill="#a1063a" stroke="none"/>
<rect x="242.5" y="273.03" width="5.6" height="17.43" fill="#b6335c" stroke="none"/>
<rect x="242.5" y="290.17" width="5.6" height="17.43" fill="#c86184" stroke="none"/>
<rect x="242.5" y="307.30" width="5.6" height="17.43" fill="#d98fa8" stroke="none"/>
<rect x="242.5" y="324.43" width="5.6" height="17.43" fill="#f0cad7" stroke="none"/>
<rect x="242.5" y="341.57" width="5.6" height="17.13" fill="#ffffff" stroke="none"/>
<rect x="242.5" y="255.9" width="5.6" height="102.8" fill="none" stroke="#777" stroke-width="0.6"/>
<text x="251.7" y="274.0" font-size="8.9" textLength="13.2" lengthAdjust="spacingAndGlyphs">700</text>
<line x1="246.9" y1="271.1" x2="248.1" y2="271.1" stroke="#555" stroke-width="0.5"/>
<text x="251.7" y="292.4" font-size="8.9" textLength="13.2" lengthAdjust="spacingAndGlyphs">600</text>
<line x1="246.9" y1="289.5" x2="248.1" y2="289.5" stroke="#555" stroke-width="0.5"/>
<text x="251.7" y="311.6" font-size="8.9" textLength="13.2" lengthAdjust="spacingAndGlyphs">500</text>
<line x1="246.9" y1="308.7" x2="248.1" y2="308.7" stroke="#555" stroke-width="0.5"/>
<text x="251.7" y="330.0" font-size="8.9" textLength="13.2" lengthAdjust="spacingAndGlyphs">400</text>
<line x1="246.9" y1="327.1" x2="248.1" y2="327.1" stroke="#555" stroke-width="0.5"/>
<text x="251.7" y="350.7" font-size="8.9" textLength="13.2" lengthAdjust="spacingAndGlyphs">300</text>
<line x1="246.9" y1="347.8" x2="248.1" y2="347.8" stroke="#555" stroke-width="0.5"/>
<text transform="translate(276.5 306.0) rotate(-90)" text-anchor="middle" font-size="8.9" textLength="31.6" lengthAdjust="spacingAndGlyphs">Y (GPa)</text>
<text x="388.8" y="217.3" font-size="12.2" textLength="77.3" lengthAdjust="spacingAndGlyphs">Poisson's Ratio</text>
<text x="323.7" y="235.9" font-size="12.2" textLength="16.1" lengthAdjust="spacingAndGlyphs">2d)</text>
<text transform="translate(305.4 287.1) rotate(-90)" text-anchor="middle" font-size="8.9" textLength="23.0" lengthAdjust="spacingAndGlyphs">Z-axis</text>
<text x="294.7" y="370.5" font-size="8.9" textLength="23.5" lengthAdjust="spacingAndGlyphs">Y-axis</text>
<text x="421.0" y="395.9" font-size="8.9" textLength="24.6" lengthAdjust="spacingAndGlyphs">X-axis</text>
<polyline points="312.1,223.6 311.9,346.3 339.8,386.1 539.3,379.8" fill="none" stroke="#1a1a1a" stroke-width="1.3"/>
<rect x="539.2" y="251.90" width="5.9" height="17.38" fill="#a1063a" stroke="none"/>
<rect x="539.2" y="268.98" width="5.9" height="17.38" fill="#b6335c" stroke="none"/>
<rect x="539.2" y="286.07" width="5.9" height="17.38" fill="#c86184" stroke="none"/>
<rect x="539.2" y="303.15" width="5.9" height="17.38" fill="#d98fa8" stroke="none"/>
<rect x="539.2" y="320.23" width="5.9" height="17.38" fill="#f0cad7" stroke="none"/>
<rect x="539.2" y="337.32" width="5.9" height="17.08" fill="#ffffff" stroke="none"/>
<rect x="539.2" y="251.9" width="5.9" height="102.5" fill="none" stroke="#777" stroke-width="0.6"/>
<text x="547.5" y="273.6" font-size="8.9" textLength="11.4" lengthAdjust="spacingAndGlyphs">0.6</text>
<line x1="543.9" y1="270.7" x2="545.1" y2="270.7" stroke="#555" stroke-width="0.5"/>
<text x="547.5" y="294.0" font-size="8.9" textLength="11.4" lengthAdjust="spacingAndGlyphs">0.5</text>
<line x1="543.9" y1="291.1" x2="545.1" y2="291.1" stroke="#555" stroke-width="0.5"/>
<text x="547.5" y="313.8" font-size="8.9" textLength="11.4" lengthAdjust="spacingAndGlyphs">0.4</text>
<line x1="543.9" y1="310.9" x2="545.1" y2="310.9" stroke="#555" stroke-width="0.5"/>
<text x="547.5" y="334.2" font-size="8.9" textLength="11.4" lengthAdjust="spacingAndGlyphs">0.3</text>
<line x1="543.9" y1="331.3" x2="545.1" y2="331.3" stroke="#555" stroke-width="0.5"/>
<text x="547.5" y="353.3" font-size="8.9" textLength="11.4" lengthAdjust="spacingAndGlyphs">0.2</text>
<line x1="543.9" y1="350.4" x2="545.1" y2="350.4" stroke="#555" stroke-width="0.5"/>
<text transform="translate(569.2 303.6) rotate(-90)" text-anchor="middle" font-size="12" textLength="26.3" lengthAdjust="spacingAndGlyphs">v<tspan font-size="9" dy="2">max</tspan></text>
<text x="103.5" y="422.3" font-size="12.2" textLength="73.6" lengthAdjust="spacingAndGlyphs">Bulk Modulus</text>
<text x="40.0" y="437.1" font-size="12.2" textLength="15.4" lengthAdjust="spacingAndGlyphs">2e)</text>
<text transform="translate(20.0 491.6) rotate(-90)" text-anchor="middle" font-size="8.9" textLength="23.9" lengthAdjust="spacingAndGlyphs">Z-axis</text>
<text x="10.6" y="576.7" font-size="8.9" textLength="24.3" lengthAdjust="spacingAndGlyphs">Y-axis</text>
<text x="136.6" y="602.7" font-size="8.9" textLength="23.9" lengthAdjust="spacingAndGlyphs">X-axis</text>
<polyline points="26.4,427.3 26.4,551.1 55.7,589.4 250.4,584.4" fill="none" stroke="#1a1a1a" stroke-width="1.3"/>
<rect x="244.0" y="453.40" width="5.6" height="16.80" fill="#a1063a" stroke="none"/>
<rect x="244.0" y="469.90" width="5.6" height="16.80" fill="#b6335c" stroke="none"/>
<rect x="244.0" y="486.40" width="5.6" height="16.80" fill="#c86184" stroke="none"/>
<rect x="244.0" y="502.90" width="5.6" height="16.80" fill="#d98fa8" stroke="none"/>
<rect x="244.0" y="519.40" width="5.6" height="16.80" fill="#f0cad7" stroke="none"/>
<rect x="244.0" y="535.90" width="5.6" height="16.50" fill="#ffffff" stroke="none"/>
<rect x="244.0" y="453.4" width="5.6" height="99.0" fill="none" stroke="#777" stroke-width="0.6"/>
<text x="253.8" y="476.6" font-size="8.9" textLength="13.2" lengthAdjust="spacingAndGlyphs">365</text>
<line x1="248.4" y1="473.7" x2="249.6" y2="473.7" stroke="#555" stroke-width="0.5"/>
<text x="254.5" y="504.9" font-size="8.9" textLength="13.2" lengthAdjust="spacingAndGlyphs">360</text>
<line x1="248.4" y1="502.0" x2="249.6" y2="502.0" stroke="#555" stroke-width="0.5"/>
<text x="254.9" y="528.6" font-size="8.9" textLength="13.2" lengthAdjust="spacingAndGlyphs">355</text>
<line x1="248.4" y1="525.7" x2="249.6" y2="525.7" stroke="#555" stroke-width="0.5"/>
<text x="253.8" y="550.3" font-size="8.9" textLength="13.2" lengthAdjust="spacingAndGlyphs">350</text>
<line x1="248.4" y1="547.4" x2="249.6" y2="547.4" stroke="#555" stroke-width="0.5"/>
<text transform="translate(279.8 506.3) rotate(-90)" text-anchor="middle" font-size="8.9" textLength="31.6" lengthAdjust="spacingAndGlyphs">B (GPa)</text>
<text x="394.1" y="420.3" font-size="12.2" textLength="79.2" lengthAdjust="spacingAndGlyphs">Shear Modulus</text>
<text x="331.8" y="429.0" font-size="12.2" textLength="14.4" lengthAdjust="spacingAndGlyphs">2f)</text>
<text transform="translate(310.5 488.7) rotate(-90)" text-anchor="middle" font-size="8.9" textLength="23.0" lengthAdjust="spacingAndGlyphs">Z-axis</text>
<text x="296.7" y="578.7" font-size="8.9" textLength="24.4" lengthAdjust="spacingAndGlyphs">Y-axis</text>
<text x="437.4" y="611.1" font-size="8.9" textLength="23.5" lengthAdjust="spacingAndGlyphs">X-axis</text>
<polyline points="316.5,423.2 316.8,559.0 342.9,599.3 539.6,594.5" fill="none" stroke="#1a1a1a" stroke-width="1.3"/>
<rect x="547.3" y="455.60" width="6.2" height="19.02" fill="#a1063a" stroke="none"/>
<rect x="547.3" y="474.32" width="6.2" height="19.02" fill="#b6335c" stroke="none"/>
<rect x="547.3" y="493.03" width="6.2" height="19.02" fill="#c86184" stroke="none"/>
<rect x="547.3" y="511.75" width="6.2" height="19.02" fill="#d98fa8" stroke="none"/>
<rect x="547.3" y="530.47" width="6.2" height="19.02" fill="#f0cad7" stroke="none"/>
<rect x="547.3" y="549.18" width="6.2" height="18.72" fill="#ffffff" stroke="none"/>
<rect x="547.3" y="455.6" width="6.2" height="112.3" fill="none" stroke="#777" stroke-width="0.6"/>
<text x="556.7" y="472.0" font-size="8.9" textLength="14.0" lengthAdjust="spacingAndGlyphs">300</text>
<line x1="552.3" y1="469.1" x2="553.5" y2="469.1" stroke="#555" stroke-width="0.5"/>
<text x="556.7" y="487.6" font-size="8.9" textLength="14.0" lengthAdjust="spacingAndGlyphs">280</text>
<line x1="552.3" y1="484.7" x2="553.5" y2="484.7" stroke="#555" stroke-width="0.5"/>
<text x="556.7" y="503.6" font-size="8.9" textLength="14.0" lengthAdjust="spacingAndGlyphs">260</text>
<line x1="552.3" y1="500.7" x2="553.5" y2="500.7" stroke="#555" stroke-width="0.5"/>
<text x="556.7" y="520.2" font-size="8.9" textLength="14.0" lengthAdjust="spacingAndGlyphs">240</text>
<line x1="552.3" y1="517.3" x2="553.5" y2="517.3" stroke="#555" stroke-width="0.5"/>
<text x="556.7" y="536.9" font-size="8.9" textLength="14.0" lengthAdjust="spacingAndGlyphs">220</text>
<line x1="552.3" y1="534.0" x2="553.5" y2="534.0" stroke="#555" stroke-width="0.5"/>
<text x="556.7" y="552.4" font-size="8.9" textLength="14.0" lengthAdjust="spacingAndGlyphs">200</text>
<line x1="552.3" y1="549.5" x2="553.5" y2="549.5" stroke="#555" stroke-width="0.5"/>
<text x="556.7" y="568.0" font-size="8.9" textLength="14.0" lengthAdjust="spacingAndGlyphs">180</text>
<line x1="552.3" y1="565.1" x2="553.5" y2="565.1" stroke="#555" stroke-width="0.5"/>
<text transform="translate(579.1 510.3) rotate(-90)" text-anchor="middle" font-size="8.9" textLength="42.0" lengthAdjust="spacingAndGlyphs">G<tspan font-size="5.5" dy="1.5">max</tspan><tspan dy="-1.5"> (GPa)</tspan></text>
<text x="106.8" y="639.0" font-size="12.2" textLength="90.6" lengthAdjust="spacingAndGlyphs">Young's Modulus</text>
<text x="38.8" y="646.4" font-size="12.2" textLength="16.6" lengthAdjust="spacingAndGlyphs">2g)</text>
<text transform="translate(20.9 708.9) rotate(-90)" text-anchor="middle" font-size="8.9" textLength="24.3" lengthAdjust="spacingAndGlyphs">Z-axis</text>
<text x="9.4" y="796.2" font-size="8.9" textLength="23.8" lengthAdjust="spacingAndGlyphs">Y-axis</text>
<text x="140.7" y="824.7" font-size="8.9" textLength="24.9" lengthAdjust="spacingAndGlyphs">X-axis</text>
<polyline points="28.1,636.2 28.1,774.2 54.9,814.5 251.4,808.2" fill="none" stroke="#1a1a1a" stroke-width="1.3"/>
<rect x="247.2" y="670.20" width="6.4" height="18.93" fill="#a1063a" stroke="none"/>
<rect x="247.2" y="688.83" width="6.4" height="18.93" fill="#b6335c" stroke="none"/>
<rect x="247.2" y="707.47" width="6.4" height="18.93" fill="#c86184" stroke="none"/>
<rect x="247.2" y="726.10" width="6.4" height="18.93" fill="#d98fa8" stroke="none"/>
<rect x="247.2" y="744.73" width="6.4" height="18.93" fill="#f0cad7" stroke="none"/>
<rect x="247.2" y="763.37" width="6.4" height="18.63" fill="#ffffff" stroke="none"/>
<rect x="247.2" y="670.2" width="6.4" height="111.8" fill="none" stroke="#777" stroke-width="0.6"/>
<text x="256.6" y="686.1" font-size="8.9" textLength="13.5" lengthAdjust="spacingAndGlyphs">700</text>
<line x1="252.4" y1="683.2" x2="253.6" y2="683.2" stroke="#555" stroke-width="0.5"/>
<text x="256.6" y="709.0" font-size="8.9" textLength="13.5" lengthAdjust="spacingAndGlyphs">600</text>
<line x1="252.4" y1="706.1" x2="253.6" y2="706.1" stroke="#555" stroke-width="0.5"/>
<text x="256.6" y="731.7" font-size="8.9" textLength="13.5" lengthAdjust="spacingAndGlyphs">500</text>
<line x1="252.4" y1="728.8" x2="253.6" y2="728.8" stroke="#555" stroke-width="0.5"/>
<text x="256.6" y="754.5" font-size="8.9" textLength="13.5" lengthAdjust="spacingAndGlyphs">400</text>
<line x1="252.4" y1="751.6" x2="253.6" y2="751.6" stroke="#555" stroke-width="0.5"/>
<text x="256.6" y="777.4" font-size="8.9" textLength="13.5" lengthAdjust="spacingAndGlyphs">300</text>
<line x1="252.4" y1="774.5" x2="253.6" y2="774.5" stroke="#555" stroke-width="0.5"/>
<text transform="translate(280.6 725.1) rotate(-90)" text-anchor="middle" font-size="8.9" textLength="31.4" lengthAdjust="spacingAndGlyphs">Y (GPa)</text>
<text x="392.5" y="635.3" font-size="12.2" textLength="78.1" lengthAdjust="spacingAndGlyphs">Poisson's Ratio</text>
<text x="327.9" y="649.3" font-size="12.2" textLength="16.2" lengthAdjust="spacingAndGlyphs">2h)</text>
<text transform="translate(307.9 715.2) rotate(-90)" text-anchor="middle" font-size="8.9" textLength="23.3" lengthAdjust="spacingAndGlyphs">Z-axis</text>
<text x="299.8" y="802.6" font-size="8.9" textLength="23.5" lengthAdjust="spacingAndGlyphs">Y-axis</text>
<text x="435.7" y="828.1" font-size="8.9" textLength="23.9" lengthAdjust="spacingAndGlyphs">X-axis</text>
<polyline points="316.5,643.0 316.9,777.9 344.6,817.1 540.3,809.9" fill="none" stroke="#1a1a1a" stroke-width="1.3"/>
<rect x="544.2" y="674.70" width="6.4" height="18.83" fill="#a1063a" stroke="none"/>
<rect x="544.2" y="693.23" width="6.4" height="18.83" fill="#b6335c" stroke="none"/>
<rect x="544.2" y="711.77" width="6.4" height="18.83" fill="#c86184" stroke="none"/>
<rect x="544.2" y="730.30" width="6.4" height="18.83" fill="#d98fa8" stroke="none"/>
<rect x="544.2" y="748.83" width="6.4" height="18.83" fill="#f0cad7" stroke="none"/>
<rect x="544.2" y="767.37" width="6.4" height="18.53" fill="#ffffff" stroke="none"/>
<rect x="544.2" y="674.7" width="6.4" height="111.2" fill="none" stroke="#777" stroke-width="0.6"/>
<text x="552.1" y="697.5" font-size="8.9" textLength="11.6" lengthAdjust="spacingAndGlyphs">0.6</text>
<line x1="549.4" y1="694.6" x2="550.6" y2="694.6" stroke="#555" stroke-width="0.5"/>
<text x="552.1" y="718.0" font-size="8.9" textLength="11.6" lengthAdjust="spacingAndGlyphs">0.5</text>
<line x1="549.4" y1="715.1" x2="550.6" y2="715.1" stroke="#555" stroke-width="0.5"/>
<text x="552.1" y="739.4" font-size="8.9" textLength="11.6" lengthAdjust="spacingAndGlyphs">0.4</text>
<line x1="549.4" y1="736.5" x2="550.6" y2="736.5" stroke="#555" stroke-width="0.5"/>
<text x="552.1" y="761.0" font-size="8.9" textLength="11.6" lengthAdjust="spacingAndGlyphs">0.3</text>
<line x1="549.4" y1="758.1" x2="550.6" y2="758.1" stroke="#555" stroke-width="0.5"/>
<text x="552.1" y="780.4" font-size="8.9" textLength="11.6" lengthAdjust="spacingAndGlyphs">0.2</text>
<line x1="549.4" y1="777.5" x2="550.6" y2="777.5" stroke="#555" stroke-width="0.5"/>
<text transform="translate(574.6 734.8) rotate(-90)" text-anchor="middle" font-size="12" textLength="24.4" lengthAdjust="spacingAndGlyphs">v<tspan font-size="9" dy="2">max</tspan></text>
<rect x="244.2" y="66.2" width="5.6" height="6.3" fill="#bd4d73" stroke="#5a2035" stroke-width="0.6"/>
<text x="255.5" y="72.4" font-size="8.9" textLength="24.4" lengthAdjust="spacingAndGlyphs">410.33</text>
<text x="255.5" y="81.4" font-size="8.9" textLength="30.8" lengthAdjust="spacingAndGlyphs">B (GPa)</text></g></svg></body></html>
